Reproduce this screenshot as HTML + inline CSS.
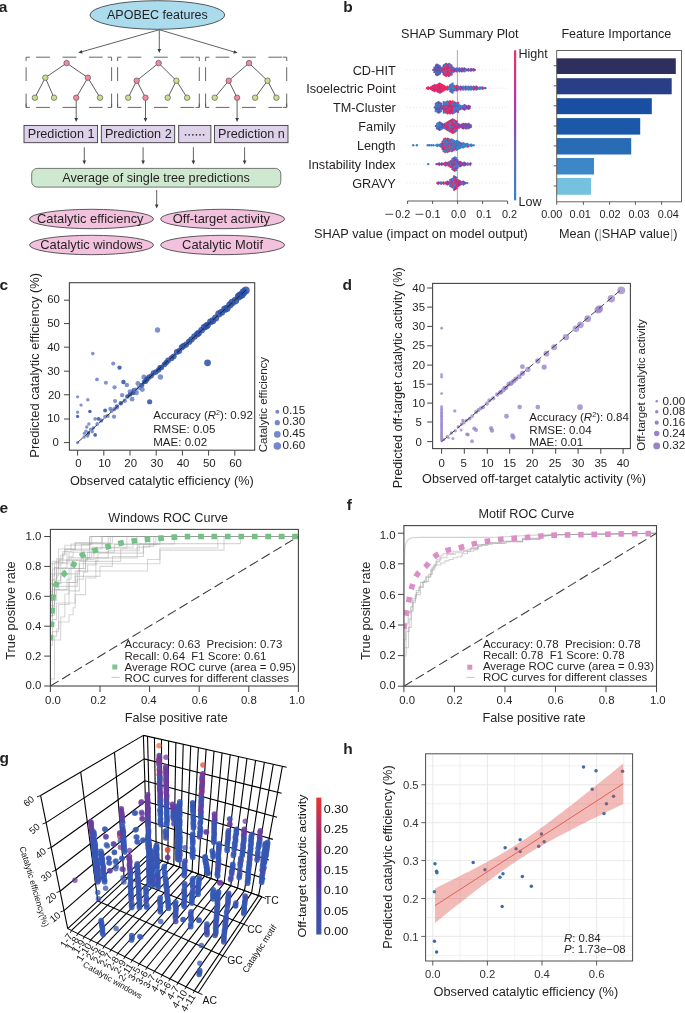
<!DOCTYPE html>
<html><head><meta charset="utf-8"><style>
html,body{margin:0;padding:0;background:#fff;}
body{width:685px;height:1013px;overflow:hidden;}
svg{display:block;font-family:"Liberation Sans", sans-serif;will-change:transform;}
</style></head><body>
<svg width="685" height="1013" viewBox="0 0 685 1013">
<rect x="0" y="0" width="685" height="1013" fill="#fff"/>
<text x="-1.20" y="11.80" font-size="15.5" text-anchor="start" font-weight="bold" fill="#231f20" >a</text>
<text x="343.30" y="11.70" font-size="15.5" text-anchor="start" font-weight="bold" fill="#231f20" >b</text>
<text x="-0.50" y="290.40" font-size="15.5" text-anchor="start" font-weight="bold" fill="#231f20" >c</text>
<text x="342.60" y="290.30" font-size="15.5" text-anchor="start" font-weight="bold" fill="#231f20" >d</text>
<text x="-0.50" y="513.40" font-size="15.5" text-anchor="start" font-weight="bold" fill="#231f20" >e</text>
<text x="346.80" y="509.90" font-size="15.5" text-anchor="start" font-weight="bold" fill="#231f20" >f</text>
<text x="-0.50" y="762.50" font-size="15.5" text-anchor="start" font-weight="bold" fill="#231f20" >g</text>
<text x="343.20" y="754.00" font-size="15.5" text-anchor="start" font-weight="bold" fill="#231f20" >h</text>
<ellipse cx="157.4" cy="15.0" rx="67.4" ry="14.3" fill="#abdcee" stroke="#333" stroke-width="0.8"/>
<text x="157.40" y="19.40" font-size="12.5" text-anchor="middle" font-weight="normal" fill="#231f20" >APOBEC features</text>
<line x1="159.00" y1="29.80" x2="81.67" y2="51.84" stroke="#3a3a3a" stroke-width="0.8" />
<path d="M78.30,52.80 L81.65,49.97 L82.64,53.43 Z" fill="#3a3a3a"/>
<line x1="159.30" y1="29.80" x2="159.30" y2="49.50" stroke="#3a3a3a" stroke-width="0.8" />
<path d="M159.30,53.00 L157.50,49.00 L161.10,49.00 Z" fill="#3a3a3a"/>
<line x1="159.60" y1="29.80" x2="234.25" y2="52.00" stroke="#3a3a3a" stroke-width="0.8" />
<path d="M237.60,53.00 L233.25,53.58 L234.28,50.13 Z" fill="#3a3a3a"/>
<line x1="26.10" y1="57.20" x2="111.60" y2="57.20" stroke="#555" stroke-width="0.9" stroke-dasharray="13.8 12.6" stroke-dashoffset="16.4"/>
<line x1="26.10" y1="107.40" x2="111.60" y2="107.40" stroke="#555" stroke-width="0.9" stroke-dasharray="13.8 12.6" stroke-dashoffset="16.4"/>
<line x1="26.10" y1="57.20" x2="26.10" y2="107.40" stroke="#555" stroke-width="0.9" stroke-dasharray="13.8 12.6" stroke-dashoffset="16.4"/>
<line x1="111.60" y1="57.20" x2="111.60" y2="107.40" stroke="#555" stroke-width="0.9" stroke-dasharray="13.8 12.6" stroke-dashoffset="16.4"/>
<path d="M29.90,57.20 L26.10,57.20 L26.10,61.00" fill="none" stroke="#555" stroke-width="0.9"/>
<path d="M107.80,57.20 L111.60,57.20 L111.60,61.00" fill="none" stroke="#555" stroke-width="0.9"/>
<path d="M29.90,107.40 L26.10,107.40 L26.10,103.60" fill="none" stroke="#555" stroke-width="0.9"/>
<path d="M107.80,107.40 L111.60,107.40 L111.60,103.60" fill="none" stroke="#555" stroke-width="0.9"/>
<line x1="117.60" y1="57.20" x2="199.30" y2="57.20" stroke="#555" stroke-width="0.9" stroke-dasharray="13.8 12.6" stroke-dashoffset="16.4"/>
<line x1="117.60" y1="107.40" x2="199.30" y2="107.40" stroke="#555" stroke-width="0.9" stroke-dasharray="13.8 12.6" stroke-dashoffset="16.4"/>
<line x1="117.60" y1="57.20" x2="117.60" y2="107.40" stroke="#555" stroke-width="0.9" stroke-dasharray="13.8 12.6" stroke-dashoffset="16.4"/>
<line x1="199.30" y1="57.20" x2="199.30" y2="107.40" stroke="#555" stroke-width="0.9" stroke-dasharray="13.8 12.6" stroke-dashoffset="16.4"/>
<path d="M121.40,57.20 L117.60,57.20 L117.60,61.00" fill="none" stroke="#555" stroke-width="0.9"/>
<path d="M195.50,57.20 L199.30,57.20 L199.30,61.00" fill="none" stroke="#555" stroke-width="0.9"/>
<path d="M121.40,107.40 L117.60,107.40 L117.60,103.60" fill="none" stroke="#555" stroke-width="0.9"/>
<path d="M195.50,107.40 L199.30,107.40 L199.30,103.60" fill="none" stroke="#555" stroke-width="0.9"/>
<line x1="205.60" y1="57.20" x2="286.70" y2="57.20" stroke="#555" stroke-width="0.9" stroke-dasharray="13.8 12.6" stroke-dashoffset="16.4"/>
<line x1="205.60" y1="107.40" x2="286.70" y2="107.40" stroke="#555" stroke-width="0.9" stroke-dasharray="13.8 12.6" stroke-dashoffset="16.4"/>
<line x1="205.60" y1="57.20" x2="205.60" y2="107.40" stroke="#555" stroke-width="0.9" stroke-dasharray="13.8 12.6" stroke-dashoffset="16.4"/>
<line x1="286.70" y1="57.20" x2="286.70" y2="107.40" stroke="#555" stroke-width="0.9" stroke-dasharray="13.8 12.6" stroke-dashoffset="16.4"/>
<path d="M209.40,57.20 L205.60,57.20 L205.60,61.00" fill="none" stroke="#555" stroke-width="0.9"/>
<path d="M282.90,57.20 L286.70,57.20 L286.70,61.00" fill="none" stroke="#555" stroke-width="0.9"/>
<path d="M209.40,107.40 L205.60,107.40 L205.60,103.60" fill="none" stroke="#555" stroke-width="0.9"/>
<path d="M282.90,107.40 L286.70,107.40 L286.70,103.60" fill="none" stroke="#555" stroke-width="0.9"/>
<line x1="66.60" y1="63.10" x2="45.30" y2="77.70" stroke="#333" stroke-width="0.8" />
<line x1="66.60" y1="63.10" x2="87.90" y2="77.70" stroke="#333" stroke-width="0.8" />
<line x1="45.30" y1="77.70" x2="34.90" y2="97.70" stroke="#333" stroke-width="0.8" />
<line x1="45.30" y1="77.70" x2="54.00" y2="97.70" stroke="#333" stroke-width="0.8" />
<line x1="87.90" y1="77.70" x2="76.20" y2="97.70" stroke="#333" stroke-width="0.8" />
<line x1="87.90" y1="77.70" x2="100.00" y2="97.70" stroke="#333" stroke-width="0.8" />
<circle cx="66.60" cy="63.10" r="2.75" fill="#f28ba1" stroke="#444" stroke-width="0.6"/>
<circle cx="45.30" cy="77.70" r="2.75" fill="#c8e08f" stroke="#444" stroke-width="0.6"/>
<circle cx="87.90" cy="77.70" r="2.75" fill="#f28ba1" stroke="#444" stroke-width="0.6"/>
<circle cx="34.90" cy="97.70" r="2.75" fill="#c8e08f" stroke="#444" stroke-width="0.6"/>
<circle cx="54.00" cy="97.70" r="2.75" fill="#c8e08f" stroke="#444" stroke-width="0.6"/>
<circle cx="76.20" cy="97.70" r="2.75" fill="#f28ba1" stroke="#444" stroke-width="0.6"/>
<circle cx="100.00" cy="97.70" r="2.75" fill="#c8e08f" stroke="#444" stroke-width="0.6"/>
<line x1="158.60" y1="63.10" x2="136.70" y2="80.70" stroke="#333" stroke-width="0.8" />
<line x1="158.60" y1="63.10" x2="176.40" y2="80.70" stroke="#333" stroke-width="0.8" />
<line x1="136.70" y1="80.70" x2="128.20" y2="97.70" stroke="#333" stroke-width="0.8" />
<line x1="136.70" y1="80.70" x2="145.50" y2="97.70" stroke="#333" stroke-width="0.8" />
<line x1="176.40" y1="80.70" x2="167.70" y2="97.70" stroke="#333" stroke-width="0.8" />
<line x1="176.40" y1="80.70" x2="187.10" y2="97.70" stroke="#333" stroke-width="0.8" />
<circle cx="158.60" cy="63.10" r="2.75" fill="#f28ba1" stroke="#444" stroke-width="0.6"/>
<circle cx="136.70" cy="80.70" r="2.75" fill="#f28ba1" stroke="#444" stroke-width="0.6"/>
<circle cx="176.40" cy="80.70" r="2.75" fill="#c8e08f" stroke="#444" stroke-width="0.6"/>
<circle cx="128.20" cy="97.70" r="2.75" fill="#c8e08f" stroke="#444" stroke-width="0.6"/>
<circle cx="145.50" cy="97.70" r="2.75" fill="#f28ba1" stroke="#444" stroke-width="0.6"/>
<circle cx="167.70" cy="97.70" r="2.75" fill="#c8e08f" stroke="#444" stroke-width="0.6"/>
<circle cx="187.10" cy="97.70" r="2.75" fill="#c8e08f" stroke="#444" stroke-width="0.6"/>
<line x1="249.00" y1="63.10" x2="228.70" y2="80.70" stroke="#333" stroke-width="0.8" />
<line x1="249.00" y1="63.10" x2="267.50" y2="80.70" stroke="#333" stroke-width="0.8" />
<line x1="228.70" y1="80.70" x2="214.70" y2="97.70" stroke="#333" stroke-width="0.8" />
<line x1="228.70" y1="80.70" x2="237.10" y2="97.70" stroke="#333" stroke-width="0.8" />
<line x1="267.50" y1="80.70" x2="255.10" y2="97.70" stroke="#333" stroke-width="0.8" />
<line x1="267.50" y1="80.70" x2="276.40" y2="97.70" stroke="#333" stroke-width="0.8" />
<circle cx="249.00" cy="63.10" r="2.75" fill="#f28ba1" stroke="#444" stroke-width="0.6"/>
<circle cx="228.70" cy="80.70" r="2.75" fill="#f28ba1" stroke="#444" stroke-width="0.6"/>
<circle cx="267.50" cy="80.70" r="2.75" fill="#c8e08f" stroke="#444" stroke-width="0.6"/>
<circle cx="214.70" cy="97.70" r="2.75" fill="#c8e08f" stroke="#444" stroke-width="0.6"/>
<circle cx="237.10" cy="97.70" r="2.75" fill="#f28ba1" stroke="#444" stroke-width="0.6"/>
<circle cx="255.10" cy="97.70" r="2.75" fill="#c8e08f" stroke="#444" stroke-width="0.6"/>
<circle cx="276.40" cy="97.70" r="2.75" fill="#c8e08f" stroke="#444" stroke-width="0.6"/>
<line x1="76.20" y1="100.50" x2="76.20" y2="118.50" stroke="#3a3a3a" stroke-width="0.8" />
<path d="M76.20,122.00 L74.40,118.00 L78.00,118.00 Z" fill="#3a3a3a"/>
<line x1="145.50" y1="100.50" x2="145.50" y2="118.50" stroke="#3a3a3a" stroke-width="0.8" />
<path d="M145.50,122.00 L143.70,118.00 L147.30,118.00 Z" fill="#3a3a3a"/>
<line x1="237.10" y1="100.50" x2="237.10" y2="118.50" stroke="#3a3a3a" stroke-width="0.8" />
<path d="M237.10,122.00 L235.30,118.00 L238.90,118.00 Z" fill="#3a3a3a"/>
<rect x="24.00" y="125.4" width="73.60" height="17.3" fill="#ddd2ea" stroke="#333" stroke-width="0.85"/>
<text x="61.10" y="137.80" font-size="12.65" text-anchor="middle" font-weight="normal" fill="#231f20" >Prediction 1</text>
<rect x="101.30" y="125.4" width="73.40" height="17.3" fill="#ddd2ea" stroke="#333" stroke-width="0.85"/>
<text x="138.30" y="137.80" font-size="12.65" text-anchor="middle" font-weight="normal" fill="#231f20" >Prediction 2</text>
<rect x="178.70" y="125.4" width="32.20" height="17.3" fill="#ddd2ea" stroke="#333" stroke-width="0.85"/>
<rect x="214.40" y="125.4" width="73.60" height="17.3" fill="#ddd2ea" stroke="#333" stroke-width="0.85"/>
<text x="251.50" y="137.80" font-size="12.65" text-anchor="middle" font-weight="normal" fill="#231f20" >Prediction n</text>
<circle cx="185.60" cy="134.80" r="0.90" fill="#333" stroke="none" stroke-width="0"/>
<circle cx="189.20" cy="134.80" r="0.90" fill="#333" stroke="none" stroke-width="0"/>
<circle cx="192.80" cy="134.80" r="0.90" fill="#333" stroke="none" stroke-width="0"/>
<circle cx="196.40" cy="134.80" r="0.90" fill="#333" stroke="none" stroke-width="0"/>
<circle cx="200.00" cy="134.80" r="0.90" fill="#333" stroke="none" stroke-width="0"/>
<circle cx="203.60" cy="134.80" r="0.90" fill="#333" stroke="none" stroke-width="0"/>
<line x1="84.30" y1="147.20" x2="84.30" y2="161.10" stroke="#3a3a3a" stroke-width="0.8" />
<path d="M84.30,164.60 L82.50,160.60 L86.10,160.60 Z" fill="#3a3a3a"/>
<line x1="143.10" y1="147.20" x2="143.10" y2="161.10" stroke="#3a3a3a" stroke-width="0.8" />
<path d="M143.10,164.60 L141.30,160.60 L144.90,160.60 Z" fill="#3a3a3a"/>
<line x1="193.40" y1="147.20" x2="193.40" y2="161.10" stroke="#3a3a3a" stroke-width="0.8" />
<path d="M193.40,164.60 L191.60,160.60 L195.20,160.60 Z" fill="#3a3a3a"/>
<line x1="244.60" y1="147.20" x2="244.60" y2="161.10" stroke="#3a3a3a" stroke-width="0.8" />
<path d="M244.60,164.60 L242.80,160.60 L246.40,160.60 Z" fill="#3a3a3a"/>
<rect x="31.7" y="168.4" width="249.1" height="18.7" rx="5.5" ry="5.5" fill="#cfe9d1" stroke="#555" stroke-width="0.8"/>
<text x="156.00" y="181.90" font-size="12.67" text-anchor="middle" font-weight="normal" fill="#231f20" >Average of single tree predictions</text>
<line x1="156.70" y1="190.00" x2="156.70" y2="205.10" stroke="#3a3a3a" stroke-width="0.8" />
<path d="M156.70,208.60 L154.90,204.60 L158.50,204.60 Z" fill="#3a3a3a"/>
<ellipse cx="91.5" cy="219.0" rx="62.0" ry="9.7" fill="#f2c1dd" stroke="#333" stroke-width="0.8"/>
<text x="90.30" y="223.10" font-size="12.9" text-anchor="middle" font-weight="normal" fill="#231f20" >Catalytic efficiency</text>
<ellipse cx="222.6" cy="219.0" rx="62.0" ry="9.7" fill="#f2c1dd" stroke="#333" stroke-width="0.8"/>
<text x="221.40" y="223.10" font-size="12.9" text-anchor="middle" font-weight="normal" fill="#231f20" >Off-target activity</text>
<ellipse cx="91.5" cy="245.0" rx="62.0" ry="9.7" fill="#f2c1dd" stroke="#333" stroke-width="0.8"/>
<text x="91.50" y="249.10" font-size="12.9" text-anchor="middle" font-weight="normal" fill="#231f20" >Catalytic windows</text>
<ellipse cx="222.6" cy="245.0" rx="62.0" ry="9.7" fill="#f2c1dd" stroke="#333" stroke-width="0.8"/>
<text x="222.60" y="249.10" font-size="12.9" text-anchor="middle" font-weight="normal" fill="#231f20" >Catalytic Motif</text>
<text x="401.00" y="38.20" font-size="12.7" text-anchor="start" font-weight="normal" fill="#231f20" >SHAP Summary Plot</text>
<text x="561.40" y="38.40" font-size="12.6" text-anchor="start" font-weight="normal" fill="#231f20" >Feature Importance</text>
<text x="395.70" y="74.90" font-size="12.7" text-anchor="end" font-weight="normal" fill="#231f20" >CD-HIT</text>
<line x1="406.5" y1="69.90" x2="507" y2="69.90" stroke="#c8c8c8" stroke-width="0.7" stroke-dasharray="0.7 2.6"/>
<text x="395.70" y="93.20" font-size="12.7" text-anchor="end" font-weight="normal" fill="#231f20" >Isoelectric Point</text>
<line x1="406.5" y1="88.20" x2="507" y2="88.20" stroke="#c8c8c8" stroke-width="0.7" stroke-dasharray="0.7 2.6"/>
<text x="395.70" y="112.40" font-size="12.7" text-anchor="end" font-weight="normal" fill="#231f20" >TM-Cluster</text>
<line x1="406.5" y1="107.40" x2="507" y2="107.40" stroke="#c8c8c8" stroke-width="0.7" stroke-dasharray="0.7 2.6"/>
<text x="395.70" y="131.20" font-size="12.7" text-anchor="end" font-weight="normal" fill="#231f20" >Family</text>
<line x1="406.5" y1="126.20" x2="507" y2="126.20" stroke="#c8c8c8" stroke-width="0.7" stroke-dasharray="0.7 2.6"/>
<text x="395.70" y="150.30" font-size="12.7" text-anchor="end" font-weight="normal" fill="#231f20" >Length</text>
<line x1="406.5" y1="145.30" x2="507" y2="145.30" stroke="#c8c8c8" stroke-width="0.7" stroke-dasharray="0.7 2.6"/>
<text x="395.70" y="169.10" font-size="12.7" text-anchor="end" font-weight="normal" fill="#231f20" >Instability Index</text>
<line x1="406.5" y1="164.10" x2="507" y2="164.10" stroke="#c8c8c8" stroke-width="0.7" stroke-dasharray="0.7 2.6"/>
<text x="395.70" y="188.10" font-size="12.7" text-anchor="end" font-weight="normal" fill="#231f20" >GRAVY</text>
<line x1="406.5" y1="183.10" x2="507" y2="183.10" stroke="#c8c8c8" stroke-width="0.7" stroke-dasharray="0.7 2.6"/>
<line x1="457.40" y1="50.00" x2="457.40" y2="201.00" stroke="#a0a0a0" stroke-width="0.9" />
<circle cx="433.23" cy="69.90" r="1.15" fill="#5f56ad" stroke="none" stroke-width="0"/>
<circle cx="434.66" cy="70.65" r="1.15" fill="#5f56ad" stroke="none" stroke-width="0"/>
<circle cx="434.61" cy="69.15" r="1.15" fill="#5f56ad" stroke="none" stroke-width="0"/>
<circle cx="434.42" cy="72.15" r="1.15" fill="#5f56ad" stroke="none" stroke-width="0"/>
<circle cx="434.41" cy="67.65" r="1.15" fill="#5f56ad" stroke="none" stroke-width="0"/>
<circle cx="435.73" cy="69.90" r="1.15" fill="#5f56ad" stroke="none" stroke-width="0"/>
<circle cx="435.87" cy="71.40" r="1.15" fill="#5f56ad" stroke="none" stroke-width="0"/>
<circle cx="435.75" cy="68.40" r="1.15" fill="#5f56ad" stroke="none" stroke-width="0"/>
<circle cx="435.95" cy="72.90" r="1.15" fill="#3a7fc8" stroke="none" stroke-width="0"/>
<circle cx="435.93" cy="66.90" r="1.15" fill="#5f56ad" stroke="none" stroke-width="0"/>
<circle cx="436.09" cy="74.40" r="1.15" fill="#5f56ad" stroke="none" stroke-width="0"/>
<circle cx="436.04" cy="65.40" r="1.15" fill="#5f56ad" stroke="none" stroke-width="0"/>
<circle cx="437.06" cy="70.65" r="1.15" fill="#5f56ad" stroke="none" stroke-width="0"/>
<circle cx="437.12" cy="69.15" r="1.15" fill="#5f56ad" stroke="none" stroke-width="0"/>
<circle cx="437.07" cy="72.15" r="1.15" fill="#5f56ad" stroke="none" stroke-width="0"/>
<circle cx="437.26" cy="67.65" r="1.15" fill="#5f56ad" stroke="none" stroke-width="0"/>
<circle cx="437.22" cy="73.65" r="1.15" fill="#5f56ad" stroke="none" stroke-width="0"/>
<circle cx="437.02" cy="66.15" r="1.15" fill="#5f56ad" stroke="none" stroke-width="0"/>
<circle cx="437.27" cy="75.15" r="1.15" fill="#5f56ad" stroke="none" stroke-width="0"/>
<circle cx="437.13" cy="64.65" r="1.15" fill="#5f56ad" stroke="none" stroke-width="0"/>
<circle cx="438.48" cy="69.90" r="1.15" fill="#5f56ad" stroke="none" stroke-width="0"/>
<circle cx="438.62" cy="71.40" r="1.15" fill="#5f56ad" stroke="none" stroke-width="0"/>
<circle cx="438.40" cy="68.40" r="1.15" fill="#5f56ad" stroke="none" stroke-width="0"/>
<circle cx="438.51" cy="72.90" r="1.15" fill="#3a7fc8" stroke="none" stroke-width="0"/>
<circle cx="438.59" cy="66.90" r="1.15" fill="#5f56ad" stroke="none" stroke-width="0"/>
<circle cx="438.69" cy="74.40" r="1.15" fill="#5f56ad" stroke="none" stroke-width="0"/>
<circle cx="438.47" cy="65.40" r="1.15" fill="#5f56ad" stroke="none" stroke-width="0"/>
<circle cx="439.66" cy="70.65" r="1.15" fill="#5f56ad" stroke="none" stroke-width="0"/>
<circle cx="439.62" cy="69.15" r="1.15" fill="#5f56ad" stroke="none" stroke-width="0"/>
<circle cx="439.91" cy="72.15" r="1.15" fill="#5f56ad" stroke="none" stroke-width="0"/>
<circle cx="439.95" cy="67.65" r="1.15" fill="#5f56ad" stroke="none" stroke-width="0"/>
<circle cx="439.88" cy="73.65" r="1.15" fill="#5f56ad" stroke="none" stroke-width="0"/>
<circle cx="439.83" cy="66.15" r="1.15" fill="#5f56ad" stroke="none" stroke-width="0"/>
<circle cx="441.24" cy="69.90" r="1.15" fill="#3a7fc8" stroke="none" stroke-width="0"/>
<circle cx="441.09" cy="71.40" r="1.15" fill="#5f56ad" stroke="none" stroke-width="0"/>
<circle cx="440.92" cy="68.40" r="1.15" fill="#5f56ad" stroke="none" stroke-width="0"/>
<circle cx="442.46" cy="70.65" r="1.15" fill="#8a3fa5" stroke="none" stroke-width="0"/>
<circle cx="442.53" cy="69.15" r="1.15" fill="#f0245e" stroke="none" stroke-width="0"/>
<circle cx="442.35" cy="72.15" r="1.15" fill="#3a7fc8" stroke="none" stroke-width="0"/>
<circle cx="442.21" cy="67.65" r="1.15" fill="#3a7fc8" stroke="none" stroke-width="0"/>
<circle cx="443.57" cy="69.90" r="1.15" fill="#f0245e" stroke="none" stroke-width="0"/>
<circle cx="443.52" cy="71.40" r="1.15" fill="#3a7fc8" stroke="none" stroke-width="0"/>
<circle cx="443.55" cy="68.40" r="1.15" fill="#f0245e" stroke="none" stroke-width="0"/>
<circle cx="443.66" cy="72.90" r="1.15" fill="#8a3fa5" stroke="none" stroke-width="0"/>
<circle cx="443.53" cy="66.90" r="1.15" fill="#3a7fc8" stroke="none" stroke-width="0"/>
<circle cx="443.72" cy="74.40" r="1.15" fill="#8a3fa5" stroke="none" stroke-width="0"/>
<circle cx="443.83" cy="65.40" r="1.15" fill="#8a3fa5" stroke="none" stroke-width="0"/>
<circle cx="444.91" cy="70.65" r="1.15" fill="#f0245e" stroke="none" stroke-width="0"/>
<circle cx="444.94" cy="69.15" r="1.15" fill="#8a3fa5" stroke="none" stroke-width="0"/>
<circle cx="445.18" cy="72.15" r="1.15" fill="#f0245e" stroke="none" stroke-width="0"/>
<circle cx="444.87" cy="67.65" r="1.15" fill="#f0245e" stroke="none" stroke-width="0"/>
<circle cx="444.89" cy="73.65" r="1.15" fill="#3a7fc8" stroke="none" stroke-width="0"/>
<circle cx="445.04" cy="66.15" r="1.15" fill="#f0245e" stroke="none" stroke-width="0"/>
<circle cx="444.80" cy="75.15" r="1.15" fill="#f0245e" stroke="none" stroke-width="0"/>
<circle cx="444.95" cy="64.65" r="1.15" fill="#3a7fc8" stroke="none" stroke-width="0"/>
<circle cx="446.48" cy="69.90" r="1.15" fill="#3a7fc8" stroke="none" stroke-width="0"/>
<circle cx="446.31" cy="71.40" r="1.15" fill="#3a7fc8" stroke="none" stroke-width="0"/>
<circle cx="446.37" cy="68.40" r="1.15" fill="#f0245e" stroke="none" stroke-width="0"/>
<circle cx="446.46" cy="72.90" r="1.15" fill="#3a7fc8" stroke="none" stroke-width="0"/>
<circle cx="446.45" cy="66.90" r="1.15" fill="#3a7fc8" stroke="none" stroke-width="0"/>
<circle cx="446.26" cy="74.40" r="1.15" fill="#f0245e" stroke="none" stroke-width="0"/>
<circle cx="446.14" cy="65.40" r="1.15" fill="#3a7fc8" stroke="none" stroke-width="0"/>
<circle cx="446.12" cy="75.90" r="1.15" fill="#f0245e" stroke="none" stroke-width="0"/>
<circle cx="446.18" cy="63.90" r="1.15" fill="#f0245e" stroke="none" stroke-width="0"/>
<circle cx="447.54" cy="70.65" r="1.15" fill="#f0245e" stroke="none" stroke-width="0"/>
<circle cx="447.40" cy="69.15" r="1.15" fill="#f0245e" stroke="none" stroke-width="0"/>
<circle cx="447.44" cy="72.15" r="1.15" fill="#f0245e" stroke="none" stroke-width="0"/>
<circle cx="447.41" cy="67.65" r="1.15" fill="#8a3fa5" stroke="none" stroke-width="0"/>
<circle cx="447.65" cy="73.65" r="1.15" fill="#f0245e" stroke="none" stroke-width="0"/>
<circle cx="447.50" cy="66.15" r="1.15" fill="#f0245e" stroke="none" stroke-width="0"/>
<circle cx="447.55" cy="75.15" r="1.15" fill="#f0245e" stroke="none" stroke-width="0"/>
<circle cx="447.74" cy="64.65" r="1.15" fill="#8a3fa5" stroke="none" stroke-width="0"/>
<circle cx="448.89" cy="69.90" r="1.15" fill="#3a7fc8" stroke="none" stroke-width="0"/>
<circle cx="448.73" cy="71.40" r="1.15" fill="#f0245e" stroke="none" stroke-width="0"/>
<circle cx="448.84" cy="68.40" r="1.15" fill="#f0245e" stroke="none" stroke-width="0"/>
<circle cx="449.03" cy="72.90" r="1.15" fill="#f0245e" stroke="none" stroke-width="0"/>
<circle cx="448.71" cy="66.90" r="1.15" fill="#8a3fa5" stroke="none" stroke-width="0"/>
<circle cx="448.91" cy="74.40" r="1.15" fill="#f0245e" stroke="none" stroke-width="0"/>
<circle cx="448.92" cy="65.40" r="1.15" fill="#f0245e" stroke="none" stroke-width="0"/>
<circle cx="448.91" cy="75.90" r="1.15" fill="#8a3fa5" stroke="none" stroke-width="0"/>
<circle cx="449.05" cy="63.90" r="1.15" fill="#3a7fc8" stroke="none" stroke-width="0"/>
<circle cx="450.10" cy="70.65" r="1.15" fill="#f0245e" stroke="none" stroke-width="0"/>
<circle cx="450.07" cy="69.15" r="1.15" fill="#3a7fc8" stroke="none" stroke-width="0"/>
<circle cx="450.21" cy="72.15" r="1.15" fill="#3a7fc8" stroke="none" stroke-width="0"/>
<circle cx="450.13" cy="67.65" r="1.15" fill="#f0245e" stroke="none" stroke-width="0"/>
<circle cx="450.32" cy="73.65" r="1.15" fill="#8a3fa5" stroke="none" stroke-width="0"/>
<circle cx="450.34" cy="66.15" r="1.15" fill="#3a7fc8" stroke="none" stroke-width="0"/>
<circle cx="450.33" cy="75.15" r="1.15" fill="#3a7fc8" stroke="none" stroke-width="0"/>
<circle cx="450.09" cy="64.65" r="1.15" fill="#3a7fc8" stroke="none" stroke-width="0"/>
<circle cx="451.44" cy="69.90" r="1.15" fill="#f0245e" stroke="none" stroke-width="0"/>
<circle cx="451.31" cy="71.40" r="1.15" fill="#f0245e" stroke="none" stroke-width="0"/>
<circle cx="451.40" cy="68.40" r="1.15" fill="#3a7fc8" stroke="none" stroke-width="0"/>
<circle cx="451.68" cy="72.90" r="1.15" fill="#3a7fc8" stroke="none" stroke-width="0"/>
<circle cx="451.67" cy="66.90" r="1.15" fill="#8a3fa5" stroke="none" stroke-width="0"/>
<circle cx="451.68" cy="74.40" r="1.15" fill="#f0245e" stroke="none" stroke-width="0"/>
<circle cx="451.39" cy="65.40" r="1.15" fill="#f0245e" stroke="none" stroke-width="0"/>
<circle cx="452.68" cy="70.65" r="1.15" fill="#f0245e" stroke="none" stroke-width="0"/>
<circle cx="452.85" cy="69.15" r="1.15" fill="#8a3fa5" stroke="none" stroke-width="0"/>
<circle cx="452.94" cy="72.15" r="1.15" fill="#3a7fc8" stroke="none" stroke-width="0"/>
<circle cx="452.86" cy="67.65" r="1.15" fill="#3a7fc8" stroke="none" stroke-width="0"/>
<circle cx="453.93" cy="69.90" r="1.15" fill="#8a3fa5" stroke="none" stroke-width="0"/>
<circle cx="454.26" cy="71.40" r="1.15" fill="#8a3fa5" stroke="none" stroke-width="0"/>
<circle cx="454.20" cy="68.40" r="1.15" fill="#3a7fc8" stroke="none" stroke-width="0"/>
<circle cx="455.27" cy="70.65" r="1.15" fill="#8a3fa5" stroke="none" stroke-width="0"/>
<circle cx="455.33" cy="69.15" r="1.15" fill="#8a3fa5" stroke="none" stroke-width="0"/>
<circle cx="456.89" cy="69.90" r="1.15" fill="#3a7fc8" stroke="none" stroke-width="0"/>
<circle cx="456.66" cy="71.40" r="1.15" fill="#8a3fa5" stroke="none" stroke-width="0"/>
<circle cx="456.79" cy="68.40" r="1.15" fill="#3a7fc8" stroke="none" stroke-width="0"/>
<circle cx="457.85" cy="70.65" r="1.15" fill="#3a7fc8" stroke="none" stroke-width="0"/>
<circle cx="458.16" cy="69.15" r="1.15" fill="#8a3fa5" stroke="none" stroke-width="0"/>
<circle cx="459.16" cy="69.90" r="1.15" fill="#8a3fa5" stroke="none" stroke-width="0"/>
<circle cx="459.49" cy="71.40" r="1.15" fill="#8a3fa5" stroke="none" stroke-width="0"/>
<circle cx="459.24" cy="68.40" r="1.15" fill="#3a7fc8" stroke="none" stroke-width="0"/>
<circle cx="460.45" cy="70.65" r="1.15" fill="#3a7fc8" stroke="none" stroke-width="0"/>
<circle cx="460.79" cy="69.15" r="1.15" fill="#8a3fa5" stroke="none" stroke-width="0"/>
<circle cx="461.91" cy="69.90" r="1.15" fill="#8a3fa5" stroke="none" stroke-width="0"/>
<circle cx="461.87" cy="71.40" r="1.15" fill="#8a3fa5" stroke="none" stroke-width="0"/>
<circle cx="462.03" cy="68.40" r="1.15" fill="#3a7fc8" stroke="none" stroke-width="0"/>
<circle cx="463.10" cy="70.65" r="1.15" fill="#8a3fa5" stroke="none" stroke-width="0"/>
<circle cx="463.10" cy="69.15" r="1.15" fill="#8a3fa5" stroke="none" stroke-width="0"/>
<circle cx="464.40" cy="69.90" r="1.15" fill="#8a3fa5" stroke="none" stroke-width="0"/>
<circle cx="464.35" cy="71.40" r="1.15" fill="#3a7fc8" stroke="none" stroke-width="0"/>
<circle cx="464.44" cy="68.40" r="1.15" fill="#8a3fa5" stroke="none" stroke-width="0"/>
<circle cx="465.83" cy="70.65" r="1.15" fill="#3a7fc8" stroke="none" stroke-width="0"/>
<circle cx="465.77" cy="69.15" r="1.15" fill="#3a7fc8" stroke="none" stroke-width="0"/>
<circle cx="467.10" cy="69.90" r="1.15" fill="#8a3fa5" stroke="none" stroke-width="0"/>
<circle cx="468.41" cy="70.65" r="1.15" fill="#8a3fa5" stroke="none" stroke-width="0"/>
<circle cx="468.38" cy="69.15" r="1.15" fill="#8a3fa5" stroke="none" stroke-width="0"/>
<circle cx="469.50" cy="69.90" r="1.15" fill="#3a7fc8" stroke="none" stroke-width="0"/>
<circle cx="470.87" cy="70.65" r="1.15" fill="#8a3fa5" stroke="none" stroke-width="0"/>
<circle cx="471.09" cy="69.15" r="1.15" fill="#8a3fa5" stroke="none" stroke-width="0"/>
<circle cx="472.23" cy="69.90" r="1.15" fill="#8a3fa5" stroke="none" stroke-width="0"/>
<circle cx="473.62" cy="70.65" r="1.15" fill="#3a7fc8" stroke="none" stroke-width="0"/>
<circle cx="473.44" cy="69.15" r="1.15" fill="#8a3fa5" stroke="none" stroke-width="0"/>
<circle cx="474.80" cy="69.90" r="1.15" fill="#8a3fa5" stroke="none" stroke-width="0"/>
<circle cx="426.91" cy="88.20" r="1.15" fill="#f0245e" stroke="none" stroke-width="0"/>
<circle cx="428.12" cy="88.95" r="1.15" fill="#f0245e" stroke="none" stroke-width="0"/>
<circle cx="428.26" cy="87.45" r="1.15" fill="#f0245e" stroke="none" stroke-width="0"/>
<circle cx="429.45" cy="88.20" r="1.15" fill="#f0245e" stroke="none" stroke-width="0"/>
<circle cx="430.70" cy="88.95" r="1.15" fill="#f0245e" stroke="none" stroke-width="0"/>
<circle cx="430.68" cy="87.45" r="1.15" fill="#f0245e" stroke="none" stroke-width="0"/>
<circle cx="431.99" cy="88.20" r="1.15" fill="#8a3fa5" stroke="none" stroke-width="0"/>
<circle cx="432.08" cy="89.70" r="1.15" fill="#f0245e" stroke="none" stroke-width="0"/>
<circle cx="432.18" cy="86.70" r="1.15" fill="#f0245e" stroke="none" stroke-width="0"/>
<circle cx="433.32" cy="88.95" r="1.15" fill="#8a3fa5" stroke="none" stroke-width="0"/>
<circle cx="433.44" cy="87.45" r="1.15" fill="#f0245e" stroke="none" stroke-width="0"/>
<circle cx="433.15" cy="90.45" r="1.15" fill="#f0245e" stroke="none" stroke-width="0"/>
<circle cx="433.13" cy="85.95" r="1.15" fill="#f0245e" stroke="none" stroke-width="0"/>
<circle cx="434.43" cy="88.20" r="1.15" fill="#f0245e" stroke="none" stroke-width="0"/>
<circle cx="434.71" cy="89.70" r="1.15" fill="#f0245e" stroke="none" stroke-width="0"/>
<circle cx="434.46" cy="86.70" r="1.15" fill="#f0245e" stroke="none" stroke-width="0"/>
<circle cx="434.66" cy="91.20" r="1.15" fill="#f0245e" stroke="none" stroke-width="0"/>
<circle cx="434.75" cy="85.20" r="1.15" fill="#8a3fa5" stroke="none" stroke-width="0"/>
<circle cx="435.79" cy="88.95" r="1.15" fill="#8a3fa5" stroke="none" stroke-width="0"/>
<circle cx="435.86" cy="87.45" r="1.15" fill="#f0245e" stroke="none" stroke-width="0"/>
<circle cx="436.10" cy="90.45" r="1.15" fill="#f0245e" stroke="none" stroke-width="0"/>
<circle cx="435.76" cy="85.95" r="1.15" fill="#f0245e" stroke="none" stroke-width="0"/>
<circle cx="437.21" cy="88.20" r="1.15" fill="#f0245e" stroke="none" stroke-width="0"/>
<circle cx="437.08" cy="89.70" r="1.15" fill="#f0245e" stroke="none" stroke-width="0"/>
<circle cx="437.29" cy="86.70" r="1.15" fill="#f0245e" stroke="none" stroke-width="0"/>
<circle cx="437.22" cy="91.20" r="1.15" fill="#f0245e" stroke="none" stroke-width="0"/>
<circle cx="437.01" cy="85.20" r="1.15" fill="#f0245e" stroke="none" stroke-width="0"/>
<circle cx="438.55" cy="88.95" r="1.15" fill="#f0245e" stroke="none" stroke-width="0"/>
<circle cx="438.33" cy="87.45" r="1.15" fill="#8a3fa5" stroke="none" stroke-width="0"/>
<circle cx="438.62" cy="90.45" r="1.15" fill="#8a3fa5" stroke="none" stroke-width="0"/>
<circle cx="438.34" cy="85.95" r="1.15" fill="#f0245e" stroke="none" stroke-width="0"/>
<circle cx="438.32" cy="91.95" r="1.15" fill="#f0245e" stroke="none" stroke-width="0"/>
<circle cx="438.41" cy="84.45" r="1.15" fill="#f0245e" stroke="none" stroke-width="0"/>
<circle cx="439.77" cy="88.20" r="1.15" fill="#8a3fa5" stroke="none" stroke-width="0"/>
<circle cx="439.93" cy="89.70" r="1.15" fill="#f0245e" stroke="none" stroke-width="0"/>
<circle cx="439.66" cy="86.70" r="1.15" fill="#8a3fa5" stroke="none" stroke-width="0"/>
<circle cx="439.83" cy="91.20" r="1.15" fill="#f0245e" stroke="none" stroke-width="0"/>
<circle cx="439.64" cy="85.20" r="1.15" fill="#f0245e" stroke="none" stroke-width="0"/>
<circle cx="439.88" cy="92.70" r="1.15" fill="#f0245e" stroke="none" stroke-width="0"/>
<circle cx="439.63" cy="83.70" r="1.15" fill="#8a3fa5" stroke="none" stroke-width="0"/>
<circle cx="441.15" cy="88.95" r="1.15" fill="#f0245e" stroke="none" stroke-width="0"/>
<circle cx="440.93" cy="87.45" r="1.15" fill="#f0245e" stroke="none" stroke-width="0"/>
<circle cx="440.93" cy="90.45" r="1.15" fill="#f0245e" stroke="none" stroke-width="0"/>
<circle cx="441.08" cy="85.95" r="1.15" fill="#f0245e" stroke="none" stroke-width="0"/>
<circle cx="441.12" cy="91.95" r="1.15" fill="#8a3fa5" stroke="none" stroke-width="0"/>
<circle cx="441.01" cy="84.45" r="1.15" fill="#f0245e" stroke="none" stroke-width="0"/>
<circle cx="442.41" cy="88.20" r="1.15" fill="#f0245e" stroke="none" stroke-width="0"/>
<circle cx="442.24" cy="89.70" r="1.15" fill="#f0245e" stroke="none" stroke-width="0"/>
<circle cx="442.22" cy="86.70" r="1.15" fill="#f0245e" stroke="none" stroke-width="0"/>
<circle cx="442.32" cy="91.20" r="1.15" fill="#f0245e" stroke="none" stroke-width="0"/>
<circle cx="442.50" cy="85.20" r="1.15" fill="#f0245e" stroke="none" stroke-width="0"/>
<circle cx="443.70" cy="88.95" r="1.15" fill="#f0245e" stroke="none" stroke-width="0"/>
<circle cx="443.64" cy="87.45" r="1.15" fill="#f0245e" stroke="none" stroke-width="0"/>
<circle cx="443.60" cy="90.45" r="1.15" fill="#f0245e" stroke="none" stroke-width="0"/>
<circle cx="443.79" cy="85.95" r="1.15" fill="#f0245e" stroke="none" stroke-width="0"/>
<circle cx="444.88" cy="88.20" r="1.15" fill="#f0245e" stroke="none" stroke-width="0"/>
<circle cx="445.17" cy="89.70" r="1.15" fill="#f0245e" stroke="none" stroke-width="0"/>
<circle cx="445.13" cy="86.70" r="1.15" fill="#f0245e" stroke="none" stroke-width="0"/>
<circle cx="446.30" cy="88.95" r="1.15" fill="#f0245e" stroke="none" stroke-width="0"/>
<circle cx="446.26" cy="87.45" r="1.15" fill="#f0245e" stroke="none" stroke-width="0"/>
<circle cx="447.68" cy="88.20" r="1.15" fill="#8a3fa5" stroke="none" stroke-width="0"/>
<circle cx="447.54" cy="89.70" r="1.15" fill="#f0245e" stroke="none" stroke-width="0"/>
<circle cx="447.68" cy="86.70" r="1.15" fill="#f0245e" stroke="none" stroke-width="0"/>
<circle cx="448.86" cy="88.95" r="1.15" fill="#3a7fc8" stroke="none" stroke-width="0"/>
<circle cx="448.72" cy="87.45" r="1.15" fill="#3a7fc8" stroke="none" stroke-width="0"/>
<circle cx="450.03" cy="88.20" r="1.15" fill="#3a7fc8" stroke="none" stroke-width="0"/>
<circle cx="450.10" cy="89.70" r="1.15" fill="#3a7fc8" stroke="none" stroke-width="0"/>
<circle cx="450.03" cy="86.70" r="1.15" fill="#f0245e" stroke="none" stroke-width="0"/>
<circle cx="450.35" cy="91.20" r="1.15" fill="#3a7fc8" stroke="none" stroke-width="0"/>
<circle cx="450.11" cy="85.20" r="1.15" fill="#3a7fc8" stroke="none" stroke-width="0"/>
<circle cx="451.42" cy="88.95" r="1.15" fill="#3a7fc8" stroke="none" stroke-width="0"/>
<circle cx="451.36" cy="87.45" r="1.15" fill="#3a7fc8" stroke="none" stroke-width="0"/>
<circle cx="451.41" cy="90.45" r="1.15" fill="#8a3fa5" stroke="none" stroke-width="0"/>
<circle cx="451.69" cy="85.95" r="1.15" fill="#3a7fc8" stroke="none" stroke-width="0"/>
<circle cx="451.40" cy="91.95" r="1.15" fill="#8a3fa5" stroke="none" stroke-width="0"/>
<circle cx="451.42" cy="84.45" r="1.15" fill="#3a7fc8" stroke="none" stroke-width="0"/>
<circle cx="452.60" cy="88.20" r="1.15" fill="#3a7fc8" stroke="none" stroke-width="0"/>
<circle cx="452.79" cy="89.70" r="1.15" fill="#3a7fc8" stroke="none" stroke-width="0"/>
<circle cx="452.68" cy="86.70" r="1.15" fill="#3a7fc8" stroke="none" stroke-width="0"/>
<circle cx="452.60" cy="91.20" r="1.15" fill="#3a7fc8" stroke="none" stroke-width="0"/>
<circle cx="452.64" cy="85.20" r="1.15" fill="#3a7fc8" stroke="none" stroke-width="0"/>
<circle cx="452.62" cy="92.70" r="1.15" fill="#3a7fc8" stroke="none" stroke-width="0"/>
<circle cx="452.72" cy="83.70" r="1.15" fill="#3a7fc8" stroke="none" stroke-width="0"/>
<circle cx="454.13" cy="88.95" r="1.15" fill="#3a7fc8" stroke="none" stroke-width="0"/>
<circle cx="454.20" cy="87.45" r="1.15" fill="#3a7fc8" stroke="none" stroke-width="0"/>
<circle cx="454.19" cy="90.45" r="1.15" fill="#8a3fa5" stroke="none" stroke-width="0"/>
<circle cx="454.06" cy="85.95" r="1.15" fill="#3a7fc8" stroke="none" stroke-width="0"/>
<circle cx="455.59" cy="88.20" r="1.15" fill="#3a7fc8" stroke="none" stroke-width="0"/>
<circle cx="455.49" cy="89.70" r="1.15" fill="#3a7fc8" stroke="none" stroke-width="0"/>
<circle cx="455.22" cy="86.70" r="1.15" fill="#f0245e" stroke="none" stroke-width="0"/>
<circle cx="456.86" cy="88.95" r="1.15" fill="#8a3fa5" stroke="none" stroke-width="0"/>
<circle cx="456.79" cy="87.45" r="1.15" fill="#f0245e" stroke="none" stroke-width="0"/>
<circle cx="456.56" cy="90.45" r="1.15" fill="#8a3fa5" stroke="none" stroke-width="0"/>
<circle cx="456.70" cy="85.95" r="1.15" fill="#f0245e" stroke="none" stroke-width="0"/>
<circle cx="458.12" cy="88.20" r="1.15" fill="#f0245e" stroke="none" stroke-width="0"/>
<circle cx="458.03" cy="89.70" r="1.15" fill="#f0245e" stroke="none" stroke-width="0"/>
<circle cx="458.07" cy="86.70" r="1.15" fill="#8a3fa5" stroke="none" stroke-width="0"/>
<circle cx="459.19" cy="88.95" r="1.15" fill="#3a7fc8" stroke="none" stroke-width="0"/>
<circle cx="459.15" cy="87.45" r="1.15" fill="#3a7fc8" stroke="none" stroke-width="0"/>
<circle cx="460.44" cy="88.20" r="1.15" fill="#f0245e" stroke="none" stroke-width="0"/>
<circle cx="460.62" cy="89.70" r="1.15" fill="#8a3fa5" stroke="none" stroke-width="0"/>
<circle cx="460.65" cy="86.70" r="1.15" fill="#8a3fa5" stroke="none" stroke-width="0"/>
<circle cx="461.90" cy="88.95" r="1.15" fill="#3a7fc8" stroke="none" stroke-width="0"/>
<circle cx="462.02" cy="87.45" r="1.15" fill="#8a3fa5" stroke="none" stroke-width="0"/>
<circle cx="463.20" cy="88.20" r="1.15" fill="#8a3fa5" stroke="none" stroke-width="0"/>
<circle cx="463.26" cy="89.70" r="1.15" fill="#3a7fc8" stroke="none" stroke-width="0"/>
<circle cx="463.29" cy="86.70" r="1.15" fill="#3a7fc8" stroke="none" stroke-width="0"/>
<circle cx="464.33" cy="88.95" r="1.15" fill="#3a7fc8" stroke="none" stroke-width="0"/>
<circle cx="464.59" cy="87.45" r="1.15" fill="#3a7fc8" stroke="none" stroke-width="0"/>
<circle cx="465.90" cy="88.20" r="1.15" fill="#f0245e" stroke="none" stroke-width="0"/>
<circle cx="465.80" cy="89.70" r="1.15" fill="#3a7fc8" stroke="none" stroke-width="0"/>
<circle cx="465.79" cy="86.70" r="1.15" fill="#8a3fa5" stroke="none" stroke-width="0"/>
<circle cx="467.21" cy="88.95" r="1.15" fill="#8a3fa5" stroke="none" stroke-width="0"/>
<circle cx="467.16" cy="87.45" r="1.15" fill="#3a7fc8" stroke="none" stroke-width="0"/>
<circle cx="468.26" cy="88.20" r="1.15" fill="#3a7fc8" stroke="none" stroke-width="0"/>
<circle cx="468.50" cy="89.70" r="1.15" fill="#3a7fc8" stroke="none" stroke-width="0"/>
<circle cx="468.43" cy="86.70" r="1.15" fill="#3a7fc8" stroke="none" stroke-width="0"/>
<circle cx="469.52" cy="88.95" r="1.15" fill="#3a7fc8" stroke="none" stroke-width="0"/>
<circle cx="469.77" cy="87.45" r="1.15" fill="#8a3fa5" stroke="none" stroke-width="0"/>
<circle cx="471.07" cy="88.20" r="1.15" fill="#3a7fc8" stroke="none" stroke-width="0"/>
<circle cx="471.01" cy="89.70" r="1.15" fill="#3a7fc8" stroke="none" stroke-width="0"/>
<circle cx="470.99" cy="86.70" r="1.15" fill="#3a7fc8" stroke="none" stroke-width="0"/>
<circle cx="472.46" cy="88.95" r="1.15" fill="#3a7fc8" stroke="none" stroke-width="0"/>
<circle cx="472.49" cy="87.45" r="1.15" fill="#f0245e" stroke="none" stroke-width="0"/>
<circle cx="473.41" cy="88.20" r="1.15" fill="#3a7fc8" stroke="none" stroke-width="0"/>
<circle cx="473.73" cy="89.70" r="1.15" fill="#f0245e" stroke="none" stroke-width="0"/>
<circle cx="473.58" cy="86.70" r="1.15" fill="#3a7fc8" stroke="none" stroke-width="0"/>
<circle cx="474.78" cy="88.95" r="1.15" fill="#f0245e" stroke="none" stroke-width="0"/>
<circle cx="474.78" cy="87.45" r="1.15" fill="#8a3fa5" stroke="none" stroke-width="0"/>
<circle cx="476.06" cy="88.20" r="1.15" fill="#8a3fa5" stroke="none" stroke-width="0"/>
<circle cx="476.38" cy="89.70" r="1.15" fill="#3a7fc8" stroke="none" stroke-width="0"/>
<circle cx="476.33" cy="86.70" r="1.15" fill="#8a3fa5" stroke="none" stroke-width="0"/>
<circle cx="477.65" cy="88.95" r="1.15" fill="#8a3fa5" stroke="none" stroke-width="0"/>
<circle cx="477.39" cy="87.45" r="1.15" fill="#f0245e" stroke="none" stroke-width="0"/>
<circle cx="478.79" cy="88.20" r="1.15" fill="#3a7fc8" stroke="none" stroke-width="0"/>
<circle cx="479.90" cy="88.95" r="1.15" fill="#3a7fc8" stroke="none" stroke-width="0"/>
<circle cx="480.08" cy="87.45" r="1.15" fill="#3a7fc8" stroke="none" stroke-width="0"/>
<circle cx="481.26" cy="88.20" r="1.15" fill="#3a7fc8" stroke="none" stroke-width="0"/>
<circle cx="482.63" cy="88.95" r="1.15" fill="#f0245e" stroke="none" stroke-width="0"/>
<circle cx="482.50" cy="87.45" r="1.15" fill="#8a3fa5" stroke="none" stroke-width="0"/>
<circle cx="484.14" cy="88.20" r="1.15" fill="#3a7fc8" stroke="none" stroke-width="0"/>
<circle cx="485.47" cy="88.20" r="1.15" fill="#8a3fa5" stroke="none" stroke-width="0"/>
<circle cx="434.76" cy="107.40" r="1.15" fill="#5f56ad" stroke="none" stroke-width="0"/>
<circle cx="435.85" cy="108.15" r="1.15" fill="#5f56ad" stroke="none" stroke-width="0"/>
<circle cx="436.10" cy="106.65" r="1.15" fill="#3a7fc8" stroke="none" stroke-width="0"/>
<circle cx="435.84" cy="109.65" r="1.15" fill="#5f56ad" stroke="none" stroke-width="0"/>
<circle cx="435.81" cy="105.15" r="1.15" fill="#5f56ad" stroke="none" stroke-width="0"/>
<circle cx="435.74" cy="111.15" r="1.15" fill="#3a7fc8" stroke="none" stroke-width="0"/>
<circle cx="435.81" cy="103.65" r="1.15" fill="#3a7fc8" stroke="none" stroke-width="0"/>
<circle cx="437.10" cy="107.40" r="1.15" fill="#5f56ad" stroke="none" stroke-width="0"/>
<circle cx="437.20" cy="108.90" r="1.15" fill="#5f56ad" stroke="none" stroke-width="0"/>
<circle cx="437.15" cy="105.90" r="1.15" fill="#3a7fc8" stroke="none" stroke-width="0"/>
<circle cx="437.35" cy="110.40" r="1.15" fill="#3a7fc8" stroke="none" stroke-width="0"/>
<circle cx="437.25" cy="104.40" r="1.15" fill="#3a7fc8" stroke="none" stroke-width="0"/>
<circle cx="437.38" cy="111.90" r="1.15" fill="#3a7fc8" stroke="none" stroke-width="0"/>
<circle cx="437.29" cy="102.90" r="1.15" fill="#5f56ad" stroke="none" stroke-width="0"/>
<circle cx="438.59" cy="108.15" r="1.15" fill="#5f56ad" stroke="none" stroke-width="0"/>
<circle cx="438.60" cy="106.65" r="1.15" fill="#3a7fc8" stroke="none" stroke-width="0"/>
<circle cx="438.41" cy="109.65" r="1.15" fill="#5f56ad" stroke="none" stroke-width="0"/>
<circle cx="438.67" cy="105.15" r="1.15" fill="#5f56ad" stroke="none" stroke-width="0"/>
<circle cx="438.49" cy="111.15" r="1.15" fill="#5f56ad" stroke="none" stroke-width="0"/>
<circle cx="438.42" cy="103.65" r="1.15" fill="#3a7fc8" stroke="none" stroke-width="0"/>
<circle cx="438.69" cy="112.65" r="1.15" fill="#5f56ad" stroke="none" stroke-width="0"/>
<circle cx="438.56" cy="102.15" r="1.15" fill="#5f56ad" stroke="none" stroke-width="0"/>
<circle cx="439.82" cy="107.40" r="1.15" fill="#5f56ad" stroke="none" stroke-width="0"/>
<circle cx="439.67" cy="108.90" r="1.15" fill="#5f56ad" stroke="none" stroke-width="0"/>
<circle cx="439.68" cy="105.90" r="1.15" fill="#3a7fc8" stroke="none" stroke-width="0"/>
<circle cx="439.80" cy="110.40" r="1.15" fill="#5f56ad" stroke="none" stroke-width="0"/>
<circle cx="439.96" cy="104.40" r="1.15" fill="#3a7fc8" stroke="none" stroke-width="0"/>
<circle cx="439.78" cy="111.90" r="1.15" fill="#5f56ad" stroke="none" stroke-width="0"/>
<circle cx="439.68" cy="102.90" r="1.15" fill="#5f56ad" stroke="none" stroke-width="0"/>
<circle cx="441.04" cy="108.15" r="1.15" fill="#5f56ad" stroke="none" stroke-width="0"/>
<circle cx="441.00" cy="106.65" r="1.15" fill="#5f56ad" stroke="none" stroke-width="0"/>
<circle cx="441.13" cy="109.65" r="1.15" fill="#3a7fc8" stroke="none" stroke-width="0"/>
<circle cx="441.20" cy="105.15" r="1.15" fill="#5f56ad" stroke="none" stroke-width="0"/>
<circle cx="441.07" cy="111.15" r="1.15" fill="#3a7fc8" stroke="none" stroke-width="0"/>
<circle cx="441.05" cy="103.65" r="1.15" fill="#5f56ad" stroke="none" stroke-width="0"/>
<circle cx="442.22" cy="107.40" r="1.15" fill="#5f56ad" stroke="none" stroke-width="0"/>
<circle cx="442.59" cy="108.90" r="1.15" fill="#5f56ad" stroke="none" stroke-width="0"/>
<circle cx="442.40" cy="105.90" r="1.15" fill="#3a7fc8" stroke="none" stroke-width="0"/>
<circle cx="443.85" cy="108.15" r="1.15" fill="#f0245e" stroke="none" stroke-width="0"/>
<circle cx="443.61" cy="106.65" r="1.15" fill="#f0245e" stroke="none" stroke-width="0"/>
<circle cx="443.66" cy="109.65" r="1.15" fill="#f0245e" stroke="none" stroke-width="0"/>
<circle cx="443.88" cy="105.15" r="1.15" fill="#8a3fa5" stroke="none" stroke-width="0"/>
<circle cx="443.85" cy="111.15" r="1.15" fill="#f0245e" stroke="none" stroke-width="0"/>
<circle cx="443.51" cy="103.65" r="1.15" fill="#3a7fc8" stroke="none" stroke-width="0"/>
<circle cx="443.86" cy="112.65" r="1.15" fill="#3a7fc8" stroke="none" stroke-width="0"/>
<circle cx="443.73" cy="102.15" r="1.15" fill="#f0245e" stroke="none" stroke-width="0"/>
<circle cx="444.96" cy="107.40" r="1.15" fill="#8a3fa5" stroke="none" stroke-width="0"/>
<circle cx="445.13" cy="108.90" r="1.15" fill="#8a3fa5" stroke="none" stroke-width="0"/>
<circle cx="445.19" cy="105.90" r="1.15" fill="#f0245e" stroke="none" stroke-width="0"/>
<circle cx="444.84" cy="110.40" r="1.15" fill="#f0245e" stroke="none" stroke-width="0"/>
<circle cx="445.01" cy="104.40" r="1.15" fill="#3a7fc8" stroke="none" stroke-width="0"/>
<circle cx="445.18" cy="111.90" r="1.15" fill="#3a7fc8" stroke="none" stroke-width="0"/>
<circle cx="445.06" cy="102.90" r="1.15" fill="#3a7fc8" stroke="none" stroke-width="0"/>
<circle cx="446.28" cy="108.15" r="1.15" fill="#3a7fc8" stroke="none" stroke-width="0"/>
<circle cx="446.12" cy="106.65" r="1.15" fill="#3a7fc8" stroke="none" stroke-width="0"/>
<circle cx="446.19" cy="109.65" r="1.15" fill="#8a3fa5" stroke="none" stroke-width="0"/>
<circle cx="446.36" cy="105.15" r="1.15" fill="#f0245e" stroke="none" stroke-width="0"/>
<circle cx="446.15" cy="111.15" r="1.15" fill="#f0245e" stroke="none" stroke-width="0"/>
<circle cx="446.35" cy="103.65" r="1.15" fill="#3a7fc8" stroke="none" stroke-width="0"/>
<circle cx="446.14" cy="112.65" r="1.15" fill="#f0245e" stroke="none" stroke-width="0"/>
<circle cx="446.31" cy="102.15" r="1.15" fill="#3a7fc8" stroke="none" stroke-width="0"/>
<circle cx="447.56" cy="107.40" r="1.15" fill="#f0245e" stroke="none" stroke-width="0"/>
<circle cx="447.64" cy="108.90" r="1.15" fill="#f0245e" stroke="none" stroke-width="0"/>
<circle cx="447.52" cy="105.90" r="1.15" fill="#f0245e" stroke="none" stroke-width="0"/>
<circle cx="447.78" cy="110.40" r="1.15" fill="#3a7fc8" stroke="none" stroke-width="0"/>
<circle cx="447.75" cy="104.40" r="1.15" fill="#3a7fc8" stroke="none" stroke-width="0"/>
<circle cx="447.49" cy="111.90" r="1.15" fill="#f0245e" stroke="none" stroke-width="0"/>
<circle cx="447.78" cy="102.90" r="1.15" fill="#3a7fc8" stroke="none" stroke-width="0"/>
<circle cx="447.52" cy="113.40" r="1.15" fill="#f0245e" stroke="none" stroke-width="0"/>
<circle cx="447.60" cy="101.40" r="1.15" fill="#3a7fc8" stroke="none" stroke-width="0"/>
<circle cx="448.87" cy="108.15" r="1.15" fill="#f0245e" stroke="none" stroke-width="0"/>
<circle cx="448.97" cy="106.65" r="1.15" fill="#8a3fa5" stroke="none" stroke-width="0"/>
<circle cx="448.79" cy="109.65" r="1.15" fill="#f0245e" stroke="none" stroke-width="0"/>
<circle cx="448.84" cy="105.15" r="1.15" fill="#f0245e" stroke="none" stroke-width="0"/>
<circle cx="448.97" cy="111.15" r="1.15" fill="#f0245e" stroke="none" stroke-width="0"/>
<circle cx="449.02" cy="103.65" r="1.15" fill="#3a7fc8" stroke="none" stroke-width="0"/>
<circle cx="448.90" cy="112.65" r="1.15" fill="#f0245e" stroke="none" stroke-width="0"/>
<circle cx="449.09" cy="102.15" r="1.15" fill="#f0245e" stroke="none" stroke-width="0"/>
<circle cx="450.33" cy="107.40" r="1.15" fill="#f0245e" stroke="none" stroke-width="0"/>
<circle cx="450.09" cy="108.90" r="1.15" fill="#3a7fc8" stroke="none" stroke-width="0"/>
<circle cx="450.12" cy="105.90" r="1.15" fill="#8a3fa5" stroke="none" stroke-width="0"/>
<circle cx="450.20" cy="110.40" r="1.15" fill="#f0245e" stroke="none" stroke-width="0"/>
<circle cx="450.09" cy="104.40" r="1.15" fill="#f0245e" stroke="none" stroke-width="0"/>
<circle cx="450.27" cy="111.90" r="1.15" fill="#8a3fa5" stroke="none" stroke-width="0"/>
<circle cx="450.06" cy="102.90" r="1.15" fill="#f0245e" stroke="none" stroke-width="0"/>
<circle cx="450.09" cy="113.40" r="1.15" fill="#8a3fa5" stroke="none" stroke-width="0"/>
<circle cx="450.06" cy="101.40" r="1.15" fill="#f0245e" stroke="none" stroke-width="0"/>
<circle cx="451.32" cy="108.15" r="1.15" fill="#f0245e" stroke="none" stroke-width="0"/>
<circle cx="451.66" cy="106.65" r="1.15" fill="#8a3fa5" stroke="none" stroke-width="0"/>
<circle cx="451.59" cy="109.65" r="1.15" fill="#8a3fa5" stroke="none" stroke-width="0"/>
<circle cx="451.67" cy="105.15" r="1.15" fill="#f0245e" stroke="none" stroke-width="0"/>
<circle cx="451.37" cy="111.15" r="1.15" fill="#8a3fa5" stroke="none" stroke-width="0"/>
<circle cx="451.60" cy="103.65" r="1.15" fill="#f0245e" stroke="none" stroke-width="0"/>
<circle cx="451.57" cy="112.65" r="1.15" fill="#f0245e" stroke="none" stroke-width="0"/>
<circle cx="451.45" cy="102.15" r="1.15" fill="#f0245e" stroke="none" stroke-width="0"/>
<circle cx="452.67" cy="107.40" r="1.15" fill="#f0245e" stroke="none" stroke-width="0"/>
<circle cx="452.71" cy="108.90" r="1.15" fill="#f0245e" stroke="none" stroke-width="0"/>
<circle cx="452.98" cy="105.90" r="1.15" fill="#f0245e" stroke="none" stroke-width="0"/>
<circle cx="452.99" cy="110.40" r="1.15" fill="#f0245e" stroke="none" stroke-width="0"/>
<circle cx="452.74" cy="104.40" r="1.15" fill="#3a7fc8" stroke="none" stroke-width="0"/>
<circle cx="452.93" cy="111.90" r="1.15" fill="#f0245e" stroke="none" stroke-width="0"/>
<circle cx="452.62" cy="102.90" r="1.15" fill="#3a7fc8" stroke="none" stroke-width="0"/>
<circle cx="452.75" cy="113.40" r="1.15" fill="#8a3fa5" stroke="none" stroke-width="0"/>
<circle cx="452.68" cy="101.40" r="1.15" fill="#f0245e" stroke="none" stroke-width="0"/>
<circle cx="454.26" cy="108.15" r="1.15" fill="#3a7fc8" stroke="none" stroke-width="0"/>
<circle cx="454.06" cy="106.65" r="1.15" fill="#8a3fa5" stroke="none" stroke-width="0"/>
<circle cx="454.21" cy="109.65" r="1.15" fill="#3a7fc8" stroke="none" stroke-width="0"/>
<circle cx="453.91" cy="105.15" r="1.15" fill="#3a7fc8" stroke="none" stroke-width="0"/>
<circle cx="454.27" cy="111.15" r="1.15" fill="#3a7fc8" stroke="none" stroke-width="0"/>
<circle cx="454.20" cy="103.65" r="1.15" fill="#8a3fa5" stroke="none" stroke-width="0"/>
<circle cx="454.04" cy="112.65" r="1.15" fill="#3a7fc8" stroke="none" stroke-width="0"/>
<circle cx="454.28" cy="102.15" r="1.15" fill="#3a7fc8" stroke="none" stroke-width="0"/>
<circle cx="455.30" cy="107.40" r="1.15" fill="#3a7fc8" stroke="none" stroke-width="0"/>
<circle cx="455.33" cy="108.90" r="1.15" fill="#3a7fc8" stroke="none" stroke-width="0"/>
<circle cx="455.20" cy="105.90" r="1.15" fill="#8a3fa5" stroke="none" stroke-width="0"/>
<circle cx="455.57" cy="110.40" r="1.15" fill="#3a7fc8" stroke="none" stroke-width="0"/>
<circle cx="455.58" cy="104.40" r="1.15" fill="#3a7fc8" stroke="none" stroke-width="0"/>
<circle cx="455.29" cy="111.90" r="1.15" fill="#3a7fc8" stroke="none" stroke-width="0"/>
<circle cx="455.58" cy="102.90" r="1.15" fill="#f0245e" stroke="none" stroke-width="0"/>
<circle cx="456.65" cy="108.15" r="1.15" fill="#3a7fc8" stroke="none" stroke-width="0"/>
<circle cx="456.67" cy="106.65" r="1.15" fill="#3a7fc8" stroke="none" stroke-width="0"/>
<circle cx="456.87" cy="109.65" r="1.15" fill="#3a7fc8" stroke="none" stroke-width="0"/>
<circle cx="456.82" cy="105.15" r="1.15" fill="#3a7fc8" stroke="none" stroke-width="0"/>
<circle cx="456.83" cy="111.15" r="1.15" fill="#8a3fa5" stroke="none" stroke-width="0"/>
<circle cx="456.74" cy="103.65" r="1.15" fill="#3a7fc8" stroke="none" stroke-width="0"/>
<circle cx="457.93" cy="107.40" r="1.15" fill="#3a7fc8" stroke="none" stroke-width="0"/>
<circle cx="458.11" cy="108.90" r="1.15" fill="#3a7fc8" stroke="none" stroke-width="0"/>
<circle cx="457.88" cy="105.90" r="1.15" fill="#8a3fa5" stroke="none" stroke-width="0"/>
<circle cx="457.90" cy="110.40" r="1.15" fill="#3a7fc8" stroke="none" stroke-width="0"/>
<circle cx="457.81" cy="104.40" r="1.15" fill="#3a7fc8" stroke="none" stroke-width="0"/>
<circle cx="457.93" cy="111.90" r="1.15" fill="#f0245e" stroke="none" stroke-width="0"/>
<circle cx="458.15" cy="102.90" r="1.15" fill="#f0245e" stroke="none" stroke-width="0"/>
<circle cx="459.21" cy="108.15" r="1.15" fill="#3a7fc8" stroke="none" stroke-width="0"/>
<circle cx="459.14" cy="106.65" r="1.15" fill="#3a7fc8" stroke="none" stroke-width="0"/>
<circle cx="459.38" cy="109.65" r="1.15" fill="#3a7fc8" stroke="none" stroke-width="0"/>
<circle cx="459.19" cy="105.15" r="1.15" fill="#3a7fc8" stroke="none" stroke-width="0"/>
<circle cx="460.65" cy="107.40" r="1.15" fill="#3a7fc8" stroke="none" stroke-width="0"/>
<circle cx="460.70" cy="108.90" r="1.15" fill="#8a3fa5" stroke="none" stroke-width="0"/>
<circle cx="460.67" cy="105.90" r="1.15" fill="#3a7fc8" stroke="none" stroke-width="0"/>
<circle cx="462.04" cy="108.15" r="1.15" fill="#3a7fc8" stroke="none" stroke-width="0"/>
<circle cx="461.93" cy="106.65" r="1.15" fill="#3a7fc8" stroke="none" stroke-width="0"/>
<circle cx="463.30" cy="107.40" r="1.15" fill="#8a3fa5" stroke="none" stroke-width="0"/>
<circle cx="463.10" cy="108.90" r="1.15" fill="#8a3fa5" stroke="none" stroke-width="0"/>
<circle cx="463.06" cy="105.90" r="1.15" fill="#3a7fc8" stroke="none" stroke-width="0"/>
<circle cx="464.53" cy="108.15" r="1.15" fill="#8a3fa5" stroke="none" stroke-width="0"/>
<circle cx="464.46" cy="106.65" r="1.15" fill="#3a7fc8" stroke="none" stroke-width="0"/>
<circle cx="464.50" cy="109.65" r="1.15" fill="#8a3fa5" stroke="none" stroke-width="0"/>
<circle cx="464.62" cy="105.15" r="1.15" fill="#8a3fa5" stroke="none" stroke-width="0"/>
<circle cx="466.00" cy="107.40" r="1.15" fill="#8a3fa5" stroke="none" stroke-width="0"/>
<circle cx="465.79" cy="108.90" r="1.15" fill="#3a7fc8" stroke="none" stroke-width="0"/>
<circle cx="465.94" cy="105.90" r="1.15" fill="#3a7fc8" stroke="none" stroke-width="0"/>
<circle cx="466.92" cy="108.15" r="1.15" fill="#8a3fa5" stroke="none" stroke-width="0"/>
<circle cx="466.95" cy="106.65" r="1.15" fill="#8a3fa5" stroke="none" stroke-width="0"/>
<circle cx="468.59" cy="107.40" r="1.15" fill="#8a3fa5" stroke="none" stroke-width="0"/>
<circle cx="468.57" cy="108.90" r="1.15" fill="#8a3fa5" stroke="none" stroke-width="0"/>
<circle cx="468.55" cy="105.90" r="1.15" fill="#8a3fa5" stroke="none" stroke-width="0"/>
<circle cx="469.60" cy="108.15" r="1.15" fill="#8a3fa5" stroke="none" stroke-width="0"/>
<circle cx="469.88" cy="106.65" r="1.15" fill="#8a3fa5" stroke="none" stroke-width="0"/>
<circle cx="435.84" cy="126.20" r="1.15" fill="#5f56ad" stroke="none" stroke-width="0"/>
<circle cx="436.99" cy="126.95" r="1.15" fill="#3a7fc8" stroke="none" stroke-width="0"/>
<circle cx="436.96" cy="125.45" r="1.15" fill="#3a7fc8" stroke="none" stroke-width="0"/>
<circle cx="437.00" cy="128.45" r="1.15" fill="#5f56ad" stroke="none" stroke-width="0"/>
<circle cx="437.16" cy="123.95" r="1.15" fill="#3a7fc8" stroke="none" stroke-width="0"/>
<circle cx="438.20" cy="126.20" r="1.15" fill="#3a7fc8" stroke="none" stroke-width="0"/>
<circle cx="438.47" cy="127.70" r="1.15" fill="#3a7fc8" stroke="none" stroke-width="0"/>
<circle cx="438.32" cy="124.70" r="1.15" fill="#3a7fc8" stroke="none" stroke-width="0"/>
<circle cx="438.52" cy="129.20" r="1.15" fill="#5f56ad" stroke="none" stroke-width="0"/>
<circle cx="438.23" cy="123.20" r="1.15" fill="#3a7fc8" stroke="none" stroke-width="0"/>
<circle cx="439.66" cy="126.95" r="1.15" fill="#5f56ad" stroke="none" stroke-width="0"/>
<circle cx="439.76" cy="125.45" r="1.15" fill="#3a7fc8" stroke="none" stroke-width="0"/>
<circle cx="439.57" cy="128.45" r="1.15" fill="#5f56ad" stroke="none" stroke-width="0"/>
<circle cx="439.66" cy="123.95" r="1.15" fill="#3a7fc8" stroke="none" stroke-width="0"/>
<circle cx="439.62" cy="129.95" r="1.15" fill="#5f56ad" stroke="none" stroke-width="0"/>
<circle cx="439.62" cy="122.45" r="1.15" fill="#5f56ad" stroke="none" stroke-width="0"/>
<circle cx="440.94" cy="126.20" r="1.15" fill="#3a7fc8" stroke="none" stroke-width="0"/>
<circle cx="441.15" cy="127.70" r="1.15" fill="#5f56ad" stroke="none" stroke-width="0"/>
<circle cx="440.95" cy="124.70" r="1.15" fill="#3a7fc8" stroke="none" stroke-width="0"/>
<circle cx="441.09" cy="129.20" r="1.15" fill="#3a7fc8" stroke="none" stroke-width="0"/>
<circle cx="440.80" cy="123.20" r="1.15" fill="#5f56ad" stroke="none" stroke-width="0"/>
<circle cx="442.27" cy="126.95" r="1.15" fill="#5f56ad" stroke="none" stroke-width="0"/>
<circle cx="442.26" cy="125.45" r="1.15" fill="#5f56ad" stroke="none" stroke-width="0"/>
<circle cx="442.28" cy="128.45" r="1.15" fill="#3a7fc8" stroke="none" stroke-width="0"/>
<circle cx="442.11" cy="123.95" r="1.15" fill="#5f56ad" stroke="none" stroke-width="0"/>
<circle cx="443.66" cy="126.20" r="1.15" fill="#5f56ad" stroke="none" stroke-width="0"/>
<circle cx="443.44" cy="127.70" r="1.15" fill="#5f56ad" stroke="none" stroke-width="0"/>
<circle cx="443.55" cy="124.70" r="1.15" fill="#5f56ad" stroke="none" stroke-width="0"/>
<circle cx="444.76" cy="126.95" r="1.15" fill="#f0245e" stroke="none" stroke-width="0"/>
<circle cx="444.91" cy="125.45" r="1.15" fill="#8a3fa5" stroke="none" stroke-width="0"/>
<circle cx="444.74" cy="128.45" r="1.15" fill="#3a7fc8" stroke="none" stroke-width="0"/>
<circle cx="445.02" cy="123.95" r="1.15" fill="#8a3fa5" stroke="none" stroke-width="0"/>
<circle cx="446.08" cy="126.20" r="1.15" fill="#f0245e" stroke="none" stroke-width="0"/>
<circle cx="446.38" cy="127.70" r="1.15" fill="#8a3fa5" stroke="none" stroke-width="0"/>
<circle cx="446.19" cy="124.70" r="1.15" fill="#f0245e" stroke="none" stroke-width="0"/>
<circle cx="446.37" cy="129.20" r="1.15" fill="#f0245e" stroke="none" stroke-width="0"/>
<circle cx="446.36" cy="123.20" r="1.15" fill="#3a7fc8" stroke="none" stroke-width="0"/>
<circle cx="447.63" cy="126.95" r="1.15" fill="#f0245e" stroke="none" stroke-width="0"/>
<circle cx="447.61" cy="125.45" r="1.15" fill="#f0245e" stroke="none" stroke-width="0"/>
<circle cx="447.46" cy="128.45" r="1.15" fill="#8a3fa5" stroke="none" stroke-width="0"/>
<circle cx="447.63" cy="123.95" r="1.15" fill="#f0245e" stroke="none" stroke-width="0"/>
<circle cx="447.39" cy="129.95" r="1.15" fill="#f0245e" stroke="none" stroke-width="0"/>
<circle cx="447.51" cy="122.45" r="1.15" fill="#f0245e" stroke="none" stroke-width="0"/>
<circle cx="448.65" cy="126.20" r="1.15" fill="#f0245e" stroke="none" stroke-width="0"/>
<circle cx="448.89" cy="127.70" r="1.15" fill="#8a3fa5" stroke="none" stroke-width="0"/>
<circle cx="448.62" cy="124.70" r="1.15" fill="#3a7fc8" stroke="none" stroke-width="0"/>
<circle cx="448.90" cy="129.20" r="1.15" fill="#f0245e" stroke="none" stroke-width="0"/>
<circle cx="448.94" cy="123.20" r="1.15" fill="#f0245e" stroke="none" stroke-width="0"/>
<circle cx="448.84" cy="130.70" r="1.15" fill="#3a7fc8" stroke="none" stroke-width="0"/>
<circle cx="448.85" cy="121.70" r="1.15" fill="#f0245e" stroke="none" stroke-width="0"/>
<circle cx="450.07" cy="126.95" r="1.15" fill="#3a7fc8" stroke="none" stroke-width="0"/>
<circle cx="450.07" cy="125.45" r="1.15" fill="#3a7fc8" stroke="none" stroke-width="0"/>
<circle cx="450.08" cy="128.45" r="1.15" fill="#3a7fc8" stroke="none" stroke-width="0"/>
<circle cx="449.91" cy="123.95" r="1.15" fill="#3a7fc8" stroke="none" stroke-width="0"/>
<circle cx="450.10" cy="129.95" r="1.15" fill="#f0245e" stroke="none" stroke-width="0"/>
<circle cx="450.21" cy="122.45" r="1.15" fill="#3a7fc8" stroke="none" stroke-width="0"/>
<circle cx="450.08" cy="131.45" r="1.15" fill="#f0245e" stroke="none" stroke-width="0"/>
<circle cx="450.09" cy="120.95" r="1.15" fill="#f0245e" stroke="none" stroke-width="0"/>
<circle cx="451.25" cy="126.20" r="1.15" fill="#3a7fc8" stroke="none" stroke-width="0"/>
<circle cx="451.24" cy="127.70" r="1.15" fill="#3a7fc8" stroke="none" stroke-width="0"/>
<circle cx="451.40" cy="124.70" r="1.15" fill="#f0245e" stroke="none" stroke-width="0"/>
<circle cx="451.45" cy="129.20" r="1.15" fill="#f0245e" stroke="none" stroke-width="0"/>
<circle cx="451.49" cy="123.20" r="1.15" fill="#3a7fc8" stroke="none" stroke-width="0"/>
<circle cx="451.40" cy="130.70" r="1.15" fill="#f0245e" stroke="none" stroke-width="0"/>
<circle cx="451.40" cy="121.70" r="1.15" fill="#f0245e" stroke="none" stroke-width="0"/>
<circle cx="451.58" cy="132.20" r="1.15" fill="#f0245e" stroke="none" stroke-width="0"/>
<circle cx="451.54" cy="120.20" r="1.15" fill="#8a3fa5" stroke="none" stroke-width="0"/>
<circle cx="452.79" cy="126.95" r="1.15" fill="#3a7fc8" stroke="none" stroke-width="0"/>
<circle cx="452.58" cy="125.45" r="1.15" fill="#8a3fa5" stroke="none" stroke-width="0"/>
<circle cx="452.70" cy="128.45" r="1.15" fill="#8a3fa5" stroke="none" stroke-width="0"/>
<circle cx="452.87" cy="123.95" r="1.15" fill="#f0245e" stroke="none" stroke-width="0"/>
<circle cx="452.82" cy="129.95" r="1.15" fill="#8a3fa5" stroke="none" stroke-width="0"/>
<circle cx="452.53" cy="122.45" r="1.15" fill="#f0245e" stroke="none" stroke-width="0"/>
<circle cx="452.80" cy="131.45" r="1.15" fill="#f0245e" stroke="none" stroke-width="0"/>
<circle cx="452.86" cy="120.95" r="1.15" fill="#f0245e" stroke="none" stroke-width="0"/>
<circle cx="452.83" cy="132.95" r="1.15" fill="#f0245e" stroke="none" stroke-width="0"/>
<circle cx="452.70" cy="119.45" r="1.15" fill="#8a3fa5" stroke="none" stroke-width="0"/>
<circle cx="453.88" cy="126.20" r="1.15" fill="#f0245e" stroke="none" stroke-width="0"/>
<circle cx="454.00" cy="127.70" r="1.15" fill="#f0245e" stroke="none" stroke-width="0"/>
<circle cx="453.81" cy="124.70" r="1.15" fill="#f0245e" stroke="none" stroke-width="0"/>
<circle cx="453.86" cy="129.20" r="1.15" fill="#8a3fa5" stroke="none" stroke-width="0"/>
<circle cx="454.07" cy="123.20" r="1.15" fill="#8a3fa5" stroke="none" stroke-width="0"/>
<circle cx="453.87" cy="130.70" r="1.15" fill="#3a7fc8" stroke="none" stroke-width="0"/>
<circle cx="453.85" cy="121.70" r="1.15" fill="#3a7fc8" stroke="none" stroke-width="0"/>
<circle cx="454.05" cy="132.20" r="1.15" fill="#f0245e" stroke="none" stroke-width="0"/>
<circle cx="454.15" cy="120.20" r="1.15" fill="#3a7fc8" stroke="none" stroke-width="0"/>
<circle cx="455.33" cy="126.95" r="1.15" fill="#8a3fa5" stroke="none" stroke-width="0"/>
<circle cx="455.14" cy="125.45" r="1.15" fill="#8a3fa5" stroke="none" stroke-width="0"/>
<circle cx="455.35" cy="128.45" r="1.15" fill="#f0245e" stroke="none" stroke-width="0"/>
<circle cx="455.42" cy="123.95" r="1.15" fill="#f0245e" stroke="none" stroke-width="0"/>
<circle cx="455.50" cy="129.95" r="1.15" fill="#3a7fc8" stroke="none" stroke-width="0"/>
<circle cx="455.24" cy="122.45" r="1.15" fill="#3a7fc8" stroke="none" stroke-width="0"/>
<circle cx="455.28" cy="131.45" r="1.15" fill="#f0245e" stroke="none" stroke-width="0"/>
<circle cx="455.40" cy="120.95" r="1.15" fill="#f0245e" stroke="none" stroke-width="0"/>
<circle cx="456.73" cy="126.20" r="1.15" fill="#f0245e" stroke="none" stroke-width="0"/>
<circle cx="456.66" cy="127.70" r="1.15" fill="#8a3fa5" stroke="none" stroke-width="0"/>
<circle cx="456.63" cy="124.70" r="1.15" fill="#3a7fc8" stroke="none" stroke-width="0"/>
<circle cx="456.53" cy="129.20" r="1.15" fill="#f0245e" stroke="none" stroke-width="0"/>
<circle cx="456.41" cy="123.20" r="1.15" fill="#f0245e" stroke="none" stroke-width="0"/>
<circle cx="456.65" cy="130.70" r="1.15" fill="#3a7fc8" stroke="none" stroke-width="0"/>
<circle cx="456.61" cy="121.70" r="1.15" fill="#8a3fa5" stroke="none" stroke-width="0"/>
<circle cx="457.75" cy="126.95" r="1.15" fill="#f0245e" stroke="none" stroke-width="0"/>
<circle cx="457.96" cy="125.45" r="1.15" fill="#f0245e" stroke="none" stroke-width="0"/>
<circle cx="457.70" cy="128.45" r="1.15" fill="#f0245e" stroke="none" stroke-width="0"/>
<circle cx="457.74" cy="123.95" r="1.15" fill="#f0245e" stroke="none" stroke-width="0"/>
<circle cx="459.09" cy="126.20" r="1.15" fill="#8a3fa5" stroke="none" stroke-width="0"/>
<circle cx="459.24" cy="127.70" r="1.15" fill="#8a3fa5" stroke="none" stroke-width="0"/>
<circle cx="459.25" cy="124.70" r="1.15" fill="#8a3fa5" stroke="none" stroke-width="0"/>
<circle cx="460.35" cy="126.95" r="1.15" fill="#3a7fc8" stroke="none" stroke-width="0"/>
<circle cx="460.40" cy="125.45" r="1.15" fill="#8a3fa5" stroke="none" stroke-width="0"/>
<circle cx="461.64" cy="126.20" r="1.15" fill="#8a3fa5" stroke="none" stroke-width="0"/>
<circle cx="461.95" cy="127.70" r="1.15" fill="#3a7fc8" stroke="none" stroke-width="0"/>
<circle cx="461.76" cy="124.70" r="1.15" fill="#8a3fa5" stroke="none" stroke-width="0"/>
<circle cx="462.90" cy="126.95" r="1.15" fill="#8a3fa5" stroke="none" stroke-width="0"/>
<circle cx="463.12" cy="125.45" r="1.15" fill="#8a3fa5" stroke="none" stroke-width="0"/>
<circle cx="463.16" cy="128.45" r="1.15" fill="#8a3fa5" stroke="none" stroke-width="0"/>
<circle cx="463.27" cy="123.95" r="1.15" fill="#8a3fa5" stroke="none" stroke-width="0"/>
<circle cx="464.30" cy="126.20" r="1.15" fill="#3a7fc8" stroke="none" stroke-width="0"/>
<circle cx="464.22" cy="127.70" r="1.15" fill="#8a3fa5" stroke="none" stroke-width="0"/>
<circle cx="464.36" cy="124.70" r="1.15" fill="#8a3fa5" stroke="none" stroke-width="0"/>
<circle cx="465.52" cy="126.95" r="1.15" fill="#3a7fc8" stroke="none" stroke-width="0"/>
<circle cx="465.50" cy="125.45" r="1.15" fill="#8a3fa5" stroke="none" stroke-width="0"/>
<circle cx="465.88" cy="128.45" r="1.15" fill="#8a3fa5" stroke="none" stroke-width="0"/>
<circle cx="465.58" cy="123.95" r="1.15" fill="#8a3fa5" stroke="none" stroke-width="0"/>
<circle cx="467.00" cy="126.20" r="1.15" fill="#8a3fa5" stroke="none" stroke-width="0"/>
<circle cx="467.13" cy="127.70" r="1.15" fill="#8a3fa5" stroke="none" stroke-width="0"/>
<circle cx="466.92" cy="124.70" r="1.15" fill="#8a3fa5" stroke="none" stroke-width="0"/>
<circle cx="468.12" cy="126.95" r="1.15" fill="#3a7fc8" stroke="none" stroke-width="0"/>
<circle cx="468.41" cy="125.45" r="1.15" fill="#8a3fa5" stroke="none" stroke-width="0"/>
<circle cx="468.10" cy="128.45" r="1.15" fill="#3a7fc8" stroke="none" stroke-width="0"/>
<circle cx="468.40" cy="123.95" r="1.15" fill="#8a3fa5" stroke="none" stroke-width="0"/>
<circle cx="469.70" cy="126.20" r="1.15" fill="#8a3fa5" stroke="none" stroke-width="0"/>
<circle cx="469.49" cy="127.70" r="1.15" fill="#8a3fa5" stroke="none" stroke-width="0"/>
<circle cx="469.49" cy="124.70" r="1.15" fill="#8a3fa5" stroke="none" stroke-width="0"/>
<circle cx="470.83" cy="126.95" r="1.15" fill="#8a3fa5" stroke="none" stroke-width="0"/>
<circle cx="470.98" cy="125.45" r="1.15" fill="#3a7fc8" stroke="none" stroke-width="0"/>
<circle cx="436.08" cy="145.30" r="1.15" fill="#3a7fc8" stroke="none" stroke-width="0"/>
<circle cx="437.32" cy="146.05" r="1.15" fill="#3a7fc8" stroke="none" stroke-width="0"/>
<circle cx="437.42" cy="144.55" r="1.15" fill="#3a7fc8" stroke="none" stroke-width="0"/>
<circle cx="438.51" cy="145.30" r="1.15" fill="#3a7fc8" stroke="none" stroke-width="0"/>
<circle cx="440.09" cy="146.05" r="1.15" fill="#3a7fc8" stroke="none" stroke-width="0"/>
<circle cx="440.05" cy="144.55" r="1.15" fill="#3a7fc8" stroke="none" stroke-width="0"/>
<circle cx="441.10" cy="145.30" r="1.15" fill="#3a7fc8" stroke="none" stroke-width="0"/>
<circle cx="441.30" cy="146.80" r="1.15" fill="#8a3fa5" stroke="none" stroke-width="0"/>
<circle cx="441.30" cy="143.80" r="1.15" fill="#3a7fc8" stroke="none" stroke-width="0"/>
<circle cx="442.65" cy="146.05" r="1.15" fill="#3a7fc8" stroke="none" stroke-width="0"/>
<circle cx="442.40" cy="144.55" r="1.15" fill="#8a3fa5" stroke="none" stroke-width="0"/>
<circle cx="442.55" cy="147.55" r="1.15" fill="#f0245e" stroke="none" stroke-width="0"/>
<circle cx="442.57" cy="143.05" r="1.15" fill="#8a3fa5" stroke="none" stroke-width="0"/>
<circle cx="442.49" cy="149.05" r="1.15" fill="#f0245e" stroke="none" stroke-width="0"/>
<circle cx="442.58" cy="141.55" r="1.15" fill="#f0245e" stroke="none" stroke-width="0"/>
<circle cx="443.77" cy="145.30" r="1.15" fill="#f0245e" stroke="none" stroke-width="0"/>
<circle cx="443.83" cy="146.80" r="1.15" fill="#3a7fc8" stroke="none" stroke-width="0"/>
<circle cx="443.68" cy="143.80" r="1.15" fill="#f0245e" stroke="none" stroke-width="0"/>
<circle cx="443.63" cy="148.30" r="1.15" fill="#8a3fa5" stroke="none" stroke-width="0"/>
<circle cx="443.66" cy="142.30" r="1.15" fill="#3a7fc8" stroke="none" stroke-width="0"/>
<circle cx="443.64" cy="149.80" r="1.15" fill="#8a3fa5" stroke="none" stroke-width="0"/>
<circle cx="443.74" cy="140.80" r="1.15" fill="#3a7fc8" stroke="none" stroke-width="0"/>
<circle cx="443.61" cy="151.30" r="1.15" fill="#3a7fc8" stroke="none" stroke-width="0"/>
<circle cx="443.88" cy="139.30" r="1.15" fill="#f0245e" stroke="none" stroke-width="0"/>
<circle cx="445.18" cy="146.05" r="1.15" fill="#f0245e" stroke="none" stroke-width="0"/>
<circle cx="444.93" cy="144.55" r="1.15" fill="#3a7fc8" stroke="none" stroke-width="0"/>
<circle cx="445.05" cy="147.55" r="1.15" fill="#f0245e" stroke="none" stroke-width="0"/>
<circle cx="445.23" cy="143.05" r="1.15" fill="#f0245e" stroke="none" stroke-width="0"/>
<circle cx="444.93" cy="149.05" r="1.15" fill="#f0245e" stroke="none" stroke-width="0"/>
<circle cx="445.27" cy="141.55" r="1.15" fill="#8a3fa5" stroke="none" stroke-width="0"/>
<circle cx="444.94" cy="150.55" r="1.15" fill="#3a7fc8" stroke="none" stroke-width="0"/>
<circle cx="444.94" cy="140.05" r="1.15" fill="#3a7fc8" stroke="none" stroke-width="0"/>
<circle cx="445.24" cy="152.05" r="1.15" fill="#f0245e" stroke="none" stroke-width="0"/>
<circle cx="445.15" cy="138.55" r="1.15" fill="#f0245e" stroke="none" stroke-width="0"/>
<circle cx="446.45" cy="145.30" r="1.15" fill="#3a7fc8" stroke="none" stroke-width="0"/>
<circle cx="446.24" cy="146.80" r="1.15" fill="#3a7fc8" stroke="none" stroke-width="0"/>
<circle cx="446.50" cy="143.80" r="1.15" fill="#3a7fc8" stroke="none" stroke-width="0"/>
<circle cx="446.33" cy="148.30" r="1.15" fill="#3a7fc8" stroke="none" stroke-width="0"/>
<circle cx="446.21" cy="142.30" r="1.15" fill="#3a7fc8" stroke="none" stroke-width="0"/>
<circle cx="446.31" cy="149.80" r="1.15" fill="#f0245e" stroke="none" stroke-width="0"/>
<circle cx="446.35" cy="140.80" r="1.15" fill="#3a7fc8" stroke="none" stroke-width="0"/>
<circle cx="446.59" cy="151.30" r="1.15" fill="#3a7fc8" stroke="none" stroke-width="0"/>
<circle cx="446.54" cy="139.30" r="1.15" fill="#3a7fc8" stroke="none" stroke-width="0"/>
<circle cx="447.51" cy="146.05" r="1.15" fill="#3a7fc8" stroke="none" stroke-width="0"/>
<circle cx="447.67" cy="144.55" r="1.15" fill="#f0245e" stroke="none" stroke-width="0"/>
<circle cx="447.64" cy="147.55" r="1.15" fill="#f0245e" stroke="none" stroke-width="0"/>
<circle cx="447.72" cy="143.05" r="1.15" fill="#3a7fc8" stroke="none" stroke-width="0"/>
<circle cx="447.84" cy="149.05" r="1.15" fill="#3a7fc8" stroke="none" stroke-width="0"/>
<circle cx="447.83" cy="141.55" r="1.15" fill="#3a7fc8" stroke="none" stroke-width="0"/>
<circle cx="447.50" cy="150.55" r="1.15" fill="#3a7fc8" stroke="none" stroke-width="0"/>
<circle cx="447.80" cy="140.05" r="1.15" fill="#8a3fa5" stroke="none" stroke-width="0"/>
<circle cx="447.50" cy="152.05" r="1.15" fill="#3a7fc8" stroke="none" stroke-width="0"/>
<circle cx="447.70" cy="138.55" r="1.15" fill="#f0245e" stroke="none" stroke-width="0"/>
<circle cx="448.87" cy="145.30" r="1.15" fill="#3a7fc8" stroke="none" stroke-width="0"/>
<circle cx="448.94" cy="146.80" r="1.15" fill="#f0245e" stroke="none" stroke-width="0"/>
<circle cx="448.90" cy="143.80" r="1.15" fill="#8a3fa5" stroke="none" stroke-width="0"/>
<circle cx="448.91" cy="148.30" r="1.15" fill="#3a7fc8" stroke="none" stroke-width="0"/>
<circle cx="449.08" cy="142.30" r="1.15" fill="#3a7fc8" stroke="none" stroke-width="0"/>
<circle cx="448.84" cy="149.80" r="1.15" fill="#f0245e" stroke="none" stroke-width="0"/>
<circle cx="448.83" cy="140.80" r="1.15" fill="#f0245e" stroke="none" stroke-width="0"/>
<circle cx="449.08" cy="151.30" r="1.15" fill="#f0245e" stroke="none" stroke-width="0"/>
<circle cx="449.05" cy="139.30" r="1.15" fill="#3a7fc8" stroke="none" stroke-width="0"/>
<circle cx="450.26" cy="146.05" r="1.15" fill="#3a7fc8" stroke="none" stroke-width="0"/>
<circle cx="450.46" cy="144.55" r="1.15" fill="#3a7fc8" stroke="none" stroke-width="0"/>
<circle cx="450.46" cy="147.55" r="1.15" fill="#3a7fc8" stroke="none" stroke-width="0"/>
<circle cx="450.18" cy="143.05" r="1.15" fill="#3a7fc8" stroke="none" stroke-width="0"/>
<circle cx="450.46" cy="149.05" r="1.15" fill="#3a7fc8" stroke="none" stroke-width="0"/>
<circle cx="450.25" cy="141.55" r="1.15" fill="#f0245e" stroke="none" stroke-width="0"/>
<circle cx="450.19" cy="150.55" r="1.15" fill="#3a7fc8" stroke="none" stroke-width="0"/>
<circle cx="450.31" cy="140.05" r="1.15" fill="#f0245e" stroke="none" stroke-width="0"/>
<circle cx="451.70" cy="145.30" r="1.15" fill="#f0245e" stroke="none" stroke-width="0"/>
<circle cx="451.54" cy="146.80" r="1.15" fill="#3a7fc8" stroke="none" stroke-width="0"/>
<circle cx="451.46" cy="143.80" r="1.15" fill="#f0245e" stroke="none" stroke-width="0"/>
<circle cx="451.66" cy="148.30" r="1.15" fill="#f0245e" stroke="none" stroke-width="0"/>
<circle cx="451.47" cy="142.30" r="1.15" fill="#3a7fc8" stroke="none" stroke-width="0"/>
<circle cx="451.71" cy="149.80" r="1.15" fill="#3a7fc8" stroke="none" stroke-width="0"/>
<circle cx="451.45" cy="140.80" r="1.15" fill="#3a7fc8" stroke="none" stroke-width="0"/>
<circle cx="451.75" cy="151.30" r="1.15" fill="#3a7fc8" stroke="none" stroke-width="0"/>
<circle cx="451.48" cy="139.30" r="1.15" fill="#3a7fc8" stroke="none" stroke-width="0"/>
<circle cx="452.98" cy="146.05" r="1.15" fill="#f0245e" stroke="none" stroke-width="0"/>
<circle cx="452.76" cy="144.55" r="1.15" fill="#3a7fc8" stroke="none" stroke-width="0"/>
<circle cx="452.80" cy="147.55" r="1.15" fill="#3a7fc8" stroke="none" stroke-width="0"/>
<circle cx="452.91" cy="143.05" r="1.15" fill="#3a7fc8" stroke="none" stroke-width="0"/>
<circle cx="452.83" cy="149.05" r="1.15" fill="#3a7fc8" stroke="none" stroke-width="0"/>
<circle cx="453.09" cy="141.55" r="1.15" fill="#f0245e" stroke="none" stroke-width="0"/>
<circle cx="452.74" cy="150.55" r="1.15" fill="#8a3fa5" stroke="none" stroke-width="0"/>
<circle cx="452.74" cy="140.05" r="1.15" fill="#3a7fc8" stroke="none" stroke-width="0"/>
<circle cx="454.39" cy="145.30" r="1.15" fill="#f0245e" stroke="none" stroke-width="0"/>
<circle cx="454.29" cy="146.80" r="1.15" fill="#3a7fc8" stroke="none" stroke-width="0"/>
<circle cx="454.08" cy="143.80" r="1.15" fill="#f0245e" stroke="none" stroke-width="0"/>
<circle cx="454.04" cy="148.30" r="1.15" fill="#3a7fc8" stroke="none" stroke-width="0"/>
<circle cx="454.16" cy="142.30" r="1.15" fill="#3a7fc8" stroke="none" stroke-width="0"/>
<circle cx="454.16" cy="149.80" r="1.15" fill="#f0245e" stroke="none" stroke-width="0"/>
<circle cx="454.28" cy="140.80" r="1.15" fill="#3a7fc8" stroke="none" stroke-width="0"/>
<circle cx="455.55" cy="146.05" r="1.15" fill="#3a7fc8" stroke="none" stroke-width="0"/>
<circle cx="455.36" cy="144.55" r="1.15" fill="#3a7fc8" stroke="none" stroke-width="0"/>
<circle cx="455.46" cy="147.55" r="1.15" fill="#f0245e" stroke="none" stroke-width="0"/>
<circle cx="455.66" cy="143.05" r="1.15" fill="#3a7fc8" stroke="none" stroke-width="0"/>
<circle cx="455.53" cy="149.05" r="1.15" fill="#f0245e" stroke="none" stroke-width="0"/>
<circle cx="455.47" cy="141.55" r="1.15" fill="#3a7fc8" stroke="none" stroke-width="0"/>
<circle cx="456.89" cy="145.30" r="1.15" fill="#8a3fa5" stroke="none" stroke-width="0"/>
<circle cx="456.91" cy="146.80" r="1.15" fill="#3a7fc8" stroke="none" stroke-width="0"/>
<circle cx="456.94" cy="143.80" r="1.15" fill="#3a7fc8" stroke="none" stroke-width="0"/>
<circle cx="456.86" cy="148.30" r="1.15" fill="#3a7fc8" stroke="none" stroke-width="0"/>
<circle cx="456.73" cy="142.30" r="1.15" fill="#3a7fc8" stroke="none" stroke-width="0"/>
<circle cx="456.64" cy="149.80" r="1.15" fill="#3a7fc8" stroke="none" stroke-width="0"/>
<circle cx="456.91" cy="140.80" r="1.15" fill="#3a7fc8" stroke="none" stroke-width="0"/>
<circle cx="458.15" cy="146.05" r="1.15" fill="#3a7fc8" stroke="none" stroke-width="0"/>
<circle cx="458.07" cy="144.55" r="1.15" fill="#3a7fc8" stroke="none" stroke-width="0"/>
<circle cx="458.15" cy="147.55" r="1.15" fill="#3a7fc8" stroke="none" stroke-width="0"/>
<circle cx="458.17" cy="143.05" r="1.15" fill="#8a3fa5" stroke="none" stroke-width="0"/>
<circle cx="457.97" cy="149.05" r="1.15" fill="#3a7fc8" stroke="none" stroke-width="0"/>
<circle cx="458.21" cy="141.55" r="1.15" fill="#3a7fc8" stroke="none" stroke-width="0"/>
<circle cx="459.40" cy="145.30" r="1.15" fill="#f0245e" stroke="none" stroke-width="0"/>
<circle cx="459.22" cy="146.80" r="1.15" fill="#3a7fc8" stroke="none" stroke-width="0"/>
<circle cx="459.26" cy="143.80" r="1.15" fill="#3a7fc8" stroke="none" stroke-width="0"/>
<circle cx="459.58" cy="148.30" r="1.15" fill="#3a7fc8" stroke="none" stroke-width="0"/>
<circle cx="459.24" cy="142.30" r="1.15" fill="#3a7fc8" stroke="none" stroke-width="0"/>
<circle cx="460.72" cy="146.05" r="1.15" fill="#3a7fc8" stroke="none" stroke-width="0"/>
<circle cx="460.70" cy="144.55" r="1.15" fill="#3a7fc8" stroke="none" stroke-width="0"/>
<circle cx="460.83" cy="147.55" r="1.15" fill="#3a7fc8" stroke="none" stroke-width="0"/>
<circle cx="460.66" cy="143.05" r="1.15" fill="#8a3fa5" stroke="none" stroke-width="0"/>
<circle cx="461.88" cy="145.30" r="1.15" fill="#3a7fc8" stroke="none" stroke-width="0"/>
<circle cx="461.96" cy="146.80" r="1.15" fill="#3a7fc8" stroke="none" stroke-width="0"/>
<circle cx="461.85" cy="143.80" r="1.15" fill="#f0245e" stroke="none" stroke-width="0"/>
<circle cx="463.24" cy="146.05" r="1.15" fill="#3a7fc8" stroke="none" stroke-width="0"/>
<circle cx="463.21" cy="144.55" r="1.15" fill="#3a7fc8" stroke="none" stroke-width="0"/>
<circle cx="463.11" cy="147.55" r="1.15" fill="#3a7fc8" stroke="none" stroke-width="0"/>
<circle cx="463.27" cy="143.05" r="1.15" fill="#3a7fc8" stroke="none" stroke-width="0"/>
<circle cx="464.54" cy="145.30" r="1.15" fill="#3a7fc8" stroke="none" stroke-width="0"/>
<circle cx="464.49" cy="146.80" r="1.15" fill="#3a7fc8" stroke="none" stroke-width="0"/>
<circle cx="464.78" cy="143.80" r="1.15" fill="#3a7fc8" stroke="none" stroke-width="0"/>
<circle cx="465.79" cy="146.05" r="1.15" fill="#3a7fc8" stroke="none" stroke-width="0"/>
<circle cx="465.86" cy="144.55" r="1.15" fill="#3a7fc8" stroke="none" stroke-width="0"/>
<circle cx="467.05" cy="145.30" r="1.15" fill="#3a7fc8" stroke="none" stroke-width="0"/>
<circle cx="467.32" cy="146.80" r="1.15" fill="#3a7fc8" stroke="none" stroke-width="0"/>
<circle cx="467.19" cy="143.80" r="1.15" fill="#3a7fc8" stroke="none" stroke-width="0"/>
<circle cx="468.39" cy="146.05" r="1.15" fill="#f0245e" stroke="none" stroke-width="0"/>
<circle cx="468.44" cy="144.55" r="1.15" fill="#3a7fc8" stroke="none" stroke-width="0"/>
<circle cx="469.93" cy="145.30" r="1.15" fill="#3a7fc8" stroke="none" stroke-width="0"/>
<circle cx="471.09" cy="146.05" r="1.15" fill="#3a7fc8" stroke="none" stroke-width="0"/>
<circle cx="471.12" cy="144.55" r="1.15" fill="#3a7fc8" stroke="none" stroke-width="0"/>
<circle cx="472.53" cy="145.30" r="1.15" fill="#3a7fc8" stroke="none" stroke-width="0"/>
<circle cx="473.84" cy="145.30" r="1.15" fill="#3a7fc8" stroke="none" stroke-width="0"/>
<circle cx="437.95" cy="164.10" r="1.15" fill="#8a3fa5" stroke="none" stroke-width="0"/>
<circle cx="439.27" cy="164.85" r="1.15" fill="#8a3fa5" stroke="none" stroke-width="0"/>
<circle cx="439.10" cy="163.35" r="1.15" fill="#8a3fa5" stroke="none" stroke-width="0"/>
<circle cx="440.51" cy="164.10" r="1.15" fill="#8a3fa5" stroke="none" stroke-width="0"/>
<circle cx="441.82" cy="164.85" r="1.15" fill="#8a3fa5" stroke="none" stroke-width="0"/>
<circle cx="441.87" cy="163.35" r="1.15" fill="#8a3fa5" stroke="none" stroke-width="0"/>
<circle cx="443.26" cy="164.10" r="1.15" fill="#8a3fa5" stroke="none" stroke-width="0"/>
<circle cx="444.67" cy="164.85" r="1.15" fill="#f0245e" stroke="none" stroke-width="0"/>
<circle cx="444.32" cy="163.35" r="1.15" fill="#f0245e" stroke="none" stroke-width="0"/>
<circle cx="445.96" cy="164.10" r="1.15" fill="#f0245e" stroke="none" stroke-width="0"/>
<circle cx="445.66" cy="165.60" r="1.15" fill="#f0245e" stroke="none" stroke-width="0"/>
<circle cx="445.85" cy="162.60" r="1.15" fill="#8a3fa5" stroke="none" stroke-width="0"/>
<circle cx="446.90" cy="164.85" r="1.15" fill="#3a7fc8" stroke="none" stroke-width="0"/>
<circle cx="447.16" cy="163.35" r="1.15" fill="#8a3fa5" stroke="none" stroke-width="0"/>
<circle cx="448.24" cy="164.10" r="1.15" fill="#8a3fa5" stroke="none" stroke-width="0"/>
<circle cx="448.29" cy="165.60" r="1.15" fill="#f0245e" stroke="none" stroke-width="0"/>
<circle cx="448.34" cy="162.60" r="1.15" fill="#8a3fa5" stroke="none" stroke-width="0"/>
<circle cx="449.86" cy="164.85" r="1.15" fill="#f0245e" stroke="none" stroke-width="0"/>
<circle cx="449.57" cy="163.35" r="1.15" fill="#f0245e" stroke="none" stroke-width="0"/>
<circle cx="449.74" cy="166.35" r="1.15" fill="#f0245e" stroke="none" stroke-width="0"/>
<circle cx="449.77" cy="161.85" r="1.15" fill="#f0245e" stroke="none" stroke-width="0"/>
<circle cx="451.12" cy="164.10" r="1.15" fill="#3a7fc8" stroke="none" stroke-width="0"/>
<circle cx="450.88" cy="165.60" r="1.15" fill="#3a7fc8" stroke="none" stroke-width="0"/>
<circle cx="451.01" cy="162.60" r="1.15" fill="#3a7fc8" stroke="none" stroke-width="0"/>
<circle cx="450.98" cy="167.10" r="1.15" fill="#f0245e" stroke="none" stroke-width="0"/>
<circle cx="451.02" cy="161.10" r="1.15" fill="#8a3fa5" stroke="none" stroke-width="0"/>
<circle cx="452.19" cy="164.85" r="1.15" fill="#8a3fa5" stroke="none" stroke-width="0"/>
<circle cx="452.30" cy="163.35" r="1.15" fill="#8a3fa5" stroke="none" stroke-width="0"/>
<circle cx="452.29" cy="166.35" r="1.15" fill="#8a3fa5" stroke="none" stroke-width="0"/>
<circle cx="452.30" cy="161.85" r="1.15" fill="#8a3fa5" stroke="none" stroke-width="0"/>
<circle cx="452.32" cy="167.85" r="1.15" fill="#f0245e" stroke="none" stroke-width="0"/>
<circle cx="452.10" cy="160.35" r="1.15" fill="#3a7fc8" stroke="none" stroke-width="0"/>
<circle cx="452.29" cy="169.35" r="1.15" fill="#3a7fc8" stroke="none" stroke-width="0"/>
<circle cx="452.37" cy="158.85" r="1.15" fill="#3a7fc8" stroke="none" stroke-width="0"/>
<circle cx="453.55" cy="164.10" r="1.15" fill="#8a3fa5" stroke="none" stroke-width="0"/>
<circle cx="453.78" cy="165.60" r="1.15" fill="#8a3fa5" stroke="none" stroke-width="0"/>
<circle cx="453.65" cy="162.60" r="1.15" fill="#3a7fc8" stroke="none" stroke-width="0"/>
<circle cx="453.41" cy="167.10" r="1.15" fill="#3a7fc8" stroke="none" stroke-width="0"/>
<circle cx="453.67" cy="161.10" r="1.15" fill="#f0245e" stroke="none" stroke-width="0"/>
<circle cx="453.53" cy="168.60" r="1.15" fill="#f0245e" stroke="none" stroke-width="0"/>
<circle cx="453.60" cy="159.60" r="1.15" fill="#8a3fa5" stroke="none" stroke-width="0"/>
<circle cx="453.76" cy="170.10" r="1.15" fill="#8a3fa5" stroke="none" stroke-width="0"/>
<circle cx="453.69" cy="158.10" r="1.15" fill="#3a7fc8" stroke="none" stroke-width="0"/>
<circle cx="454.84" cy="164.85" r="1.15" fill="#f0245e" stroke="none" stroke-width="0"/>
<circle cx="454.85" cy="163.35" r="1.15" fill="#8a3fa5" stroke="none" stroke-width="0"/>
<circle cx="454.91" cy="166.35" r="1.15" fill="#3a7fc8" stroke="none" stroke-width="0"/>
<circle cx="454.78" cy="161.85" r="1.15" fill="#8a3fa5" stroke="none" stroke-width="0"/>
<circle cx="454.87" cy="167.85" r="1.15" fill="#3a7fc8" stroke="none" stroke-width="0"/>
<circle cx="455.03" cy="160.35" r="1.15" fill="#8a3fa5" stroke="none" stroke-width="0"/>
<circle cx="455.03" cy="169.35" r="1.15" fill="#8a3fa5" stroke="none" stroke-width="0"/>
<circle cx="454.90" cy="158.85" r="1.15" fill="#8a3fa5" stroke="none" stroke-width="0"/>
<circle cx="454.90" cy="170.85" r="1.15" fill="#f0245e" stroke="none" stroke-width="0"/>
<circle cx="454.96" cy="157.35" r="1.15" fill="#3a7fc8" stroke="none" stroke-width="0"/>
<circle cx="456.13" cy="164.10" r="1.15" fill="#8a3fa5" stroke="none" stroke-width="0"/>
<circle cx="456.12" cy="165.60" r="1.15" fill="#3a7fc8" stroke="none" stroke-width="0"/>
<circle cx="456.25" cy="162.60" r="1.15" fill="#3a7fc8" stroke="none" stroke-width="0"/>
<circle cx="456.02" cy="167.10" r="1.15" fill="#3a7fc8" stroke="none" stroke-width="0"/>
<circle cx="456.35" cy="161.10" r="1.15" fill="#3a7fc8" stroke="none" stroke-width="0"/>
<circle cx="456.02" cy="168.60" r="1.15" fill="#8a3fa5" stroke="none" stroke-width="0"/>
<circle cx="456.00" cy="159.60" r="1.15" fill="#8a3fa5" stroke="none" stroke-width="0"/>
<circle cx="456.37" cy="170.10" r="1.15" fill="#3a7fc8" stroke="none" stroke-width="0"/>
<circle cx="456.26" cy="158.10" r="1.15" fill="#3a7fc8" stroke="none" stroke-width="0"/>
<circle cx="457.66" cy="164.85" r="1.15" fill="#3a7fc8" stroke="none" stroke-width="0"/>
<circle cx="457.55" cy="163.35" r="1.15" fill="#3a7fc8" stroke="none" stroke-width="0"/>
<circle cx="457.58" cy="166.35" r="1.15" fill="#3a7fc8" stroke="none" stroke-width="0"/>
<circle cx="457.57" cy="161.85" r="1.15" fill="#8a3fa5" stroke="none" stroke-width="0"/>
<circle cx="457.57" cy="167.85" r="1.15" fill="#8a3fa5" stroke="none" stroke-width="0"/>
<circle cx="457.61" cy="160.35" r="1.15" fill="#8a3fa5" stroke="none" stroke-width="0"/>
<circle cx="458.67" cy="164.10" r="1.15" fill="#8a3fa5" stroke="none" stroke-width="0"/>
<circle cx="458.91" cy="165.60" r="1.15" fill="#3a7fc8" stroke="none" stroke-width="0"/>
<circle cx="458.86" cy="162.60" r="1.15" fill="#8a3fa5" stroke="none" stroke-width="0"/>
<circle cx="460.23" cy="164.85" r="1.15" fill="#f0245e" stroke="none" stroke-width="0"/>
<circle cx="460.12" cy="163.35" r="1.15" fill="#8a3fa5" stroke="none" stroke-width="0"/>
<circle cx="460.02" cy="166.35" r="1.15" fill="#8a3fa5" stroke="none" stroke-width="0"/>
<circle cx="460.03" cy="161.85" r="1.15" fill="#8a3fa5" stroke="none" stroke-width="0"/>
<circle cx="461.46" cy="164.10" r="1.15" fill="#3a7fc8" stroke="none" stroke-width="0"/>
<circle cx="461.22" cy="165.60" r="1.15" fill="#8a3fa5" stroke="none" stroke-width="0"/>
<circle cx="461.22" cy="162.60" r="1.15" fill="#8a3fa5" stroke="none" stroke-width="0"/>
<circle cx="462.82" cy="164.85" r="1.15" fill="#8a3fa5" stroke="none" stroke-width="0"/>
<circle cx="462.87" cy="163.35" r="1.15" fill="#8a3fa5" stroke="none" stroke-width="0"/>
<circle cx="463.81" cy="164.10" r="1.15" fill="#8a3fa5" stroke="none" stroke-width="0"/>
<circle cx="464.04" cy="165.60" r="1.15" fill="#3a7fc8" stroke="none" stroke-width="0"/>
<circle cx="464.19" cy="162.60" r="1.15" fill="#8a3fa5" stroke="none" stroke-width="0"/>
<circle cx="465.26" cy="164.85" r="1.15" fill="#8a3fa5" stroke="none" stroke-width="0"/>
<circle cx="465.36" cy="163.35" r="1.15" fill="#8a3fa5" stroke="none" stroke-width="0"/>
<circle cx="466.46" cy="164.10" r="1.15" fill="#8a3fa5" stroke="none" stroke-width="0"/>
<circle cx="467.70" cy="164.85" r="1.15" fill="#f0245e" stroke="none" stroke-width="0"/>
<circle cx="467.75" cy="163.35" r="1.15" fill="#3a7fc8" stroke="none" stroke-width="0"/>
<circle cx="469.04" cy="164.10" r="1.15" fill="#3a7fc8" stroke="none" stroke-width="0"/>
<circle cx="470.35" cy="164.85" r="1.15" fill="#8a3fa5" stroke="none" stroke-width="0"/>
<circle cx="470.59" cy="163.35" r="1.15" fill="#8a3fa5" stroke="none" stroke-width="0"/>
<circle cx="437.29" cy="183.10" r="1.15" fill="#f0245e" stroke="none" stroke-width="0"/>
<circle cx="438.32" cy="183.85" r="1.15" fill="#8a3fa5" stroke="none" stroke-width="0"/>
<circle cx="438.59" cy="182.35" r="1.15" fill="#8a3fa5" stroke="none" stroke-width="0"/>
<circle cx="439.89" cy="183.10" r="1.15" fill="#f0245e" stroke="none" stroke-width="0"/>
<circle cx="441.15" cy="183.85" r="1.15" fill="#8a3fa5" stroke="none" stroke-width="0"/>
<circle cx="441.08" cy="182.35" r="1.15" fill="#3a7fc8" stroke="none" stroke-width="0"/>
<circle cx="442.30" cy="183.10" r="1.15" fill="#3a7fc8" stroke="none" stroke-width="0"/>
<circle cx="443.79" cy="183.85" r="1.15" fill="#f0245e" stroke="none" stroke-width="0"/>
<circle cx="443.51" cy="182.35" r="1.15" fill="#8a3fa5" stroke="none" stroke-width="0"/>
<circle cx="445.13" cy="183.10" r="1.15" fill="#f0245e" stroke="none" stroke-width="0"/>
<circle cx="446.22" cy="183.85" r="1.15" fill="#8a3fa5" stroke="none" stroke-width="0"/>
<circle cx="446.17" cy="182.35" r="1.15" fill="#8a3fa5" stroke="none" stroke-width="0"/>
<circle cx="447.59" cy="183.10" r="1.15" fill="#f0245e" stroke="none" stroke-width="0"/>
<circle cx="447.55" cy="184.60" r="1.15" fill="#8a3fa5" stroke="none" stroke-width="0"/>
<circle cx="447.58" cy="181.60" r="1.15" fill="#8a3fa5" stroke="none" stroke-width="0"/>
<circle cx="448.76" cy="183.85" r="1.15" fill="#8a3fa5" stroke="none" stroke-width="0"/>
<circle cx="448.85" cy="182.35" r="1.15" fill="#8a3fa5" stroke="none" stroke-width="0"/>
<circle cx="450.25" cy="183.10" r="1.15" fill="#f0245e" stroke="none" stroke-width="0"/>
<circle cx="450.15" cy="184.60" r="1.15" fill="#3a7fc8" stroke="none" stroke-width="0"/>
<circle cx="450.38" cy="181.60" r="1.15" fill="#3a7fc8" stroke="none" stroke-width="0"/>
<circle cx="450.23" cy="186.10" r="1.15" fill="#f0245e" stroke="none" stroke-width="0"/>
<circle cx="450.02" cy="180.10" r="1.15" fill="#3a7fc8" stroke="none" stroke-width="0"/>
<circle cx="451.58" cy="183.85" r="1.15" fill="#3a7fc8" stroke="none" stroke-width="0"/>
<circle cx="451.43" cy="182.35" r="1.15" fill="#8a3fa5" stroke="none" stroke-width="0"/>
<circle cx="451.69" cy="185.35" r="1.15" fill="#3a7fc8" stroke="none" stroke-width="0"/>
<circle cx="451.54" cy="180.85" r="1.15" fill="#f0245e" stroke="none" stroke-width="0"/>
<circle cx="451.47" cy="186.85" r="1.15" fill="#3a7fc8" stroke="none" stroke-width="0"/>
<circle cx="451.45" cy="179.35" r="1.15" fill="#8a3fa5" stroke="none" stroke-width="0"/>
<circle cx="452.84" cy="183.10" r="1.15" fill="#3a7fc8" stroke="none" stroke-width="0"/>
<circle cx="452.92" cy="184.60" r="1.15" fill="#f0245e" stroke="none" stroke-width="0"/>
<circle cx="452.60" cy="181.60" r="1.15" fill="#f0245e" stroke="none" stroke-width="0"/>
<circle cx="452.77" cy="186.10" r="1.15" fill="#8a3fa5" stroke="none" stroke-width="0"/>
<circle cx="452.93" cy="180.10" r="1.15" fill="#3a7fc8" stroke="none" stroke-width="0"/>
<circle cx="452.62" cy="187.60" r="1.15" fill="#3a7fc8" stroke="none" stroke-width="0"/>
<circle cx="452.92" cy="178.60" r="1.15" fill="#3a7fc8" stroke="none" stroke-width="0"/>
<circle cx="454.13" cy="183.85" r="1.15" fill="#f0245e" stroke="none" stroke-width="0"/>
<circle cx="454.24" cy="182.35" r="1.15" fill="#3a7fc8" stroke="none" stroke-width="0"/>
<circle cx="454.17" cy="185.35" r="1.15" fill="#3a7fc8" stroke="none" stroke-width="0"/>
<circle cx="454.04" cy="180.85" r="1.15" fill="#f0245e" stroke="none" stroke-width="0"/>
<circle cx="454.12" cy="186.85" r="1.15" fill="#3a7fc8" stroke="none" stroke-width="0"/>
<circle cx="453.98" cy="179.35" r="1.15" fill="#3a7fc8" stroke="none" stroke-width="0"/>
<circle cx="454.27" cy="188.35" r="1.15" fill="#f0245e" stroke="none" stroke-width="0"/>
<circle cx="454.14" cy="177.85" r="1.15" fill="#8a3fa5" stroke="none" stroke-width="0"/>
<circle cx="454.09" cy="189.85" r="1.15" fill="#f0245e" stroke="none" stroke-width="0"/>
<circle cx="454.00" cy="176.35" r="1.15" fill="#3a7fc8" stroke="none" stroke-width="0"/>
<circle cx="455.52" cy="183.10" r="1.15" fill="#f0245e" stroke="none" stroke-width="0"/>
<circle cx="455.24" cy="184.60" r="1.15" fill="#3a7fc8" stroke="none" stroke-width="0"/>
<circle cx="455.51" cy="181.60" r="1.15" fill="#f0245e" stroke="none" stroke-width="0"/>
<circle cx="455.43" cy="186.10" r="1.15" fill="#3a7fc8" stroke="none" stroke-width="0"/>
<circle cx="455.55" cy="180.10" r="1.15" fill="#f0245e" stroke="none" stroke-width="0"/>
<circle cx="455.39" cy="187.60" r="1.15" fill="#8a3fa5" stroke="none" stroke-width="0"/>
<circle cx="455.28" cy="178.60" r="1.15" fill="#f0245e" stroke="none" stroke-width="0"/>
<circle cx="455.27" cy="189.10" r="1.15" fill="#8a3fa5" stroke="none" stroke-width="0"/>
<circle cx="455.35" cy="177.10" r="1.15" fill="#8a3fa5" stroke="none" stroke-width="0"/>
<circle cx="456.66" cy="183.85" r="1.15" fill="#f0245e" stroke="none" stroke-width="0"/>
<circle cx="456.56" cy="182.35" r="1.15" fill="#f0245e" stroke="none" stroke-width="0"/>
<circle cx="456.90" cy="185.35" r="1.15" fill="#f0245e" stroke="none" stroke-width="0"/>
<circle cx="456.54" cy="180.85" r="1.15" fill="#8a3fa5" stroke="none" stroke-width="0"/>
<circle cx="456.81" cy="186.85" r="1.15" fill="#f0245e" stroke="none" stroke-width="0"/>
<circle cx="456.74" cy="179.35" r="1.15" fill="#f0245e" stroke="none" stroke-width="0"/>
<circle cx="456.71" cy="188.35" r="1.15" fill="#f0245e" stroke="none" stroke-width="0"/>
<circle cx="456.51" cy="177.85" r="1.15" fill="#3a7fc8" stroke="none" stroke-width="0"/>
<circle cx="458.15" cy="183.10" r="1.15" fill="#8a3fa5" stroke="none" stroke-width="0"/>
<circle cx="458.03" cy="184.60" r="1.15" fill="#8a3fa5" stroke="none" stroke-width="0"/>
<circle cx="458.11" cy="181.60" r="1.15" fill="#8a3fa5" stroke="none" stroke-width="0"/>
<circle cx="458.18" cy="186.10" r="1.15" fill="#f0245e" stroke="none" stroke-width="0"/>
<circle cx="458.13" cy="180.10" r="1.15" fill="#3a7fc8" stroke="none" stroke-width="0"/>
<circle cx="459.20" cy="183.85" r="1.15" fill="#8a3fa5" stroke="none" stroke-width="0"/>
<circle cx="459.18" cy="182.35" r="1.15" fill="#8a3fa5" stroke="none" stroke-width="0"/>
<circle cx="459.13" cy="185.35" r="1.15" fill="#8a3fa5" stroke="none" stroke-width="0"/>
<circle cx="459.32" cy="180.85" r="1.15" fill="#f0245e" stroke="none" stroke-width="0"/>
<circle cx="460.58" cy="183.10" r="1.15" fill="#3a7fc8" stroke="none" stroke-width="0"/>
<circle cx="460.76" cy="184.60" r="1.15" fill="#8a3fa5" stroke="none" stroke-width="0"/>
<circle cx="460.64" cy="181.60" r="1.15" fill="#8a3fa5" stroke="none" stroke-width="0"/>
<circle cx="461.75" cy="183.85" r="1.15" fill="#3a7fc8" stroke="none" stroke-width="0"/>
<circle cx="461.80" cy="182.35" r="1.15" fill="#f0245e" stroke="none" stroke-width="0"/>
<circle cx="463.26" cy="183.10" r="1.15" fill="#3a7fc8" stroke="none" stroke-width="0"/>
<circle cx="463.27" cy="184.60" r="1.15" fill="#8a3fa5" stroke="none" stroke-width="0"/>
<circle cx="463.18" cy="181.60" r="1.15" fill="#8a3fa5" stroke="none" stroke-width="0"/>
<circle cx="464.69" cy="183.85" r="1.15" fill="#3a7fc8" stroke="none" stroke-width="0"/>
<circle cx="464.39" cy="182.35" r="1.15" fill="#8a3fa5" stroke="none" stroke-width="0"/>
<circle cx="465.70" cy="183.10" r="1.15" fill="#8a3fa5" stroke="none" stroke-width="0"/>
<circle cx="467.26" cy="183.10" r="1.15" fill="#3a7fc8" stroke="none" stroke-width="0"/>
<circle cx="413.20" cy="145.30" r="1.20" fill="#3a7fc8" stroke="none" stroke-width="0"/>
<circle cx="416.80" cy="145.30" r="1.20" fill="#3a7fc8" stroke="none" stroke-width="0"/>
<circle cx="427.80" cy="145.30" r="1.20" fill="#3a7fc8" stroke="none" stroke-width="0"/>
<circle cx="429.50" cy="145.30" r="1.20" fill="#3a7fc8" stroke="none" stroke-width="0"/>
<circle cx="431.50" cy="145.30" r="1.20" fill="#3a7fc8" stroke="none" stroke-width="0"/>
<circle cx="433.50" cy="145.30" r="1.20" fill="#3a7fc8" stroke="none" stroke-width="0"/>
<circle cx="428.20" cy="164.10" r="1.20" fill="#3a7fc8" stroke="none" stroke-width="0"/>
<circle cx="436.50" cy="164.10" r="1.20" fill="#8a3fa5" stroke="none" stroke-width="0"/>
<line x1="407.60" y1="201.00" x2="507.40" y2="201.00" stroke="#333" stroke-width="0.8" />
<line x1="407.60" y1="201.00" x2="407.60" y2="204.00" stroke="#333" stroke-width="0.8" />
<line x1="432.60" y1="201.00" x2="432.60" y2="204.00" stroke="#333" stroke-width="0.8" />
<line x1="457.60" y1="201.00" x2="457.60" y2="204.00" stroke="#333" stroke-width="0.8" />
<line x1="482.60" y1="201.00" x2="482.60" y2="204.00" stroke="#333" stroke-width="0.8" />
<line x1="507.60" y1="201.00" x2="507.60" y2="204.00" stroke="#333" stroke-width="0.8" />
<text x="402.70" y="217.80" font-size="10.9" text-anchor="middle" font-weight="normal" fill="#231f20" >0.2</text>
<text x="432.90" y="217.80" font-size="10.9" text-anchor="middle" font-weight="normal" fill="#231f20" >0.1</text>
<text x="458.50" y="217.80" font-size="10.9" text-anchor="middle" font-weight="normal" fill="#231f20" >0.0</text>
<text x="483.90" y="217.80" font-size="10.9" text-anchor="middle" font-weight="normal" fill="#231f20" >0.1</text>
<text x="509.60" y="217.80" font-size="10.9" text-anchor="middle" font-weight="normal" fill="#231f20" >0.2</text>
<line x1="385.30" y1="214.30" x2="393.10" y2="214.30" stroke="#333" stroke-width="0.85" />
<line x1="415.50" y1="214.30" x2="423.40" y2="214.30" stroke="#333" stroke-width="0.85" />
<text x="314.00" y="238.40" font-size="12.8" text-anchor="start" font-weight="normal" fill="#231f20" >SHAP value (impact on model output)</text>
<defs><linearGradient id="shapcb" x1="0" y1="0" x2="0" y2="1"><stop offset="0" stop-color="#ee3366"/><stop offset="0.3" stop-color="#c03399"/><stop offset="0.5" stop-color="#8a4aa8"/><stop offset="0.75" stop-color="#5a70c0"/><stop offset="1" stop-color="#3a80d0"/></linearGradient></defs>
<rect x="514.0" y="50.3" width="2.2" height="150.0" fill="url(#shapcb)"/>
<text x="518.40" y="58.30" font-size="12.6" text-anchor="start" font-weight="normal" fill="#231f20" >Hight</text>
<text x="518.50" y="205.60" font-size="12.6" text-anchor="start" font-weight="normal" fill="#231f20" >Low</text>
<rect x="556.7" y="58.3" width="119.10" height="15.70" fill="#2e2f5c"/>
<line x1="553.70" y1="65.75" x2="556.70" y2="65.75" stroke="#333" stroke-width="0.8" />
<rect x="556.7" y="78.2" width="115.00" height="16.10" fill="#283f86"/>
<line x1="553.70" y1="85.85" x2="556.70" y2="85.85" stroke="#333" stroke-width="0.8" />
<rect x="556.7" y="98.2" width="95.10" height="16.00" fill="#1a4ea1"/>
<line x1="553.70" y1="105.80" x2="556.70" y2="105.80" stroke="#333" stroke-width="0.8" />
<rect x="556.7" y="118.1" width="83.50" height="16.50" fill="#1b58a7"/>
<line x1="553.70" y1="125.95" x2="556.70" y2="125.95" stroke="#333" stroke-width="0.8" />
<rect x="556.7" y="138.1" width="74.50" height="16.40" fill="#2a6bb6"/>
<line x1="553.70" y1="145.90" x2="556.70" y2="145.90" stroke="#333" stroke-width="0.8" />
<rect x="556.7" y="158.0" width="37.30" height="16.50" fill="#3d86c8"/>
<line x1="553.70" y1="165.85" x2="556.70" y2="165.85" stroke="#333" stroke-width="0.8" />
<rect x="556.7" y="178.0" width="34.30" height="16.80" fill="#76c1de"/>
<line x1="553.70" y1="186.00" x2="556.70" y2="186.00" stroke="#333" stroke-width="0.8" />
<rect x="556.7" y="50.5" width="124.8" height="151.3" fill="none" stroke="#555" stroke-width="0.9"/>
<line x1="556.70" y1="201.80" x2="556.70" y2="204.80" stroke="#333" stroke-width="0.8" />
<line x1="583.40" y1="201.80" x2="583.40" y2="204.80" stroke="#333" stroke-width="0.8" />
<line x1="609.60" y1="201.80" x2="609.60" y2="204.80" stroke="#333" stroke-width="0.8" />
<line x1="635.40" y1="201.80" x2="635.40" y2="204.80" stroke="#333" stroke-width="0.8" />
<line x1="661.60" y1="201.80" x2="661.60" y2="204.80" stroke="#333" stroke-width="0.8" />
<text x="551.80" y="217.80" font-size="10.9" text-anchor="middle" font-weight="normal" fill="#231f20" >0.00</text>
<text x="580.20" y="217.80" font-size="10.9" text-anchor="middle" font-weight="normal" fill="#231f20" >0.01</text>
<text x="610.00" y="217.80" font-size="10.9" text-anchor="middle" font-weight="normal" fill="#231f20" >0.02</text>
<text x="639.10" y="217.80" font-size="10.9" text-anchor="middle" font-weight="normal" fill="#231f20" >0.03</text>
<text x="668.30" y="217.80" font-size="10.9" text-anchor="middle" font-weight="normal" fill="#231f20" >0.04</text>
<text x="558.9" y="238.4" font-size="12.7" fill="#231f20">Mean (<tspan fill="#9a9a9a">|</tspan>SHAP value<tspan fill="#9a9a9a">|</tspan>)</text>
<line x1="64.00" y1="442.60" x2="69.40" y2="442.60" stroke="#444" stroke-width="1.0" />
<text x="58.80" y="445.90" font-size="11.4" text-anchor="end" font-weight="normal" fill="#231f20" >0</text>
<line x1="77.60" y1="450.20" x2="77.60" y2="455.60" stroke="#444" stroke-width="1.0" />
<text x="78.30" y="467.40" font-size="11.4" text-anchor="middle" font-weight="normal" fill="#231f20" >0</text>
<line x1="64.00" y1="419.00" x2="69.40" y2="419.00" stroke="#444" stroke-width="1.0" />
<text x="59.90" y="422.10" font-size="11.4" text-anchor="end" font-weight="normal" fill="#231f20" >10</text>
<line x1="103.80" y1="450.20" x2="103.80" y2="455.60" stroke="#444" stroke-width="1.0" />
<text x="104.50" y="467.40" font-size="11.4" text-anchor="middle" font-weight="normal" fill="#231f20" >10</text>
<line x1="64.00" y1="394.80" x2="69.40" y2="394.80" stroke="#444" stroke-width="1.0" />
<text x="60.60" y="398.50" font-size="11.4" text-anchor="end" font-weight="normal" fill="#231f20" >20</text>
<line x1="130.00" y1="450.20" x2="130.00" y2="455.60" stroke="#444" stroke-width="1.0" />
<text x="130.70" y="467.40" font-size="11.4" text-anchor="middle" font-weight="normal" fill="#231f20" >20</text>
<line x1="64.00" y1="371.20" x2="69.40" y2="371.20" stroke="#444" stroke-width="1.0" />
<text x="59.90" y="374.80" font-size="11.4" text-anchor="end" font-weight="normal" fill="#231f20" >30</text>
<line x1="156.20" y1="450.20" x2="156.20" y2="455.60" stroke="#444" stroke-width="1.0" />
<text x="156.90" y="467.40" font-size="11.4" text-anchor="middle" font-weight="normal" fill="#231f20" >30</text>
<line x1="64.00" y1="347.20" x2="69.40" y2="347.20" stroke="#444" stroke-width="1.0" />
<text x="59.90" y="350.90" font-size="11.4" text-anchor="end" font-weight="normal" fill="#231f20" >40</text>
<line x1="182.40" y1="450.20" x2="182.40" y2="455.60" stroke="#444" stroke-width="1.0" />
<text x="183.10" y="467.40" font-size="11.4" text-anchor="middle" font-weight="normal" fill="#231f20" >40</text>
<line x1="64.00" y1="323.60" x2="69.40" y2="323.60" stroke="#444" stroke-width="1.0" />
<text x="59.90" y="327.20" font-size="11.4" text-anchor="end" font-weight="normal" fill="#231f20" >50</text>
<line x1="208.60" y1="450.20" x2="208.60" y2="455.60" stroke="#444" stroke-width="1.0" />
<text x="209.30" y="467.40" font-size="11.4" text-anchor="middle" font-weight="normal" fill="#231f20" >50</text>
<line x1="64.00" y1="300.20" x2="69.40" y2="300.20" stroke="#444" stroke-width="1.0" />
<text x="59.90" y="302.80" font-size="11.4" text-anchor="end" font-weight="normal" fill="#231f20" >60</text>
<line x1="234.80" y1="450.20" x2="234.80" y2="455.60" stroke="#444" stroke-width="1.0" />
<text x="235.50" y="467.40" font-size="11.4" text-anchor="middle" font-weight="normal" fill="#231f20" >60</text>
<text x="0" y="0" font-size="12.85" text-anchor="middle" fill="#231f20" transform="translate(39.20,365.30) rotate(-90)">Predicted catalytic efficiency (%)</text>
<text x="69.90" y="485.00" font-size="12.7" text-anchor="start" font-weight="normal" fill="#231f20" >Observed catalytic efficiency (%)</text>
<circle cx="157.51" cy="329.93" r="2.70" fill="#6b80c7" stroke="none" stroke-width="0" fill-opacity="0.85"/>
<circle cx="207.55" cy="362.87" r="3.39" fill="#2c4fa6" stroke="none" stroke-width="0" fill-opacity="0.85"/>
<circle cx="92.80" cy="353.62" r="1.81" fill="#6b80c7" stroke="none" stroke-width="0" fill-opacity="0.85"/>
<circle cx="113.23" cy="363.58" r="2.09" fill="#6b80c7" stroke="none" stroke-width="0" fill-opacity="0.85"/>
<circle cx="119.52" cy="367.61" r="2.18" fill="#2c4fa6" stroke="none" stroke-width="0" fill-opacity="0.85"/>
<circle cx="96.99" cy="379.46" r="1.87" fill="#6b80c7" stroke="none" stroke-width="0" fill-opacity="0.85"/>
<circle cx="105.90" cy="382.78" r="1.99" fill="#6b80c7" stroke="none" stroke-width="0" fill-opacity="0.85"/>
<circle cx="123.45" cy="382.06" r="2.23" fill="#2c4fa6" stroke="none" stroke-width="0" fill-opacity="0.85"/>
<circle cx="126.86" cy="384.91" r="2.28" fill="#6b80c7" stroke="none" stroke-width="0" fill-opacity="0.85"/>
<circle cx="114.54" cy="387.28" r="2.11" fill="#6b80c7" stroke="none" stroke-width="0" fill-opacity="0.85"/>
<circle cx="137.86" cy="383.49" r="2.43" fill="#6b80c7" stroke="none" stroke-width="0" fill-opacity="0.85"/>
<circle cx="143.89" cy="377.09" r="2.51" fill="#6b80c7" stroke="none" stroke-width="0" fill-opacity="0.85"/>
<circle cx="147.03" cy="378.98" r="2.55" fill="#2c4fa6" stroke="none" stroke-width="0" fill-opacity="0.85"/>
<circle cx="160.39" cy="377.09" r="2.74" fill="#6b80c7" stroke="none" stroke-width="0" fill-opacity="0.85"/>
<circle cx="142.31" cy="389.41" r="2.49" fill="#6b80c7" stroke="none" stroke-width="0" fill-opacity="0.85"/>
<circle cx="149.65" cy="401.74" r="2.59" fill="#2c4fa6" stroke="none" stroke-width="0" fill-opacity="0.85"/>
<circle cx="132.10" cy="399.13" r="2.35" fill="#6b80c7" stroke="none" stroke-width="0" fill-opacity="0.85"/>
<circle cx="77.60" cy="396.76" r="1.60" fill="#6b80c7" stroke="none" stroke-width="0" fill-opacity="0.85"/>
<circle cx="81.01" cy="405.05" r="1.65" fill="#6b80c7" stroke="none" stroke-width="0" fill-opacity="0.85"/>
<circle cx="87.82" cy="399.84" r="1.74" fill="#6b80c7" stroke="none" stroke-width="0" fill-opacity="0.85"/>
<circle cx="89.91" cy="411.45" r="1.77" fill="#2c4fa6" stroke="none" stroke-width="0" fill-opacity="0.85"/>
<circle cx="77.60" cy="412.16" r="1.60" fill="#6b80c7" stroke="none" stroke-width="0" fill-opacity="0.85"/>
<circle cx="77.60" cy="416.43" r="1.60" fill="#2c4fa6" stroke="none" stroke-width="0" fill-opacity="0.85"/>
<circle cx="95.15" cy="418.80" r="1.84" fill="#6b80c7" stroke="none" stroke-width="0" fill-opacity="0.85"/>
<circle cx="114.02" cy="416.67" r="2.10" fill="#6b80c7" stroke="none" stroke-width="0" fill-opacity="0.85"/>
<circle cx="95.15" cy="434.92" r="1.84" fill="#2c4fa6" stroke="none" stroke-width="0" fill-opacity="0.85"/>
<circle cx="86.77" cy="427.10" r="1.73" fill="#6b80c7" stroke="none" stroke-width="0" fill-opacity="0.85"/>
<circle cx="88.08" cy="434.20" r="1.74" fill="#6b80c7" stroke="none" stroke-width="0" fill-opacity="0.85"/>
<circle cx="85.98" cy="431.12" r="1.72" fill="#6b80c7" stroke="none" stroke-width="0" fill-opacity="0.85"/>
<circle cx="90.70" cy="429.46" r="1.78" fill="#6b80c7" stroke="none" stroke-width="0" fill-opacity="0.85"/>
<circle cx="88.87" cy="424.01" r="1.75" fill="#6b80c7" stroke="none" stroke-width="0" fill-opacity="0.85"/>
<circle cx="84.41" cy="433.26" r="1.69" fill="#6b80c7" stroke="none" stroke-width="0" fill-opacity="0.85"/>
<circle cx="87.56" cy="436.10" r="1.74" fill="#6b80c7" stroke="none" stroke-width="0" fill-opacity="0.85"/>
<circle cx="92.27" cy="431.60" r="1.80" fill="#6b80c7" stroke="none" stroke-width="0" fill-opacity="0.85"/>
<circle cx="122.14" cy="395.10" r="2.21" fill="#6b80c7" stroke="none" stroke-width="0" fill-opacity="0.85"/>
<circle cx="133.93" cy="390.36" r="2.37" fill="#2c4fa6" stroke="none" stroke-width="0" fill-opacity="0.85"/>
<circle cx="136.55" cy="392.73" r="2.41" fill="#6b80c7" stroke="none" stroke-width="0" fill-opacity="0.85"/>
<circle cx="105.11" cy="410.50" r="1.98" fill="#2c4fa6" stroke="none" stroke-width="0" fill-opacity="0.85"/>
<circle cx="110.35" cy="408.85" r="2.05" fill="#6b80c7" stroke="none" stroke-width="0" fill-opacity="0.85"/>
<circle cx="115.07" cy="401.02" r="2.11" fill="#6b80c7" stroke="none" stroke-width="0" fill-opacity="0.85"/>
<circle cx="116.90" cy="406.48" r="2.14" fill="#2c4fa6" stroke="none" stroke-width="0" fill-opacity="0.85"/>
<circle cx="130.00" cy="391.55" r="2.32" fill="#6b80c7" stroke="none" stroke-width="0" fill-opacity="0.85"/>
<circle cx="98.56" cy="418.80" r="1.89" fill="#2c4fa6" stroke="none" stroke-width="0" fill-opacity="0.85"/>
<circle cx="101.18" cy="420.70" r="1.92" fill="#6b80c7" stroke="none" stroke-width="0" fill-opacity="0.85"/>
<circle cx="77.60" cy="442.62" r="1.60" fill="#6b80c7" stroke="none" stroke-width="0" fill-opacity="0.85"/>
<circle cx="84.15" cy="436.95" r="1.69" fill="#6b80c7" stroke="none" stroke-width="0" fill-opacity="0.85"/>
<circle cx="88.60" cy="432.76" r="1.75" fill="#2c4fa6" stroke="none" stroke-width="0" fill-opacity="0.85"/>
<circle cx="93.32" cy="428.12" r="1.82" fill="#6b80c7" stroke="none" stroke-width="0" fill-opacity="0.85"/>
<circle cx="97.25" cy="423.96" r="1.87" fill="#6b80c7" stroke="none" stroke-width="0" fill-opacity="0.85"/>
<circle cx="101.18" cy="420.36" r="1.92" fill="#6b80c7" stroke="none" stroke-width="0" fill-opacity="0.85"/>
<circle cx="105.11" cy="416.68" r="1.98" fill="#6b80c7" stroke="none" stroke-width="0" fill-opacity="0.85"/>
<circle cx="107.73" cy="415.88" r="2.01" fill="#6b80c7" stroke="none" stroke-width="0" fill-opacity="0.85"/>
<circle cx="111.66" cy="410.81" r="2.07" fill="#6b80c7" stroke="none" stroke-width="0" fill-opacity="0.85"/>
<circle cx="114.28" cy="409.19" r="2.10" fill="#6b80c7" stroke="none" stroke-width="0" fill-opacity="0.85"/>
<circle cx="116.90" cy="407.50" r="2.14" fill="#6b80c7" stroke="none" stroke-width="0" fill-opacity="0.85"/>
<circle cx="120.83" cy="403.26" r="2.19" fill="#2c4fa6" stroke="none" stroke-width="0" fill-opacity="0.85"/>
<circle cx="124.76" cy="400.67" r="2.25" fill="#6b80c7" stroke="none" stroke-width="0" fill-opacity="0.85"/>
<circle cx="127.38" cy="396.54" r="2.28" fill="#2c4fa6" stroke="none" stroke-width="0" fill-opacity="0.85"/>
<circle cx="130.00" cy="394.53" r="2.32" fill="#2c4fa6" stroke="none" stroke-width="0" fill-opacity="0.85"/>
<circle cx="133.14" cy="392.92" r="2.36" fill="#2c4fa6" stroke="none" stroke-width="0" fill-opacity="0.85"/>
<circle cx="135.24" cy="389.85" r="2.39" fill="#6b80c7" stroke="none" stroke-width="0" fill-opacity="0.85"/>
<circle cx="139.17" cy="387.67" r="2.45" fill="#6b80c7" stroke="none" stroke-width="0" fill-opacity="0.85"/>
<circle cx="141.79" cy="385.30" r="2.48" fill="#2c4fa6" stroke="none" stroke-width="0" fill-opacity="0.85"/>
<circle cx="144.41" cy="381.65" r="2.52" fill="#2c4fa6" stroke="none" stroke-width="0" fill-opacity="0.85"/>
<circle cx="145.72" cy="381.20" r="2.54" fill="#2c4fa6" stroke="none" stroke-width="0" fill-opacity="0.85"/>
<circle cx="147.03" cy="378.97" r="2.55" fill="#2c4fa6" stroke="none" stroke-width="0" fill-opacity="0.85"/>
<circle cx="148.84" cy="377.15" r="2.58" fill="#2c4fa6" stroke="none" stroke-width="0" fill-opacity="0.85"/>
<circle cx="151.29" cy="375.83" r="2.61" fill="#2c4fa6" stroke="none" stroke-width="0" fill-opacity="0.85"/>
<circle cx="153.37" cy="373.01" r="2.64" fill="#2c4fa6" stroke="none" stroke-width="0" fill-opacity="0.85"/>
<circle cx="155.95" cy="371.99" r="2.68" fill="#2c4fa6" stroke="none" stroke-width="0" fill-opacity="0.85"/>
<circle cx="158.57" cy="370.06" r="2.71" fill="#2c4fa6" stroke="none" stroke-width="0" fill-opacity="0.85"/>
<circle cx="160.02" cy="367.76" r="2.73" fill="#2c4fa6" stroke="none" stroke-width="0" fill-opacity="0.85"/>
<circle cx="161.36" cy="367.62" r="2.75" fill="#2c4fa6" stroke="none" stroke-width="0" fill-opacity="0.85"/>
<circle cx="164.42" cy="364.54" r="2.79" fill="#2c4fa6" stroke="none" stroke-width="0" fill-opacity="0.85"/>
<circle cx="166.28" cy="362.46" r="2.82" fill="#2c4fa6" stroke="none" stroke-width="0" fill-opacity="0.85"/>
<circle cx="168.08" cy="360.45" r="2.84" fill="#2c4fa6" stroke="none" stroke-width="0" fill-opacity="0.85"/>
<circle cx="171.47" cy="358.24" r="2.89" fill="#2c4fa6" stroke="none" stroke-width="0" fill-opacity="0.85"/>
<circle cx="173.77" cy="356.37" r="2.92" fill="#2c4fa6" stroke="none" stroke-width="0" fill-opacity="0.85"/>
<circle cx="176.83" cy="352.04" r="2.96" fill="#2c4fa6" stroke="none" stroke-width="0" fill-opacity="0.85"/>
<circle cx="179.14" cy="351.00" r="3.00" fill="#2c4fa6" stroke="none" stroke-width="0" fill-opacity="0.85"/>
<circle cx="181.79" cy="347.38" r="3.03" fill="#2c4fa6" stroke="none" stroke-width="0" fill-opacity="0.85"/>
<circle cx="183.42" cy="346.03" r="3.05" fill="#2c4fa6" stroke="none" stroke-width="0" fill-opacity="0.85"/>
<circle cx="186.06" cy="344.62" r="3.09" fill="#2c4fa6" stroke="none" stroke-width="0" fill-opacity="0.85"/>
<circle cx="189.19" cy="341.64" r="3.13" fill="#2c4fa6" stroke="none" stroke-width="0" fill-opacity="0.85"/>
<circle cx="191.59" cy="339.35" r="3.17" fill="#2c4fa6" stroke="none" stroke-width="0" fill-opacity="0.85"/>
<circle cx="194.46" cy="336.52" r="3.21" fill="#2c4fa6" stroke="none" stroke-width="0" fill-opacity="0.85"/>
<circle cx="197.17" cy="334.15" r="3.24" fill="#2c4fa6" stroke="none" stroke-width="0" fill-opacity="0.85"/>
<circle cx="198.62" cy="332.92" r="3.26" fill="#2c4fa6" stroke="none" stroke-width="0" fill-opacity="0.85"/>
<circle cx="201.52" cy="330.18" r="3.30" fill="#2c4fa6" stroke="none" stroke-width="0" fill-opacity="0.85"/>
<circle cx="204.07" cy="327.27" r="3.34" fill="#2c4fa6" stroke="none" stroke-width="0" fill-opacity="0.85"/>
<circle cx="206.01" cy="326.33" r="3.36" fill="#2c4fa6" stroke="none" stroke-width="0" fill-opacity="0.85"/>
<circle cx="207.38" cy="325.23" r="3.38" fill="#2c4fa6" stroke="none" stroke-width="0" fill-opacity="0.85"/>
<circle cx="210.51" cy="321.86" r="3.43" fill="#2c4fa6" stroke="none" stroke-width="0" fill-opacity="0.85"/>
<circle cx="212.81" cy="320.69" r="3.46" fill="#2c4fa6" stroke="none" stroke-width="0" fill-opacity="0.85"/>
<circle cx="215.62" cy="318.02" r="3.50" fill="#2c4fa6" stroke="none" stroke-width="0" fill-opacity="0.85"/>
<circle cx="218.78" cy="313.89" r="3.54" fill="#2c4fa6" stroke="none" stroke-width="0" fill-opacity="0.85"/>
<circle cx="221.58" cy="312.22" r="3.58" fill="#2c4fa6" stroke="none" stroke-width="0" fill-opacity="0.85"/>
<circle cx="224.82" cy="309.23" r="3.62" fill="#2c4fa6" stroke="none" stroke-width="0" fill-opacity="0.85"/>
<circle cx="226.96" cy="308.32" r="3.65" fill="#2c4fa6" stroke="none" stroke-width="0" fill-opacity="0.85"/>
<circle cx="229.95" cy="304.85" r="3.69" fill="#2c4fa6" stroke="none" stroke-width="0" fill-opacity="0.85"/>
<circle cx="232.19" cy="302.51" r="3.72" fill="#2c4fa6" stroke="none" stroke-width="0" fill-opacity="0.85"/>
<circle cx="235.46" cy="300.61" r="3.77" fill="#2c4fa6" stroke="none" stroke-width="0" fill-opacity="0.85"/>
<circle cx="238.62" cy="296.63" r="3.81" fill="#2c4fa6" stroke="none" stroke-width="0" fill-opacity="0.85"/>
<circle cx="240.13" cy="295.23" r="3.83" fill="#2c4fa6" stroke="none" stroke-width="0" fill-opacity="0.85"/>
<circle cx="241.73" cy="294.87" r="3.86" fill="#2c4fa6" stroke="none" stroke-width="0" fill-opacity="0.85"/>
<circle cx="243.49" cy="292.20" r="3.88" fill="#2c4fa6" stroke="none" stroke-width="0" fill-opacity="0.85"/>
<circle cx="245.80" cy="290.35" r="3.91" fill="#2c4fa6" stroke="none" stroke-width="0" fill-opacity="0.85"/>
<line x1="77.60" y1="442.50" x2="246.07" y2="290.11" stroke="#1a1a1a" stroke-width="0.85" stroke-dasharray="7 2.6"/>
<rect x="69.4" y="282.7" width="185.30" height="167.50" fill="none" stroke="#444" stroke-width="1.1"/>
<text x="153.20" y="418.70" font-size="11.55" fill="#231f20">Accuracy (<tspan font-style="italic">R</tspan><tspan font-size="7.16" dy="-4.2">2</tspan><tspan dy="4.2">): 0.92</tspan></text>
<text x="153.20" y="432.55" font-size="11.55" text-anchor="start" font-weight="normal" fill="#231f20" >RMSE: 0.05</text>
<text x="153.20" y="446.40" font-size="11.55" text-anchor="start" font-weight="normal" fill="#231f20" >MAE: 0.02</text>
<text x="0" y="0" font-size="11.55" text-anchor="middle" fill="#231f20" transform="translate(267.40,404.60) rotate(-90)">Catalytic efficiency</text>
<circle cx="277.30" cy="411.70" r="2.00" fill="#7587cc" stroke="none" stroke-width="0"/>
<text x="282.60" y="414.40" font-size="11.7" text-anchor="start" font-weight="normal" fill="#231f20" >0.15</text>
<circle cx="277.30" cy="422.70" r="2.60" fill="#7587cc" stroke="none" stroke-width="0"/>
<text x="282.60" y="425.40" font-size="11.7" text-anchor="start" font-weight="normal" fill="#231f20" >0.30</text>
<circle cx="277.30" cy="434.40" r="3.30" fill="#7587cc" stroke="none" stroke-width="0"/>
<text x="282.60" y="437.10" font-size="11.7" text-anchor="start" font-weight="normal" fill="#231f20" >0.45</text>
<circle cx="277.30" cy="445.90" r="3.75" fill="#7587cc" stroke="none" stroke-width="0"/>
<text x="282.60" y="448.60" font-size="11.7" text-anchor="start" font-weight="normal" fill="#231f20" >0.60</text>
<line x1="427.20" y1="441.60" x2="432.60" y2="441.60" stroke="#444" stroke-width="1.0" />
<text x="418.70" y="445.70" font-size="11.4" text-anchor="middle" font-weight="normal" fill="#231f20" >0</text>
<line x1="441.60" y1="448.60" x2="441.60" y2="453.80" stroke="#444" stroke-width="1.0" />
<text x="441.60" y="467.40" font-size="11.4" text-anchor="middle" font-weight="normal" fill="#231f20" >0</text>
<line x1="427.20" y1="422.00" x2="432.60" y2="422.00" stroke="#444" stroke-width="1.0" />
<text x="418.70" y="426.10" font-size="11.4" text-anchor="middle" font-weight="normal" fill="#231f20" >5</text>
<line x1="464.30" y1="448.60" x2="464.30" y2="453.80" stroke="#444" stroke-width="1.0" />
<text x="463.70" y="467.40" font-size="11.4" text-anchor="middle" font-weight="normal" fill="#231f20" >5</text>
<line x1="427.20" y1="403.10" x2="432.60" y2="403.10" stroke="#444" stroke-width="1.0" />
<text x="418.70" y="407.20" font-size="11.4" text-anchor="middle" font-weight="normal" fill="#231f20" >10</text>
<line x1="487.30" y1="448.60" x2="487.30" y2="453.80" stroke="#444" stroke-width="1.0" />
<text x="487.30" y="467.40" font-size="11.4" text-anchor="middle" font-weight="normal" fill="#231f20" >10</text>
<line x1="427.20" y1="384.20" x2="432.60" y2="384.20" stroke="#444" stroke-width="1.0" />
<text x="418.70" y="388.30" font-size="11.4" text-anchor="middle" font-weight="normal" fill="#231f20" >15</text>
<line x1="509.70" y1="448.60" x2="509.70" y2="453.80" stroke="#444" stroke-width="1.0" />
<text x="509.70" y="467.40" font-size="11.4" text-anchor="middle" font-weight="normal" fill="#231f20" >15</text>
<line x1="427.20" y1="365.10" x2="432.60" y2="365.10" stroke="#444" stroke-width="1.0" />
<text x="418.70" y="369.20" font-size="11.4" text-anchor="middle" font-weight="normal" fill="#231f20" >20</text>
<line x1="532.70" y1="448.60" x2="532.70" y2="453.80" stroke="#444" stroke-width="1.0" />
<text x="532.10" y="467.40" font-size="11.4" text-anchor="middle" font-weight="normal" fill="#231f20" >20</text>
<line x1="427.20" y1="345.80" x2="432.60" y2="345.80" stroke="#444" stroke-width="1.0" />
<text x="418.70" y="349.40" font-size="11.4" text-anchor="middle" font-weight="normal" fill="#231f20" >25</text>
<line x1="555.70" y1="448.60" x2="555.70" y2="453.80" stroke="#444" stroke-width="1.0" />
<text x="555.10" y="467.40" font-size="11.4" text-anchor="middle" font-weight="normal" fill="#231f20" >25</text>
<line x1="427.20" y1="326.40" x2="432.60" y2="326.40" stroke="#444" stroke-width="1.0" />
<text x="418.70" y="330.20" font-size="11.4" text-anchor="middle" font-weight="normal" fill="#231f20" >30</text>
<line x1="578.10" y1="448.60" x2="578.10" y2="453.80" stroke="#444" stroke-width="1.0" />
<text x="578.10" y="467.40" font-size="11.4" text-anchor="middle" font-weight="normal" fill="#231f20" >30</text>
<line x1="427.20" y1="307.10" x2="432.60" y2="307.10" stroke="#444" stroke-width="1.0" />
<text x="418.70" y="310.90" font-size="11.4" text-anchor="middle" font-weight="normal" fill="#231f20" >35</text>
<line x1="600.80" y1="448.60" x2="600.80" y2="453.80" stroke="#444" stroke-width="1.0" />
<text x="600.80" y="467.40" font-size="11.4" text-anchor="middle" font-weight="normal" fill="#231f20" >35</text>
<line x1="427.20" y1="288.00" x2="432.60" y2="288.00" stroke="#444" stroke-width="1.0" />
<text x="418.70" y="291.60" font-size="11.4" text-anchor="middle" font-weight="normal" fill="#231f20" >40</text>
<line x1="623.10" y1="448.60" x2="623.10" y2="453.80" stroke="#444" stroke-width="1.0" />
<text x="623.10" y="467.40" font-size="11.4" text-anchor="middle" font-weight="normal" fill="#231f20" >40</text>
<text x="0" y="0" font-size="12.6" text-anchor="middle" fill="#231f20" transform="translate(402.20,377.80) rotate(-90)">Predicted off-target catalytic activity (%)</text>
<text x="422.10" y="483.00" font-size="12.7" text-anchor="start" font-weight="normal" fill="#231f20" >Observed off-target catalytic activity (%)</text>
<circle cx="441.60" cy="440.83" r="1.45" fill="#9883c8" stroke="none" stroke-width="0" fill-opacity="0.8"/>
<circle cx="441.60" cy="439.30" r="1.45" fill="#9883c8" stroke="none" stroke-width="0" fill-opacity="0.8"/>
<circle cx="441.60" cy="437.76" r="1.45" fill="#9883c8" stroke="none" stroke-width="0" fill-opacity="0.8"/>
<circle cx="441.60" cy="436.22" r="1.45" fill="#9883c8" stroke="none" stroke-width="0" fill-opacity="0.8"/>
<circle cx="441.60" cy="434.69" r="1.45" fill="#9883c8" stroke="none" stroke-width="0" fill-opacity="0.8"/>
<circle cx="441.60" cy="433.15" r="1.45" fill="#9883c8" stroke="none" stroke-width="0" fill-opacity="0.8"/>
<circle cx="441.60" cy="431.62" r="1.45" fill="#9883c8" stroke="none" stroke-width="0" fill-opacity="0.8"/>
<circle cx="441.60" cy="430.08" r="1.45" fill="#9883c8" stroke="none" stroke-width="0" fill-opacity="0.8"/>
<circle cx="441.60" cy="428.54" r="1.45" fill="#9883c8" stroke="none" stroke-width="0" fill-opacity="0.8"/>
<circle cx="441.60" cy="427.01" r="1.45" fill="#9883c8" stroke="none" stroke-width="0" fill-opacity="0.8"/>
<circle cx="441.60" cy="425.47" r="1.45" fill="#9883c8" stroke="none" stroke-width="0" fill-opacity="0.8"/>
<circle cx="441.60" cy="423.94" r="1.45" fill="#9883c8" stroke="none" stroke-width="0" fill-opacity="0.8"/>
<circle cx="441.60" cy="422.40" r="1.45" fill="#9883c8" stroke="none" stroke-width="0" fill-opacity="0.8"/>
<circle cx="441.60" cy="420.86" r="1.45" fill="#9883c8" stroke="none" stroke-width="0" fill-opacity="0.8"/>
<circle cx="441.60" cy="419.33" r="1.45" fill="#9883c8" stroke="none" stroke-width="0" fill-opacity="0.8"/>
<circle cx="441.60" cy="417.79" r="1.45" fill="#9883c8" stroke="none" stroke-width="0" fill-opacity="0.8"/>
<circle cx="441.60" cy="416.26" r="1.45" fill="#9883c8" stroke="none" stroke-width="0" fill-opacity="0.8"/>
<circle cx="441.60" cy="414.72" r="1.45" fill="#9883c8" stroke="none" stroke-width="0" fill-opacity="0.8"/>
<circle cx="441.60" cy="413.18" r="1.45" fill="#9883c8" stroke="none" stroke-width="0" fill-opacity="0.8"/>
<circle cx="441.60" cy="411.65" r="1.45" fill="#9883c8" stroke="none" stroke-width="0" fill-opacity="0.8"/>
<circle cx="441.60" cy="410.11" r="1.45" fill="#9883c8" stroke="none" stroke-width="0" fill-opacity="0.8"/>
<circle cx="441.60" cy="408.58" r="1.45" fill="#9883c8" stroke="none" stroke-width="0" fill-opacity="0.8"/>
<circle cx="441.60" cy="406.66" r="1.45" fill="#9883c8" stroke="none" stroke-width="0" fill-opacity="0.8"/>
<circle cx="441.60" cy="393.60" r="1.45" fill="#9883c8" stroke="none" stroke-width="0" fill-opacity="0.8"/>
<circle cx="441.60" cy="377.09" r="1.45" fill="#9883c8" stroke="none" stroke-width="0" fill-opacity="0.8"/>
<circle cx="441.60" cy="374.78" r="1.45" fill="#9883c8" stroke="none" stroke-width="0" fill-opacity="0.8"/>
<circle cx="441.60" cy="328.32" r="1.45" fill="#9883c8" stroke="none" stroke-width="0" fill-opacity="0.8"/>
<circle cx="443.87" cy="439.49" r="1.53" fill="#9883c8" stroke="none" stroke-width="0" fill-opacity="0.75"/>
<circle cx="447.43" cy="436.22" r="1.58" fill="#9883c8" stroke="none" stroke-width="0" fill-opacity="0.75"/>
<circle cx="451.39" cy="432.95" r="1.63" fill="#9883c8" stroke="none" stroke-width="0" fill-opacity="0.75"/>
<circle cx="455.32" cy="430.72" r="1.68" fill="#9883c8" stroke="none" stroke-width="0" fill-opacity="0.75"/>
<circle cx="458.31" cy="426.78" r="1.72" fill="#9883c8" stroke="none" stroke-width="0" fill-opacity="0.75"/>
<circle cx="461.68" cy="423.99" r="1.77" fill="#9883c8" stroke="none" stroke-width="0" fill-opacity="0.75"/>
<circle cx="463.95" cy="422.73" r="1.80" fill="#9883c8" stroke="none" stroke-width="0" fill-opacity="0.75"/>
<circle cx="466.50" cy="420.46" r="1.83" fill="#9883c8" stroke="none" stroke-width="0" fill-opacity="0.75"/>
<circle cx="469.71" cy="418.56" r="1.87" fill="#9883c8" stroke="none" stroke-width="0" fill-opacity="0.75"/>
<circle cx="472.20" cy="416.05" r="1.90" fill="#9883c8" stroke="none" stroke-width="0" fill-opacity="0.75"/>
<circle cx="476.11" cy="411.99" r="1.96" fill="#9883c8" stroke="none" stroke-width="0" fill-opacity="0.75"/>
<circle cx="478.48" cy="409.94" r="1.99" fill="#9883c8" stroke="none" stroke-width="0" fill-opacity="0.75"/>
<circle cx="480.80" cy="408.25" r="2.02" fill="#9883c8" stroke="none" stroke-width="0" fill-opacity="0.75"/>
<circle cx="483.10" cy="407.25" r="2.05" fill="#9883c8" stroke="none" stroke-width="0" fill-opacity="0.75"/>
<circle cx="486.93" cy="403.69" r="2.10" fill="#9883c8" stroke="none" stroke-width="0" fill-opacity="0.75"/>
<circle cx="489.41" cy="400.40" r="2.13" fill="#9883c8" stroke="none" stroke-width="0" fill-opacity="0.75"/>
<circle cx="493.23" cy="398.23" r="2.18" fill="#9883c8" stroke="none" stroke-width="0" fill-opacity="0.75"/>
<circle cx="497.24" cy="394.46" r="2.24" fill="#9883c8" stroke="none" stroke-width="0" fill-opacity="0.75"/>
<circle cx="500.66" cy="392.07" r="2.28" fill="#9883c8" stroke="none" stroke-width="0" fill-opacity="0.75"/>
<circle cx="504.63" cy="387.97" r="2.33" fill="#9883c8" stroke="none" stroke-width="0" fill-opacity="0.75"/>
<circle cx="508.64" cy="384.26" r="2.39" fill="#9883c8" stroke="none" stroke-width="0" fill-opacity="0.75"/>
<circle cx="511.29" cy="382.84" r="2.42" fill="#9883c8" stroke="none" stroke-width="0" fill-opacity="0.75"/>
<circle cx="513.68" cy="381.15" r="2.45" fill="#9883c8" stroke="none" stroke-width="0" fill-opacity="0.75"/>
<circle cx="515.85" cy="379.07" r="2.48" fill="#9883c8" stroke="none" stroke-width="0" fill-opacity="0.75"/>
<circle cx="519.12" cy="376.76" r="2.53" fill="#9883c8" stroke="none" stroke-width="0" fill-opacity="0.75"/>
<circle cx="522.55" cy="373.35" r="2.57" fill="#9883c8" stroke="none" stroke-width="0" fill-opacity="0.75"/>
<circle cx="527.82" cy="369.41" r="2.64" fill="#9883c8" stroke="none" stroke-width="0" fill-opacity="0.75"/>
<circle cx="537.81" cy="360.96" r="2.77" fill="#9883c8" stroke="none" stroke-width="0" fill-opacity="0.75"/>
<circle cx="546.43" cy="353.66" r="2.89" fill="#9883c8" stroke="none" stroke-width="0" fill-opacity="0.75"/>
<circle cx="554.14" cy="347.14" r="2.99" fill="#9883c8" stroke="none" stroke-width="0" fill-opacity="0.75"/>
<circle cx="565.94" cy="337.15" r="3.14" fill="#9883c8" stroke="none" stroke-width="0" fill-opacity="0.75"/>
<circle cx="575.92" cy="328.70" r="3.28" fill="#9883c8" stroke="none" stroke-width="0" fill-opacity="0.75"/>
<circle cx="580.46" cy="324.86" r="3.34" fill="#9883c8" stroke="none" stroke-width="0" fill-opacity="0.75"/>
<circle cx="587.72" cy="318.72" r="3.43" fill="#9883c8" stroke="none" stroke-width="0" fill-opacity="0.75"/>
<circle cx="598.16" cy="309.89" r="3.57" fill="#9883c8" stroke="none" stroke-width="0" fill-opacity="0.75"/>
<circle cx="599.52" cy="308.74" r="3.59" fill="#9883c8" stroke="none" stroke-width="0" fill-opacity="0.75"/>
<circle cx="611.32" cy="298.75" r="3.74" fill="#9883c8" stroke="none" stroke-width="0" fill-opacity="0.75"/>
<circle cx="621.30" cy="290.30" r="3.88" fill="#9883c8" stroke="none" stroke-width="0" fill-opacity="0.75"/>
<circle cx="500.59" cy="392.45" r="2.28" fill="#9883c8" stroke="none" stroke-width="0" fill-opacity="0.75"/>
<circle cx="503.32" cy="390.14" r="2.32" fill="#9883c8" stroke="none" stroke-width="0" fill-opacity="0.75"/>
<circle cx="506.04" cy="387.84" r="2.35" fill="#9883c8" stroke="none" stroke-width="0" fill-opacity="0.75"/>
<circle cx="511.03" cy="383.62" r="2.42" fill="#9883c8" stroke="none" stroke-width="0" fill-opacity="0.75"/>
<circle cx="522.38" cy="366.72" r="2.40" fill="#9883c8" stroke="none" stroke-width="0" fill-opacity="0.8"/>
<circle cx="544.16" cy="367.10" r="2.60" fill="#9883c8" stroke="none" stroke-width="0" fill-opacity="0.8"/>
<circle cx="519.65" cy="407.04" r="2.30" fill="#9883c8" stroke="none" stroke-width="0" fill-opacity="0.8"/>
<circle cx="537.81" cy="407.04" r="2.40" fill="#9883c8" stroke="none" stroke-width="0" fill-opacity="0.8"/>
<circle cx="580.01" cy="407.04" r="2.90" fill="#9883c8" stroke="none" stroke-width="0" fill-opacity="0.8"/>
<circle cx="506.49" cy="416.26" r="2.40" fill="#9883c8" stroke="none" stroke-width="0" fill-opacity="0.8"/>
<circle cx="454.76" cy="410.88" r="1.60" fill="#9883c8" stroke="none" stroke-width="0" fill-opacity="0.8"/>
<circle cx="474.27" cy="428.54" r="2.00" fill="#9883c8" stroke="none" stroke-width="0" fill-opacity="0.8"/>
<circle cx="476.09" cy="430.08" r="2.00" fill="#9883c8" stroke="none" stroke-width="0" fill-opacity="0.8"/>
<circle cx="491.06" cy="428.16" r="2.10" fill="#9883c8" stroke="none" stroke-width="0" fill-opacity="0.8"/>
<circle cx="491.97" cy="430.46" r="2.20" fill="#9883c8" stroke="none" stroke-width="0" fill-opacity="0.8"/>
<circle cx="512.39" cy="435.46" r="2.30" fill="#9883c8" stroke="none" stroke-width="0" fill-opacity="0.8"/>
<circle cx="513.30" cy="437.38" r="2.30" fill="#9883c8" stroke="none" stroke-width="0" fill-opacity="0.8"/>
<circle cx="467.01" cy="434.30" r="1.80" fill="#9883c8" stroke="none" stroke-width="0" fill-opacity="0.8"/>
<circle cx="467.92" cy="434.69" r="1.80" fill="#9883c8" stroke="none" stroke-width="0" fill-opacity="0.8"/>
<circle cx="472.00" cy="441.22" r="1.90" fill="#9883c8" stroke="none" stroke-width="0" fill-opacity="0.8"/>
<circle cx="452.95" cy="438.53" r="1.50" fill="#9883c8" stroke="none" stroke-width="0" fill-opacity="0.8"/>
<circle cx="462.93" cy="420.48" r="1.70" fill="#9883c8" stroke="none" stroke-width="0" fill-opacity="0.8"/>
<circle cx="461.11" cy="430.08" r="1.50" fill="#9883c8" stroke="none" stroke-width="0" fill-opacity="0.8"/>
<circle cx="448.41" cy="437.76" r="1.30" fill="#9883c8" stroke="none" stroke-width="0" fill-opacity="0.8"/>
<line x1="441.60" y1="441.60" x2="621.30" y2="289.54" stroke="#222" stroke-width="0.85" stroke-dasharray="7 3.3"/>
<rect x="432.6" y="283.4" width="197.80" height="165.20" fill="none" stroke="#444" stroke-width="1.1"/>
<text x="529.30" y="421.10" font-size="11.55" fill="#231f20">Accuracy (<tspan font-style="italic">R</tspan><tspan font-size="7.16" dy="-4.2">2</tspan><tspan dy="4.2">): 0.84</tspan></text>
<text x="529.30" y="433.50" font-size="11.55" text-anchor="start" font-weight="normal" fill="#231f20" >RMSE: 0.04</text>
<text x="529.30" y="445.90" font-size="11.55" text-anchor="start" font-weight="normal" fill="#231f20" >MAE: 0.01</text>
<text x="0" y="0" font-size="11.5" text-anchor="middle" fill="#231f20" transform="translate(645.40,385.00) rotate(-90)">Off-target catalytic activity</text>
<circle cx="656.70" cy="401.30" r="1.20" fill="#9883c8" stroke="none" stroke-width="0"/>
<text x="662.60" y="404.70" font-size="11.7" text-anchor="start" font-weight="normal" fill="#231f20" >0.00</text>
<circle cx="656.70" cy="411.80" r="1.70" fill="#9883c8" stroke="none" stroke-width="0"/>
<text x="662.60" y="415.20" font-size="11.7" text-anchor="start" font-weight="normal" fill="#231f20" >0.08</text>
<circle cx="656.70" cy="422.70" r="2.10" fill="#9883c8" stroke="none" stroke-width="0"/>
<text x="662.60" y="426.10" font-size="11.7" text-anchor="start" font-weight="normal" fill="#231f20" >0.16</text>
<circle cx="656.70" cy="433.50" r="2.70" fill="#9883c8" stroke="none" stroke-width="0"/>
<text x="662.60" y="436.90" font-size="11.7" text-anchor="start" font-weight="normal" fill="#231f20" >0.24</text>
<circle cx="656.70" cy="445.90" r="3.40" fill="#9883c8" stroke="none" stroke-width="0"/>
<text x="662.60" y="449.30" font-size="11.7" text-anchor="start" font-weight="normal" fill="#231f20" >0.32</text>
<text x="108.30" y="521.60" font-size="12.6" text-anchor="start" font-weight="normal" fill="#231f20" >Windows ROC Curve</text>
<line x1="44.20" y1="686.00" x2="50.40" y2="686.00" stroke="#444" stroke-width="1.0" />
<text x="41.40" y="689.40" font-size="11.4" text-anchor="end" font-weight="normal" fill="#231f20" >0.0</text>
<line x1="50.40" y1="686.00" x2="50.40" y2="692.00" stroke="#444" stroke-width="1.0" />
<text x="53.00" y="704.40" font-size="11.4" text-anchor="middle" font-weight="normal" fill="#231f20" >0.0</text>
<line x1="44.20" y1="656.10" x2="50.40" y2="656.10" stroke="#444" stroke-width="1.0" />
<text x="41.40" y="659.50" font-size="11.4" text-anchor="end" font-weight="normal" fill="#231f20" >0.2</text>
<line x1="100.00" y1="686.00" x2="100.00" y2="692.00" stroke="#444" stroke-width="1.0" />
<text x="98.30" y="704.40" font-size="11.4" text-anchor="middle" font-weight="normal" fill="#231f20" >0.2</text>
<line x1="44.20" y1="626.20" x2="50.40" y2="626.20" stroke="#444" stroke-width="1.0" />
<text x="41.40" y="629.60" font-size="11.4" text-anchor="end" font-weight="normal" fill="#231f20" >0.4</text>
<line x1="149.60" y1="686.00" x2="149.60" y2="692.00" stroke="#444" stroke-width="1.0" />
<text x="148.80" y="704.40" font-size="11.4" text-anchor="middle" font-weight="normal" fill="#231f20" >0.4</text>
<line x1="44.20" y1="596.30" x2="50.40" y2="596.30" stroke="#444" stroke-width="1.0" />
<text x="41.40" y="599.70" font-size="11.4" text-anchor="end" font-weight="normal" fill="#231f20" >0.6</text>
<line x1="199.20" y1="686.00" x2="199.20" y2="692.00" stroke="#444" stroke-width="1.0" />
<text x="199.60" y="704.40" font-size="11.4" text-anchor="middle" font-weight="normal" fill="#231f20" >0.6</text>
<line x1="44.20" y1="566.40" x2="50.40" y2="566.40" stroke="#444" stroke-width="1.0" />
<text x="41.40" y="569.80" font-size="11.4" text-anchor="end" font-weight="normal" fill="#231f20" >0.8</text>
<line x1="248.80" y1="686.00" x2="248.80" y2="692.00" stroke="#444" stroke-width="1.0" />
<text x="248.90" y="704.40" font-size="11.4" text-anchor="middle" font-weight="normal" fill="#231f20" >0.8</text>
<line x1="44.20" y1="536.50" x2="50.40" y2="536.50" stroke="#444" stroke-width="1.0" />
<text x="41.40" y="539.90" font-size="11.4" text-anchor="end" font-weight="normal" fill="#231f20" >1.0</text>
<line x1="298.40" y1="686.00" x2="298.40" y2="692.00" stroke="#444" stroke-width="1.0" />
<text x="297.00" y="704.40" font-size="11.4" text-anchor="middle" font-weight="normal" fill="#231f20" >1.0</text>
<text x="0" y="0" font-size="12.8" text-anchor="middle" fill="#231f20" transform="translate(14.90,610.60) rotate(-90)">True positive rate</text>
<text x="124.80" y="722.20" font-size="12.7" text-anchor="start" font-weight="normal" fill="#231f20" >False positive rate</text>
<defs><clipPath id="clipE"><rect x="50.4" y="529.4" width="248.00" height="156.60"/></clipPath></defs>
<g clip-path="url(#clipE)">
<g fill="none" stroke="#9a9a9a" stroke-opacity="0.40" stroke-width="1.1" stroke-linejoin="miter">
<path d="M50.40,686.00 L50.40,615.65 L52.47,615.65 L52.47,606.85 L54.53,606.85 L54.53,589.26 L58.67,589.26 L58.67,580.47 L60.73,580.47 L60.73,562.88 L62.80,562.88 L62.80,554.09 L64.87,554.09 L64.87,545.29 L89.67,545.29 L89.67,536.50 L298.40,536.50"/>
<path d="M50.40,686.00 L50.40,600.57 L52.47,600.57 L52.47,579.21 L56.60,579.21 L56.60,568.54 L83.47,568.54 L83.47,557.86 L89.67,557.86 L89.67,536.50 L298.40,536.50"/>
<path d="M50.40,686.00 L50.40,616.23 L52.47,616.23 L52.47,596.30 L54.53,596.30 L54.53,586.33 L75.20,586.33 L75.20,576.37 L100.00,576.37 L100.00,566.40 L112.40,566.40 L112.40,556.43 L143.40,556.43 L143.40,546.47 L153.73,546.47 L153.73,536.50 L298.40,536.50"/>
<path d="M50.40,686.00 L50.40,640.00 L60.73,640.00 L60.73,617.00 L64.87,617.00 L64.87,594.00 L69.00,594.00 L69.00,582.50 L77.27,582.50 L77.27,571.00 L85.53,571.00 L85.53,559.50 L93.80,559.50 L93.80,548.00 L126.87,548.00 L126.87,536.50 L298.40,536.50"/>
<path d="M50.40,686.00 L50.40,598.79 L52.47,598.79 L52.47,580.10 L54.53,580.10 L54.53,567.65 L58.67,567.65 L58.67,561.42 L60.73,561.42 L60.73,555.19 L64.87,555.19 L64.87,548.96 L75.20,548.96 L75.20,542.73 L102.07,542.73 L102.07,536.50 L298.40,536.50"/>
<path d="M50.40,686.00 L50.40,583.71 L52.47,583.71 L52.47,575.84 L54.53,575.84 L54.53,567.97 L66.93,567.97 L66.93,560.11 L69.00,560.11 L69.00,552.24 L114.47,552.24 L114.47,544.37 L159.93,544.37 L159.93,536.50 L298.40,536.50"/>
<path d="M50.40,686.00 L50.40,591.58 L52.47,591.58 L52.47,583.71 L56.60,583.71 L56.60,575.84 L58.67,575.84 L58.67,560.11 L81.40,560.11 L81.40,544.37 L91.73,544.37 L91.73,536.50 L298.40,536.50"/>
<path d="M50.40,686.00 L50.40,573.88 L52.47,573.88 L52.47,561.42 L58.67,561.42 L58.67,548.96 L102.07,548.96 L102.07,536.50 L298.40,536.50"/>
<path d="M50.40,686.00 L50.40,605.50 L54.53,605.50 L54.53,582.50 L75.20,582.50 L75.20,571.00 L147.53,571.00 L147.53,559.50 L159.93,559.50 L159.93,548.00 L217.80,548.00 L217.80,536.50 L298.40,536.50"/>
<path d="M50.40,686.00 L50.40,645.23 L52.47,645.23 L52.47,631.64 L58.67,631.64 L58.67,604.45 L69.00,604.45 L69.00,590.86 L79.33,590.86 L79.33,563.68 L159.93,563.68 L159.93,550.09 L224.00,550.09 L224.00,536.50 L298.40,536.50"/>
<path d="M50.40,686.00 L50.40,563.68 L69.00,563.68 L69.00,556.89 L73.13,556.89 L73.13,550.09 L89.67,550.09 L89.67,543.30 L112.40,543.30 L112.40,536.50 L298.40,536.50"/>
<path d="M50.40,686.00 L50.40,621.00 L52.47,621.00 L52.47,569.00 L54.53,569.00 L54.53,562.50 L66.93,562.50 L66.93,549.50 L75.20,549.50 L75.20,543.00 L108.27,543.00 L108.27,536.50 L298.40,536.50"/>
<path d="M50.40,686.00 L50.40,600.57 L52.47,600.57 L52.47,589.89 L69.00,589.89 L69.00,568.54 L71.07,568.54 L71.07,557.86 L137.20,557.86 L137.20,547.18 L149.60,547.18 L149.60,536.50 L298.40,536.50"/>
<path d="M50.40,686.00 L50.40,678.88 L54.53,678.88 L54.53,636.17 L56.60,636.17 L56.60,629.05 L58.67,629.05 L58.67,621.93 L69.00,621.93 L69.00,614.81 L73.13,614.81 L73.13,607.69 L75.20,607.69 L75.20,586.33 L77.27,586.33 L77.27,579.21 L83.47,579.21 L83.47,572.10 L87.60,572.10 L87.60,564.98 L95.87,564.98 L95.87,557.86 L108.27,557.86 L108.27,550.74 L139.27,550.74 L139.27,543.62 L240.53,543.62 L240.53,536.50 L298.40,536.50"/>
<path d="M50.40,686.00 L50.40,636.17 L52.47,636.17 L52.47,619.56 L56.60,619.56 L56.60,602.94 L75.20,602.94 L75.20,594.64 L85.53,594.64 L85.53,578.03 L95.87,578.03 L95.87,561.42 L97.93,561.42 L97.93,553.11 L143.40,553.11 L143.40,544.81 L155.80,544.81 L155.80,536.50 L298.40,536.50"/>
<path d="M50.40,686.00 L50.40,611.25 L52.47,611.25 L52.47,596.30 L54.53,596.30 L54.53,581.35 L56.60,581.35 L56.60,558.92 L62.80,558.92 L62.80,551.45 L71.07,551.45 L71.07,543.98 L174.40,543.98 L174.40,536.50 L298.40,536.50"/>
<path d="M50.40,686.00 L50.40,600.57 L56.60,600.57 L56.60,589.89 L66.93,589.89 L66.93,579.21 L71.07,579.21 L71.07,568.54 L85.53,568.54 L85.53,557.86 L91.73,557.86 L91.73,547.18 L133.07,547.18 L133.07,536.50 L298.40,536.50"/>
<path d="M50.40,686.00 L50.40,611.25 L52.47,611.25 L52.47,573.88 L79.33,573.88 L79.33,561.42 L120.67,561.42 L120.67,548.96 L137.20,548.96 L137.20,536.50 L298.40,536.50"/>
<path d="M50.40,686.00 L50.40,615.18 L54.53,615.18 L54.53,583.71 L60.73,583.71 L60.73,575.84 L62.80,575.84 L62.80,567.97 L73.13,567.97 L73.13,560.11 L87.60,560.11 L87.60,552.24 L108.27,552.24 L108.27,544.37 L110.33,544.37 L110.33,536.50 L298.40,536.50"/>
</g>
<line x1="50.40" y1="686.00" x2="298.40" y2="536.50" stroke="#3a3a3a" stroke-width="1.05" stroke-dasharray="9.5 4.2"/>
<path d="M50.40,640.25 C50.61,637.41 51.19,630.54 51.64,623.21 C52.09,615.88 52.34,602.85 53.13,596.30 C53.91,589.75 54.66,587.48 56.35,583.89 C58.05,580.30 60.77,577.44 63.30,574.77 C65.82,572.11 69.08,570.66 71.48,567.89 C73.88,565.13 74.99,560.67 77.68,558.18 C80.37,555.69 83.92,554.49 87.60,552.94 C91.28,551.40 95.78,550.13 99.75,548.91 C103.72,547.69 107.56,546.64 111.41,545.62 C115.25,544.60 118.81,543.60 122.82,542.78 C126.83,541.96 131.37,541.26 135.46,540.69 C139.56,540.11 143.03,539.76 147.37,539.34 C151.71,538.92 157.00,538.52 161.50,538.14 C166.01,537.77 168.12,537.37 174.40,537.10 C180.68,536.82 178.53,536.60 199.20,536.50 C219.87,536.40 281.87,536.50 298.40,536.50" fill="none" stroke="#74c087" stroke-width="5.6" stroke-dasharray="5.6 7.8"/>
</g>
<rect x="50.4" y="529.4" width="248.00" height="156.60" fill="none" stroke="#444" stroke-width="1.1"/>
<text x="124.60" y="648.40" font-size="11.45" text-anchor="start" font-weight="normal" fill="#231f20" >Accuracy: 0.63&#160; Precision: 0.73</text>
<text x="124.60" y="659.65" font-size="11.45" text-anchor="start" font-weight="normal" fill="#231f20" >Recall: 0.64&#160; F1 Score: 0.61</text>
<text x="124.60" y="670.90" font-size="11.45" text-anchor="start" font-weight="normal" fill="#231f20" >Average ROC curve (area = 0.95)</text>
<text x="124.60" y="682.15" font-size="11.45" text-anchor="start" font-weight="normal" fill="#231f20" >ROC curves for different classes</text>
<rect x="112.3" y="664.5" width="5" height="5" fill="#7cc58e"/>
<line x1="111.50" y1="677.40" x2="119.70" y2="677.40" stroke="#c8c8c8" stroke-width="1.0" />
<text x="478.50" y="517.70" font-size="12.6" text-anchor="start" font-weight="normal" fill="#231f20" >Motif ROC Curve</text>
<line x1="397.90" y1="686.20" x2="403.90" y2="686.20" stroke="#444" stroke-width="1.0" />
<text x="395.60" y="689.10" font-size="11.4" text-anchor="end" font-weight="normal" fill="#231f20" >0.0</text>
<line x1="403.90" y1="686.20" x2="403.90" y2="692.20" stroke="#444" stroke-width="1.0" />
<text x="407.20" y="704.40" font-size="11.4" text-anchor="middle" font-weight="normal" fill="#231f20" >0.0</text>
<line x1="397.90" y1="655.60" x2="403.90" y2="655.60" stroke="#444" stroke-width="1.0" />
<text x="395.60" y="659.12" font-size="11.4" text-anchor="end" font-weight="normal" fill="#231f20" >0.2</text>
<line x1="454.42" y1="686.20" x2="454.42" y2="692.20" stroke="#444" stroke-width="1.0" />
<text x="454.60" y="704.40" font-size="11.4" text-anchor="middle" font-weight="normal" fill="#231f20" >0.2</text>
<line x1="397.90" y1="625.00" x2="403.90" y2="625.00" stroke="#444" stroke-width="1.0" />
<text x="395.60" y="629.14" font-size="11.4" text-anchor="end" font-weight="normal" fill="#231f20" >0.4</text>
<line x1="504.94" y1="686.20" x2="504.94" y2="692.20" stroke="#444" stroke-width="1.0" />
<text x="504.50" y="704.40" font-size="11.4" text-anchor="middle" font-weight="normal" fill="#231f20" >0.4</text>
<line x1="397.90" y1="594.40" x2="403.90" y2="594.40" stroke="#444" stroke-width="1.0" />
<text x="395.60" y="599.16" font-size="11.4" text-anchor="end" font-weight="normal" fill="#231f20" >0.6</text>
<line x1="555.46" y1="686.20" x2="555.46" y2="692.20" stroke="#444" stroke-width="1.0" />
<text x="555.60" y="704.40" font-size="11.4" text-anchor="middle" font-weight="normal" fill="#231f20" >0.6</text>
<line x1="397.90" y1="563.80" x2="403.90" y2="563.80" stroke="#444" stroke-width="1.0" />
<text x="395.60" y="569.18" font-size="11.4" text-anchor="end" font-weight="normal" fill="#231f20" >0.8</text>
<line x1="605.98" y1="686.20" x2="605.98" y2="692.20" stroke="#444" stroke-width="1.0" />
<text x="606.70" y="704.40" font-size="11.4" text-anchor="middle" font-weight="normal" fill="#231f20" >0.8</text>
<line x1="397.90" y1="533.20" x2="403.90" y2="533.20" stroke="#444" stroke-width="1.0" />
<text x="395.60" y="539.20" font-size="11.4" text-anchor="end" font-weight="normal" fill="#231f20" >1.0</text>
<line x1="656.50" y1="686.20" x2="656.50" y2="692.20" stroke="#444" stroke-width="1.0" />
<text x="657.80" y="704.40" font-size="11.4" text-anchor="middle" font-weight="normal" fill="#231f20" >1.0</text>
<text x="0" y="0" font-size="12.8" text-anchor="middle" fill="#231f20" transform="translate(370.40,610.80) rotate(-90)">True positive rate</text>
<text x="482.50" y="722.20" font-size="12.7" text-anchor="start" font-weight="normal" fill="#231f20" >False positive rate</text>
<defs><clipPath id="clipF"><rect x="403.9" y="525.6" width="252.60" height="160.60"/></clipPath></defs>
<g clip-path="url(#clipF)">
<g fill="none" stroke="#9a9a9a" stroke-opacity="0.45" stroke-width="1.1">
<path d="M403.68,684.61 L403.88,606.90 L404.29,566.00 L404.90,547.59 L406.13,542.48 L408.17,539.41 L412.26,537.77 L420.43,537.37 L481.72,537.37 L502.15,536.96 L522.58,535.73 L539.94,534.91 L555.46,534.73 L605.98,533.97 L656.50,533.20"/>
<path d="M403.68,684.61 L404.09,684.61 L404.09,647.80 L408.17,647.80 L408.17,647.80 L408.58,647.80 L408.58,627.35 L411.24,627.35 L411.24,610.99 L412.26,610.99 L412.26,602.81 L415.32,602.81 L415.32,596.67 L416.34,596.67 L416.34,590.54 L419.41,590.54 L419.41,586.45 L420.43,586.45 L420.43,582.36 L424.52,582.36 L424.52,580.31 L425.54,580.31 L425.54,577.24 L430.65,577.24 L430.65,574.18 L431.67,574.18 L431.67,569.06 L434.73,569.06 L434.73,564.97 L440.86,564.97 L440.86,562.93 L444.95,562.93 L444.95,560.88 L449.03,560.88 L449.03,559.45 L453.12,559.45 L453.12,557.82 L457.20,557.82 L457.20,556.79 L461.29,556.79 L461.29,555.77 L462.31,555.77 L462.31,553.73 L467.42,553.73 L467.42,551.27 L473.55,551.27 L473.55,549.64 L477.63,549.64 L477.63,546.57 L481.72,546.57 L481.72,544.52 L491.93,544.52 L491.93,543.09 L506.23,543.09 L506.23,541.46 L522.58,541.46 L522.58,539.41 L539.94,539.41 L539.94,536.34 L555.46,534.73 L605.98,533.97 L656.50,533.20"/>
<path d="M403.68,684.61 L404.50,684.61 L404.50,655.98 L406.13,655.98 L406.13,631.44 L409.19,631.44 L409.19,619.17 L411.24,619.17 L411.24,610.99 L413.28,610.99 L413.28,600.76 L415.32,600.76 L415.32,594.63 L420.43,594.63 L420.43,586.45 L422.47,586.45 L422.47,582.36 L426.56,582.36 L426.56,576.22 L430.65,576.22 L430.65,570.09 L433.71,570.09 L433.71,564.97 L436.77,564.97 L436.77,559.86 L440.86,559.86 L440.86,555.77 L442.90,555.77 L442.90,553.73 L453.12,553.73 L453.12,551.27 L461.29,551.27 L461.29,550.66 L467.42,550.66 L467.42,549.23 L471.50,549.23 L471.50,547.59 L477.63,547.59 L477.63,544.52 L485.80,544.52 L485.80,542.48 L502.15,542.48 L502.15,541.05 L522.58,541.05 L522.58,538.39 L539.94,538.39 L539.94,536.34 L555.46,534.73 L605.98,533.97 L656.50,533.20"/>
<path d="M403.68,684.61 L404.29,684.61 L404.29,639.62 L405.72,639.62 L405.72,623.26 L408.17,623.26 L408.17,613.03 L410.62,613.03 L410.62,606.90 L412.67,606.90 L412.67,598.72 L416.34,598.72 L416.34,592.58 L418.80,592.58 L418.80,587.47 L423.50,587.47 L423.50,581.33 L428.60,581.33 L428.60,574.18 L432.28,574.18 L432.28,567.02 L435.75,567.02 L435.75,561.91 L439.84,561.91 L439.84,557.82 L446.99,557.82 L446.99,554.13 L455.16,554.13 L455.16,552.70 L463.33,552.70 L463.33,551.27 L470.48,551.27 L470.48,548.61 L478.65,548.61 L478.65,545.55 L487.85,545.55 L487.85,543.50 L504.19,543.50 L504.19,541.86 L522.58,541.86 L522.58,539.00 L539.94,539.00 L539.94,536.34 L555.46,534.73 L605.98,533.97 L656.50,533.20"/>
</g>
<line x1="403.90" y1="686.20" x2="656.50" y2="533.20" stroke="#3a3a3a" stroke-width="1.05" stroke-dasharray="9.5 4.2"/>
<path d="M403.90,628.83 C404.07,627.68 404.49,624.52 404.91,621.94 C405.33,619.36 405.75,616.94 406.43,613.37 C407.10,609.80 408.11,604.70 408.95,600.52 C409.79,596.34 410.21,592.46 411.48,588.28 C412.74,584.10 414.13,579.07 416.53,575.43 C418.93,571.78 422.97,569.46 425.88,566.40 C428.78,563.34 430.72,559.64 433.96,557.07 C437.20,554.49 441.24,552.45 445.33,550.95 C449.41,549.44 454.25,549.09 458.46,548.04 C462.67,547.00 466.50,545.70 470.59,544.68 C474.67,543.66 478.67,542.74 482.96,541.92 C487.26,541.11 491.93,540.34 496.35,539.78 C500.77,539.22 504.94,538.89 509.49,538.56 C514.03,538.22 519.25,538.12 523.63,537.79 C528.01,537.46 531.46,536.97 535.76,536.57 C540.05,536.16 541.90,535.65 549.40,535.34 C556.89,535.04 569.18,534.96 580.72,534.73 C592.26,534.50 605.98,534.17 618.61,533.97 C631.24,533.76 650.18,533.58 656.50,533.51" fill="none" stroke="#dc8ec6" stroke-width="5.6" stroke-dasharray="5.6 7.8"/>
</g>
<rect x="403.9" y="525.6" width="252.60" height="160.60" fill="none" stroke="#444" stroke-width="1.1"/>
<text x="482.90" y="647.60" font-size="11.45" text-anchor="start" font-weight="normal" fill="#231f20" >Accuracy: 0.78&#160; Precision: 0.78</text>
<text x="482.90" y="658.80" font-size="11.45" text-anchor="start" font-weight="normal" fill="#231f20" >Recall: 0.78&#160; F1 Score: 0.78</text>
<text x="482.90" y="670.00" font-size="11.45" text-anchor="start" font-weight="normal" fill="#231f20" >Average ROC curve (area = 0.93)</text>
<text x="482.90" y="681.20" font-size="11.45" text-anchor="start" font-weight="normal" fill="#231f20" >ROC curves for different classes</text>
<rect x="467.3" y="664.7" width="5" height="5" fill="#dc8fc6"/>
<line x1="466.50" y1="677.40" x2="474.70" y2="677.40" stroke="#c8c8c8" stroke-width="1.0" />
<line x1="67.72" y1="928.62" x2="147.23" y2="855.42" stroke="#000" stroke-width="1.1" />
<line x1="64.06" y1="910.63" x2="146.69" y2="838.49" stroke="#000" stroke-width="1.1" />
<line x1="60.10" y1="891.22" x2="146.11" y2="820.49" stroke="#000" stroke-width="1.1" />
<line x1="55.83" y1="870.24" x2="145.50" y2="801.30" stroke="#000" stroke-width="1.1" />
<line x1="51.18" y1="847.46" x2="144.84" y2="780.81" stroke="#000" stroke-width="1.1" />
<line x1="46.13" y1="822.66" x2="144.14" y2="758.88" stroke="#000" stroke-width="1.1" />
<line x1="40.61" y1="795.56" x2="143.38" y2="735.36" stroke="#000" stroke-width="1.1" />
<line x1="67.72" y1="928.62" x2="40.61" y2="795.56" stroke="#000" stroke-width="1.1" />
<line x1="97.81" y1="900.92" x2="80.69" y2="772.08" stroke="#000" stroke-width="1.1" />
<line x1="124.09" y1="876.73" x2="114.49" y2="752.28" stroke="#000" stroke-width="1.1" />
<line x1="147.23" y1="855.42" x2="143.38" y2="735.36" stroke="#000" stroke-width="1.1" />
<line x1="147.23" y1="855.42" x2="261.88" y2="896.84" stroke="#000" stroke-width="1.1" />
<line x1="146.69" y1="838.49" x2="265.28" y2="879.03" stroke="#000" stroke-width="1.1" />
<line x1="146.11" y1="820.49" x2="268.93" y2="859.92" stroke="#000" stroke-width="1.1" />
<line x1="145.50" y1="801.30" x2="272.85" y2="839.38" stroke="#000" stroke-width="1.1" />
<line x1="144.84" y1="780.81" x2="277.08" y2="817.22" stroke="#000" stroke-width="1.1" />
<line x1="144.14" y1="758.88" x2="281.65" y2="793.26" stroke="#000" stroke-width="1.1" />
<line x1="143.38" y1="735.36" x2="286.61" y2="767.26" stroke="#000" stroke-width="1.1" />
<line x1="150.64" y1="856.65" x2="147.52" y2="736.28" stroke="#000" stroke-width="1.1" />
<line x1="156.32" y1="858.70" x2="154.43" y2="737.82" stroke="#000" stroke-width="1.1" />
<line x1="162.08" y1="860.78" x2="161.46" y2="739.38" stroke="#000" stroke-width="1.1" />
<line x1="167.91" y1="862.89" x2="168.60" y2="740.97" stroke="#000" stroke-width="1.1" />
<line x1="173.82" y1="865.03" x2="175.85" y2="742.59" stroke="#000" stroke-width="1.1" />
<line x1="179.81" y1="867.19" x2="183.23" y2="744.23" stroke="#000" stroke-width="1.1" />
<line x1="185.89" y1="869.39" x2="190.73" y2="745.90" stroke="#000" stroke-width="1.1" />
<line x1="192.04" y1="871.61" x2="198.36" y2="747.60" stroke="#000" stroke-width="1.1" />
<line x1="198.28" y1="873.86" x2="206.12" y2="749.33" stroke="#000" stroke-width="1.1" />
<line x1="204.61" y1="876.15" x2="214.01" y2="751.09" stroke="#000" stroke-width="1.1" />
<line x1="211.03" y1="878.47" x2="222.04" y2="752.88" stroke="#000" stroke-width="1.1" />
<line x1="217.53" y1="880.82" x2="230.20" y2="754.70" stroke="#000" stroke-width="1.1" />
<line x1="224.13" y1="883.20" x2="238.51" y2="756.55" stroke="#000" stroke-width="1.1" />
<line x1="230.83" y1="885.62" x2="246.97" y2="758.43" stroke="#000" stroke-width="1.1" />
<line x1="237.62" y1="888.08" x2="255.59" y2="760.35" stroke="#000" stroke-width="1.1" />
<line x1="244.50" y1="890.56" x2="264.35" y2="762.30" stroke="#000" stroke-width="1.1" />
<line x1="251.49" y1="893.09" x2="273.28" y2="764.29" stroke="#000" stroke-width="1.1" />
<line x1="258.58" y1="895.65" x2="282.37" y2="766.31" stroke="#000" stroke-width="1.1" />
<line x1="71.49" y1="930.47" x2="150.64" y2="856.65" stroke="#000" stroke-width="1.1" />
<line x1="77.79" y1="933.57" x2="156.32" y2="858.70" stroke="#000" stroke-width="1.1" />
<line x1="84.19" y1="936.72" x2="162.08" y2="860.78" stroke="#000" stroke-width="1.1" />
<line x1="90.69" y1="939.92" x2="167.91" y2="862.89" stroke="#000" stroke-width="1.1" />
<line x1="97.31" y1="943.17" x2="173.82" y2="865.03" stroke="#000" stroke-width="1.1" />
<line x1="104.03" y1="946.47" x2="179.81" y2="867.19" stroke="#000" stroke-width="1.1" />
<line x1="110.86" y1="949.84" x2="185.89" y2="869.39" stroke="#000" stroke-width="1.1" />
<line x1="117.81" y1="953.25" x2="192.04" y2="871.61" stroke="#000" stroke-width="1.1" />
<line x1="124.88" y1="956.73" x2="198.28" y2="873.86" stroke="#000" stroke-width="1.1" />
<line x1="132.07" y1="960.27" x2="204.61" y2="876.15" stroke="#000" stroke-width="1.1" />
<line x1="139.38" y1="963.86" x2="211.03" y2="878.47" stroke="#000" stroke-width="1.1" />
<line x1="146.82" y1="967.52" x2="217.53" y2="880.82" stroke="#000" stroke-width="1.1" />
<line x1="154.40" y1="971.25" x2="224.13" y2="883.20" stroke="#000" stroke-width="1.1" />
<line x1="162.10" y1="975.04" x2="230.83" y2="885.62" stroke="#000" stroke-width="1.1" />
<line x1="169.95" y1="978.90" x2="237.62" y2="888.08" stroke="#000" stroke-width="1.1" />
<line x1="177.93" y1="982.83" x2="244.50" y2="890.56" stroke="#000" stroke-width="1.1" />
<line x1="186.07" y1="986.83" x2="251.49" y2="893.09" stroke="#000" stroke-width="1.1" />
<line x1="194.35" y1="990.90" x2="258.58" y2="895.65" stroke="#000" stroke-width="1.1" />
<line x1="198.21" y1="992.80" x2="261.88" y2="896.84" stroke="#000" stroke-width="1.1" />
<line x1="67.72" y1="928.62" x2="198.21" y2="992.80" stroke="#000" stroke-width="1.1" />
<line x1="97.81" y1="900.92" x2="222.75" y2="955.82" stroke="#000" stroke-width="1.1" />
<line x1="124.09" y1="876.73" x2="243.73" y2="924.20" stroke="#000" stroke-width="1.1" />
<line x1="147.23" y1="855.42" x2="261.88" y2="896.84" stroke="#000" stroke-width="1.1" />
<circle cx="90.79" cy="822.00" r="2.80" fill="#6b3c9e" stroke="none" stroke-width="0" fill-opacity="0.87"/>
<circle cx="91.13" cy="823.94" r="2.80" fill="#6b3c9e" stroke="none" stroke-width="0" fill-opacity="0.87"/>
<circle cx="91.16" cy="825.87" r="2.80" fill="#6b3c9e" stroke="none" stroke-width="0" fill-opacity="0.87"/>
<circle cx="91.29" cy="827.81" r="2.80" fill="#6b3c9e" stroke="none" stroke-width="0" fill-opacity="0.87"/>
<circle cx="91.81" cy="829.74" r="2.80" fill="#6b3c9e" stroke="none" stroke-width="0" fill-opacity="0.87"/>
<circle cx="91.51" cy="831.68" r="2.80" fill="#6b3c9e" stroke="none" stroke-width="0" fill-opacity="0.87"/>
<circle cx="92.32" cy="833.61" r="2.80" fill="#673d9f" stroke="none" stroke-width="0" fill-opacity="0.87"/>
<circle cx="92.16" cy="835.55" r="2.80" fill="#633fa0" stroke="none" stroke-width="0" fill-opacity="0.87"/>
<circle cx="92.82" cy="837.48" r="2.80" fill="#5e41a2" stroke="none" stroke-width="0" fill-opacity="0.87"/>
<circle cx="92.95" cy="839.42" r="2.80" fill="#4f49a9" stroke="none" stroke-width="0" fill-opacity="0.87"/>
<circle cx="92.93" cy="841.35" r="2.80" fill="#474dac" stroke="none" stroke-width="0" fill-opacity="0.87"/>
<circle cx="93.17" cy="843.29" r="2.80" fill="#3f51af" stroke="none" stroke-width="0" fill-opacity="0.87"/>
<circle cx="93.67" cy="845.23" r="2.80" fill="#494cab" stroke="none" stroke-width="0" fill-opacity="0.87"/>
<circle cx="93.43" cy="847.16" r="2.80" fill="#3457b4" stroke="none" stroke-width="0" fill-opacity="0.87"/>
<circle cx="94.04" cy="849.10" r="2.80" fill="#3457b4" stroke="none" stroke-width="0" fill-opacity="0.87"/>
<circle cx="94.25" cy="851.03" r="2.80" fill="#3457b4" stroke="none" stroke-width="0" fill-opacity="0.87"/>
<circle cx="94.54" cy="852.97" r="2.80" fill="#3457b4" stroke="none" stroke-width="0" fill-opacity="0.87"/>
<circle cx="94.81" cy="854.90" r="2.80" fill="#3457b4" stroke="none" stroke-width="0" fill-opacity="0.87"/>
<circle cx="94.73" cy="856.84" r="2.80" fill="#3457b4" stroke="none" stroke-width="0" fill-opacity="0.87"/>
<circle cx="94.91" cy="858.77" r="2.80" fill="#3457b4" stroke="none" stroke-width="0" fill-opacity="0.87"/>
<circle cx="95.79" cy="862.65" r="2.80" fill="#3457b4" stroke="none" stroke-width="0" fill-opacity="0.87"/>
<circle cx="95.70" cy="864.58" r="2.80" fill="#3457b4" stroke="none" stroke-width="0" fill-opacity="0.87"/>
<circle cx="95.97" cy="866.52" r="2.80" fill="#3457b4" stroke="none" stroke-width="0" fill-opacity="0.87"/>
<circle cx="95.90" cy="868.45" r="2.80" fill="#3457b4" stroke="none" stroke-width="0" fill-opacity="0.87"/>
<circle cx="96.64" cy="870.39" r="2.80" fill="#3457b4" stroke="none" stroke-width="0" fill-opacity="0.87"/>
<circle cx="96.44" cy="872.32" r="2.80" fill="#3457b4" stroke="none" stroke-width="0" fill-opacity="0.87"/>
<circle cx="97.02" cy="874.26" r="2.80" fill="#474dac" stroke="none" stroke-width="0" fill-opacity="0.87"/>
<circle cx="97.15" cy="876.19" r="2.80" fill="#3457b4" stroke="none" stroke-width="0" fill-opacity="0.87"/>
<circle cx="97.57" cy="878.13" r="2.80" fill="#3457b4" stroke="none" stroke-width="0" fill-opacity="0.87"/>
<circle cx="97.80" cy="880.06" r="2.80" fill="#3457b4" stroke="none" stroke-width="0" fill-opacity="0.87"/>
<circle cx="97.69" cy="882.00" r="2.80" fill="#3457b4" stroke="none" stroke-width="0" fill-opacity="0.87"/>
<circle cx="93.76" cy="832.00" r="2.80" fill="#3457b4" stroke="none" stroke-width="0" fill-opacity="0.87"/>
<circle cx="93.93" cy="833.92" r="2.80" fill="#474dac" stroke="none" stroke-width="0" fill-opacity="0.87"/>
<circle cx="94.18" cy="835.84" r="2.80" fill="#3457b4" stroke="none" stroke-width="0" fill-opacity="0.87"/>
<circle cx="94.32" cy="839.68" r="2.80" fill="#3457b4" stroke="none" stroke-width="0" fill-opacity="0.87"/>
<circle cx="94.49" cy="841.60" r="2.80" fill="#474dac" stroke="none" stroke-width="0" fill-opacity="0.87"/>
<circle cx="94.99" cy="843.52" r="2.80" fill="#3457b4" stroke="none" stroke-width="0" fill-opacity="0.87"/>
<circle cx="95.36" cy="845.44" r="2.80" fill="#3457b4" stroke="none" stroke-width="0" fill-opacity="0.87"/>
<circle cx="94.93" cy="847.36" r="2.80" fill="#3457b4" stroke="none" stroke-width="0" fill-opacity="0.87"/>
<circle cx="95.69" cy="849.28" r="2.80" fill="#3457b4" stroke="none" stroke-width="0" fill-opacity="0.87"/>
<circle cx="95.65" cy="851.20" r="2.80" fill="#3457b4" stroke="none" stroke-width="0" fill-opacity="0.87"/>
<circle cx="95.79" cy="853.12" r="2.80" fill="#3457b4" stroke="none" stroke-width="0" fill-opacity="0.87"/>
<circle cx="96.33" cy="855.04" r="2.80" fill="#3457b4" stroke="none" stroke-width="0" fill-opacity="0.87"/>
<circle cx="96.25" cy="858.88" r="2.80" fill="#3457b4" stroke="none" stroke-width="0" fill-opacity="0.87"/>
<circle cx="97.05" cy="860.80" r="2.80" fill="#3457b4" stroke="none" stroke-width="0" fill-opacity="0.87"/>
<circle cx="96.95" cy="862.72" r="2.80" fill="#3457b4" stroke="none" stroke-width="0" fill-opacity="0.87"/>
<circle cx="96.98" cy="864.64" r="2.80" fill="#3457b4" stroke="none" stroke-width="0" fill-opacity="0.87"/>
<circle cx="97.13" cy="866.56" r="2.80" fill="#474dac" stroke="none" stroke-width="0" fill-opacity="0.87"/>
<circle cx="97.94" cy="868.48" r="2.80" fill="#474dac" stroke="none" stroke-width="0" fill-opacity="0.87"/>
<circle cx="97.93" cy="870.40" r="2.80" fill="#474dac" stroke="none" stroke-width="0" fill-opacity="0.87"/>
<circle cx="97.92" cy="872.32" r="2.80" fill="#3457b4" stroke="none" stroke-width="0" fill-opacity="0.87"/>
<circle cx="98.25" cy="874.24" r="2.80" fill="#3457b4" stroke="none" stroke-width="0" fill-opacity="0.87"/>
<circle cx="98.24" cy="876.16" r="2.80" fill="#3457b4" stroke="none" stroke-width="0" fill-opacity="0.87"/>
<circle cx="98.97" cy="878.08" r="2.80" fill="#3457b4" stroke="none" stroke-width="0" fill-opacity="0.87"/>
<circle cx="98.97" cy="880.00" r="2.80" fill="#474dac" stroke="none" stroke-width="0" fill-opacity="0.87"/>
<circle cx="100.97" cy="851.40" r="2.80" fill="#3457b4" stroke="none" stroke-width="0" fill-opacity="0.87"/>
<circle cx="101.56" cy="853.31" r="2.80" fill="#3457b4" stroke="none" stroke-width="0" fill-opacity="0.87"/>
<circle cx="101.56" cy="855.23" r="2.80" fill="#474dac" stroke="none" stroke-width="0" fill-opacity="0.87"/>
<circle cx="101.71" cy="857.14" r="2.80" fill="#3457b4" stroke="none" stroke-width="0" fill-opacity="0.87"/>
<circle cx="102.39" cy="859.05" r="2.80" fill="#3457b4" stroke="none" stroke-width="0" fill-opacity="0.87"/>
<circle cx="102.30" cy="860.96" r="2.80" fill="#3457b4" stroke="none" stroke-width="0" fill-opacity="0.87"/>
<circle cx="102.38" cy="862.88" r="2.80" fill="#3457b4" stroke="none" stroke-width="0" fill-opacity="0.87"/>
<circle cx="102.77" cy="864.79" r="2.80" fill="#3457b4" stroke="none" stroke-width="0" fill-opacity="0.87"/>
<circle cx="103.28" cy="866.70" r="2.80" fill="#3457b4" stroke="none" stroke-width="0" fill-opacity="0.87"/>
<circle cx="103.51" cy="868.61" r="2.80" fill="#3457b4" stroke="none" stroke-width="0" fill-opacity="0.87"/>
<circle cx="103.09" cy="870.52" r="2.80" fill="#474dac" stroke="none" stroke-width="0" fill-opacity="0.87"/>
<circle cx="103.57" cy="872.44" r="2.80" fill="#3457b4" stroke="none" stroke-width="0" fill-opacity="0.87"/>
<circle cx="103.93" cy="874.35" r="2.80" fill="#474dac" stroke="none" stroke-width="0" fill-opacity="0.87"/>
<circle cx="103.97" cy="876.26" r="2.80" fill="#3457b4" stroke="none" stroke-width="0" fill-opacity="0.87"/>
<circle cx="103.95" cy="878.17" r="2.80" fill="#3457b4" stroke="none" stroke-width="0" fill-opacity="0.87"/>
<circle cx="104.62" cy="880.09" r="2.80" fill="#3457b4" stroke="none" stroke-width="0" fill-opacity="0.87"/>
<circle cx="104.67" cy="882.00" r="2.80" fill="#3457b4" stroke="none" stroke-width="0" fill-opacity="0.87"/>
<circle cx="121.29" cy="808.80" r="2.80" fill="#6b3c9e" stroke="none" stroke-width="0" fill-opacity="0.87"/>
<circle cx="121.16" cy="810.77" r="2.80" fill="#6b3c9e" stroke="none" stroke-width="0" fill-opacity="0.87"/>
<circle cx="121.76" cy="812.73" r="2.80" fill="#6b3c9e" stroke="none" stroke-width="0" fill-opacity="0.87"/>
<circle cx="121.85" cy="814.70" r="2.80" fill="#6b3c9e" stroke="none" stroke-width="0" fill-opacity="0.87"/>
<circle cx="122.16" cy="816.66" r="2.80" fill="#6b3c9e" stroke="none" stroke-width="0" fill-opacity="0.87"/>
<circle cx="121.88" cy="818.63" r="2.80" fill="#6140a1" stroke="none" stroke-width="0" fill-opacity="0.87"/>
<circle cx="122.29" cy="820.59" r="2.80" fill="#5645a6" stroke="none" stroke-width="0" fill-opacity="0.87"/>
<circle cx="122.71" cy="822.56" r="2.80" fill="#4b4baa" stroke="none" stroke-width="0" fill-opacity="0.87"/>
<circle cx="122.59" cy="826.49" r="2.80" fill="#3655b3" stroke="none" stroke-width="0" fill-opacity="0.87"/>
<circle cx="122.53" cy="828.45" r="2.80" fill="#3457b4" stroke="none" stroke-width="0" fill-opacity="0.87"/>
<circle cx="123.14" cy="830.42" r="2.80" fill="#3457b4" stroke="none" stroke-width="0" fill-opacity="0.87"/>
<circle cx="123.45" cy="832.38" r="2.80" fill="#474dac" stroke="none" stroke-width="0" fill-opacity="0.87"/>
<circle cx="123.16" cy="834.35" r="2.80" fill="#3457b4" stroke="none" stroke-width="0" fill-opacity="0.87"/>
<circle cx="123.26" cy="836.31" r="2.80" fill="#3457b4" stroke="none" stroke-width="0" fill-opacity="0.87"/>
<circle cx="123.41" cy="838.28" r="2.80" fill="#3457b4" stroke="none" stroke-width="0" fill-opacity="0.87"/>
<circle cx="123.86" cy="840.24" r="2.80" fill="#3457b4" stroke="none" stroke-width="0" fill-opacity="0.87"/>
<circle cx="123.73" cy="842.21" r="2.80" fill="#3457b4" stroke="none" stroke-width="0" fill-opacity="0.87"/>
<circle cx="124.02" cy="844.17" r="2.80" fill="#3457b4" stroke="none" stroke-width="0" fill-opacity="0.87"/>
<circle cx="124.04" cy="846.14" r="2.80" fill="#3457b4" stroke="none" stroke-width="0" fill-opacity="0.87"/>
<circle cx="124.18" cy="848.10" r="2.80" fill="#3457b4" stroke="none" stroke-width="0" fill-opacity="0.87"/>
<circle cx="124.17" cy="850.07" r="2.80" fill="#3457b4" stroke="none" stroke-width="0" fill-opacity="0.87"/>
<circle cx="124.79" cy="852.03" r="2.80" fill="#3457b4" stroke="none" stroke-width="0" fill-opacity="0.87"/>
<circle cx="147.68" cy="794.80" r="2.80" fill="#6b3c9e" stroke="none" stroke-width="0" fill-opacity="0.87"/>
<circle cx="147.29" cy="796.73" r="2.80" fill="#6b3c9e" stroke="none" stroke-width="0" fill-opacity="0.87"/>
<circle cx="147.54" cy="798.67" r="2.80" fill="#6b3c9e" stroke="none" stroke-width="0" fill-opacity="0.87"/>
<circle cx="147.62" cy="800.60" r="2.80" fill="#6b3c9e" stroke="none" stroke-width="0" fill-opacity="0.87"/>
<circle cx="147.97" cy="802.54" r="2.80" fill="#6b3c9e" stroke="none" stroke-width="0" fill-opacity="0.87"/>
<circle cx="147.57" cy="804.47" r="2.80" fill="#6b3c9e" stroke="none" stroke-width="0" fill-opacity="0.87"/>
<circle cx="147.63" cy="806.41" r="2.80" fill="#6b3c9e" stroke="none" stroke-width="0" fill-opacity="0.87"/>
<circle cx="148.16" cy="808.34" r="2.80" fill="#6b3c9e" stroke="none" stroke-width="0" fill-opacity="0.87"/>
<circle cx="147.95" cy="810.28" r="2.80" fill="#6b3c9e" stroke="none" stroke-width="0" fill-opacity="0.87"/>
<circle cx="148.11" cy="812.21" r="2.80" fill="#673d9f" stroke="none" stroke-width="0" fill-opacity="0.87"/>
<circle cx="147.66" cy="814.15" r="2.80" fill="#6140a1" stroke="none" stroke-width="0" fill-opacity="0.87"/>
<circle cx="148.09" cy="816.08" r="2.80" fill="#5c43a3" stroke="none" stroke-width="0" fill-opacity="0.87"/>
<circle cx="147.93" cy="818.02" r="2.80" fill="#5645a6" stroke="none" stroke-width="0" fill-opacity="0.87"/>
<circle cx="147.94" cy="819.95" r="2.80" fill="#5148a8" stroke="none" stroke-width="0" fill-opacity="0.87"/>
<circle cx="147.82" cy="821.89" r="2.80" fill="#4b4baa" stroke="none" stroke-width="0" fill-opacity="0.87"/>
<circle cx="148.28" cy="823.82" r="2.80" fill="#464dac" stroke="none" stroke-width="0" fill-opacity="0.87"/>
<circle cx="147.88" cy="825.76" r="2.80" fill="#4150ae" stroke="none" stroke-width="0" fill-opacity="0.87"/>
<circle cx="148.37" cy="829.63" r="2.80" fill="#3655b3" stroke="none" stroke-width="0" fill-opacity="0.87"/>
<circle cx="148.60" cy="831.56" r="2.80" fill="#474dac" stroke="none" stroke-width="0" fill-opacity="0.87"/>
<circle cx="148.47" cy="833.50" r="2.80" fill="#3457b4" stroke="none" stroke-width="0" fill-opacity="0.87"/>
<circle cx="148.08" cy="835.43" r="2.80" fill="#3457b4" stroke="none" stroke-width="0" fill-opacity="0.87"/>
<circle cx="148.09" cy="837.37" r="2.80" fill="#3457b4" stroke="none" stroke-width="0" fill-opacity="0.87"/>
<circle cx="148.54" cy="839.30" r="2.80" fill="#3457b4" stroke="none" stroke-width="0" fill-opacity="0.87"/>
<circle cx="148.48" cy="841.23" r="2.80" fill="#3457b4" stroke="none" stroke-width="0" fill-opacity="0.87"/>
<circle cx="148.74" cy="843.17" r="2.80" fill="#3457b4" stroke="none" stroke-width="0" fill-opacity="0.87"/>
<circle cx="148.36" cy="845.10" r="2.80" fill="#3457b4" stroke="none" stroke-width="0" fill-opacity="0.87"/>
<circle cx="148.62" cy="847.04" r="2.80" fill="#3457b4" stroke="none" stroke-width="0" fill-opacity="0.87"/>
<circle cx="148.56" cy="848.97" r="2.80" fill="#3457b4" stroke="none" stroke-width="0" fill-opacity="0.87"/>
<circle cx="148.88" cy="850.91" r="2.80" fill="#3457b4" stroke="none" stroke-width="0" fill-opacity="0.87"/>
<circle cx="148.82" cy="854.78" r="2.80" fill="#3457b4" stroke="none" stroke-width="0" fill-opacity="0.87"/>
<circle cx="148.55" cy="856.71" r="2.80" fill="#3457b4" stroke="none" stroke-width="0" fill-opacity="0.87"/>
<circle cx="149.09" cy="858.65" r="2.80" fill="#3457b4" stroke="none" stroke-width="0" fill-opacity="0.87"/>
<circle cx="148.89" cy="860.58" r="2.80" fill="#3457b4" stroke="none" stroke-width="0" fill-opacity="0.87"/>
<circle cx="149.16" cy="862.52" r="2.80" fill="#3457b4" stroke="none" stroke-width="0" fill-opacity="0.87"/>
<circle cx="148.86" cy="864.45" r="2.80" fill="#474dac" stroke="none" stroke-width="0" fill-opacity="0.87"/>
<circle cx="149.19" cy="866.39" r="2.80" fill="#3457b4" stroke="none" stroke-width="0" fill-opacity="0.87"/>
<circle cx="148.67" cy="868.32" r="2.80" fill="#474dac" stroke="none" stroke-width="0" fill-opacity="0.87"/>
<circle cx="148.71" cy="870.26" r="2.80" fill="#3457b4" stroke="none" stroke-width="0" fill-opacity="0.87"/>
<circle cx="148.80" cy="872.19" r="2.80" fill="#3457b4" stroke="none" stroke-width="0" fill-opacity="0.87"/>
<circle cx="149.39" cy="874.13" r="2.80" fill="#3457b4" stroke="none" stroke-width="0" fill-opacity="0.87"/>
<circle cx="148.97" cy="876.06" r="2.80" fill="#474dac" stroke="none" stroke-width="0" fill-opacity="0.87"/>
<circle cx="149.38" cy="878.00" r="2.80" fill="#3457b4" stroke="none" stroke-width="0" fill-opacity="0.87"/>
<circle cx="149.05" cy="879.93" r="2.80" fill="#3457b4" stroke="none" stroke-width="0" fill-opacity="0.87"/>
<circle cx="149.26" cy="881.87" r="2.80" fill="#3457b4" stroke="none" stroke-width="0" fill-opacity="0.87"/>
<circle cx="149.27" cy="883.80" r="2.80" fill="#3457b4" stroke="none" stroke-width="0" fill-opacity="0.87"/>
<circle cx="159.26" cy="755.62" r="2.80" fill="#6b3c9e" stroke="none" stroke-width="0" fill-opacity="0.87"/>
<circle cx="159.44" cy="757.53" r="2.80" fill="#5548aa" stroke="none" stroke-width="0" fill-opacity="0.87"/>
<circle cx="158.79" cy="759.45" r="2.80" fill="#98307a" stroke="none" stroke-width="0" fill-opacity="0.87"/>
<circle cx="159.24" cy="761.36" r="2.80" fill="#6b3c9e" stroke="none" stroke-width="0" fill-opacity="0.87"/>
<circle cx="159.04" cy="763.28" r="2.80" fill="#98307a" stroke="none" stroke-width="0" fill-opacity="0.87"/>
<circle cx="159.26" cy="765.20" r="2.80" fill="#5548aa" stroke="none" stroke-width="0" fill-opacity="0.87"/>
<circle cx="159.37" cy="769.03" r="2.80" fill="#5548aa" stroke="none" stroke-width="0" fill-opacity="0.87"/>
<circle cx="159.50" cy="770.95" r="2.80" fill="#98307a" stroke="none" stroke-width="0" fill-opacity="0.87"/>
<circle cx="159.72" cy="772.86" r="2.80" fill="#6b3c9e" stroke="none" stroke-width="0" fill-opacity="0.87"/>
<circle cx="159.33" cy="774.78" r="2.80" fill="#98307a" stroke="none" stroke-width="0" fill-opacity="0.87"/>
<circle cx="159.85" cy="776.69" r="2.80" fill="#5548aa" stroke="none" stroke-width="0" fill-opacity="0.87"/>
<circle cx="159.87" cy="778.61" r="2.80" fill="#3457b4" stroke="none" stroke-width="0" fill-opacity="0.87"/>
<circle cx="159.74" cy="780.53" r="2.80" fill="#5548aa" stroke="none" stroke-width="0" fill-opacity="0.87"/>
<circle cx="159.52" cy="782.44" r="2.80" fill="#3457b4" stroke="none" stroke-width="0" fill-opacity="0.87"/>
<circle cx="159.54" cy="784.36" r="2.80" fill="#6b3c9e" stroke="none" stroke-width="0" fill-opacity="0.87"/>
<circle cx="159.93" cy="786.28" r="2.80" fill="#5548aa" stroke="none" stroke-width="0" fill-opacity="0.87"/>
<circle cx="159.71" cy="788.19" r="2.80" fill="#5548aa" stroke="none" stroke-width="0" fill-opacity="0.87"/>
<circle cx="159.66" cy="790.11" r="2.80" fill="#5548aa" stroke="none" stroke-width="0" fill-opacity="0.87"/>
<circle cx="160.06" cy="792.02" r="2.80" fill="#6b3c9e" stroke="none" stroke-width="0" fill-opacity="0.87"/>
<circle cx="160.23" cy="793.94" r="2.80" fill="#6b3c9e" stroke="none" stroke-width="0" fill-opacity="0.87"/>
<circle cx="160.17" cy="795.86" r="2.80" fill="#6b3c9e" stroke="none" stroke-width="0" fill-opacity="0.87"/>
<circle cx="160.06" cy="797.77" r="2.80" fill="#5548aa" stroke="none" stroke-width="0" fill-opacity="0.87"/>
<circle cx="160.20" cy="799.69" r="2.80" fill="#5548aa" stroke="none" stroke-width="0" fill-opacity="0.87"/>
<circle cx="160.04" cy="801.61" r="2.80" fill="#3457b4" stroke="none" stroke-width="0" fill-opacity="0.87"/>
<circle cx="160.16" cy="803.52" r="2.80" fill="#3457b4" stroke="none" stroke-width="0" fill-opacity="0.87"/>
<circle cx="160.44" cy="805.44" r="2.80" fill="#3457b4" stroke="none" stroke-width="0" fill-opacity="0.87"/>
<circle cx="160.14" cy="809.27" r="2.80" fill="#3457b4" stroke="none" stroke-width="0" fill-opacity="0.87"/>
<circle cx="160.09" cy="811.19" r="2.80" fill="#3457b4" stroke="none" stroke-width="0" fill-opacity="0.87"/>
<circle cx="160.63" cy="813.10" r="2.80" fill="#3457b4" stroke="none" stroke-width="0" fill-opacity="0.87"/>
<circle cx="160.27" cy="815.02" r="2.80" fill="#3457b4" stroke="none" stroke-width="0" fill-opacity="0.87"/>
<circle cx="160.65" cy="818.85" r="2.80" fill="#3457b4" stroke="none" stroke-width="0" fill-opacity="0.87"/>
<circle cx="160.34" cy="820.77" r="2.80" fill="#3457b4" stroke="none" stroke-width="0" fill-opacity="0.87"/>
<circle cx="160.59" cy="822.68" r="2.80" fill="#3457b4" stroke="none" stroke-width="0" fill-opacity="0.87"/>
<circle cx="160.84" cy="824.60" r="2.80" fill="#3457b4" stroke="none" stroke-width="0" fill-opacity="0.87"/>
<circle cx="165.82" cy="766.80" r="2.80" fill="#6b3c9e" stroke="none" stroke-width="0" fill-opacity="0.87"/>
<circle cx="165.82" cy="768.73" r="2.80" fill="#6b3c9e" stroke="none" stroke-width="0" fill-opacity="0.87"/>
<circle cx="166.07" cy="770.65" r="2.80" fill="#6b3c9e" stroke="none" stroke-width="0" fill-opacity="0.87"/>
<circle cx="165.95" cy="772.58" r="2.80" fill="#6b3c9e" stroke="none" stroke-width="0" fill-opacity="0.87"/>
<circle cx="166.02" cy="774.51" r="2.80" fill="#6b3c9e" stroke="none" stroke-width="0" fill-opacity="0.87"/>
<circle cx="166.15" cy="776.43" r="2.80" fill="#6b3c9e" stroke="none" stroke-width="0" fill-opacity="0.87"/>
<circle cx="166.24" cy="778.36" r="2.80" fill="#6b3c9e" stroke="none" stroke-width="0" fill-opacity="0.87"/>
<circle cx="165.92" cy="780.29" r="2.80" fill="#6b3c9e" stroke="none" stroke-width="0" fill-opacity="0.87"/>
<circle cx="166.39" cy="782.21" r="2.80" fill="#6b3c9e" stroke="none" stroke-width="0" fill-opacity="0.87"/>
<circle cx="166.16" cy="784.14" r="2.80" fill="#6b3c9e" stroke="none" stroke-width="0" fill-opacity="0.87"/>
<circle cx="166.22" cy="786.07" r="2.80" fill="#6b3c9e" stroke="none" stroke-width="0" fill-opacity="0.87"/>
<circle cx="166.18" cy="787.99" r="2.80" fill="#6b3c9e" stroke="none" stroke-width="0" fill-opacity="0.87"/>
<circle cx="166.57" cy="789.92" r="2.80" fill="#6b3c9e" stroke="none" stroke-width="0" fill-opacity="0.87"/>
<circle cx="166.26" cy="791.85" r="2.80" fill="#6b3c9e" stroke="none" stroke-width="0" fill-opacity="0.87"/>
<circle cx="166.38" cy="793.77" r="2.80" fill="#6b3c9e" stroke="none" stroke-width="0" fill-opacity="0.87"/>
<circle cx="166.71" cy="795.70" r="2.80" fill="#6b3c9e" stroke="none" stroke-width="0" fill-opacity="0.87"/>
<circle cx="166.57" cy="797.63" r="2.80" fill="#633fa0" stroke="none" stroke-width="0" fill-opacity="0.87"/>
<circle cx="166.41" cy="799.55" r="2.80" fill="#5c43a3" stroke="none" stroke-width="0" fill-opacity="0.87"/>
<circle cx="166.40" cy="801.48" r="2.80" fill="#5546a6" stroke="none" stroke-width="0" fill-opacity="0.87"/>
<circle cx="166.86" cy="803.41" r="2.80" fill="#4d4aa9" stroke="none" stroke-width="0" fill-opacity="0.87"/>
<circle cx="166.27" cy="805.33" r="2.80" fill="#464eac" stroke="none" stroke-width="0" fill-opacity="0.87"/>
<circle cx="166.52" cy="807.26" r="2.80" fill="#3f51af" stroke="none" stroke-width="0" fill-opacity="0.87"/>
<circle cx="166.77" cy="809.19" r="2.80" fill="#3755b2" stroke="none" stroke-width="0" fill-opacity="0.87"/>
<circle cx="166.71" cy="811.11" r="2.80" fill="#3457b4" stroke="none" stroke-width="0" fill-opacity="0.87"/>
<circle cx="166.79" cy="813.04" r="2.80" fill="#3457b4" stroke="none" stroke-width="0" fill-opacity="0.87"/>
<circle cx="166.74" cy="814.97" r="2.80" fill="#3457b4" stroke="none" stroke-width="0" fill-opacity="0.87"/>
<circle cx="167.02" cy="816.89" r="2.80" fill="#3457b4" stroke="none" stroke-width="0" fill-opacity="0.87"/>
<circle cx="167.00" cy="818.82" r="2.80" fill="#3457b4" stroke="none" stroke-width="0" fill-opacity="0.87"/>
<circle cx="167.11" cy="820.75" r="2.80" fill="#3457b4" stroke="none" stroke-width="0" fill-opacity="0.87"/>
<circle cx="166.75" cy="822.67" r="2.80" fill="#3457b4" stroke="none" stroke-width="0" fill-opacity="0.87"/>
<circle cx="166.67" cy="824.60" r="2.80" fill="#3457b4" stroke="none" stroke-width="0" fill-opacity="0.87"/>
<circle cx="172.54" cy="804.30" r="2.80" fill="#6b3c9e" stroke="none" stroke-width="0" fill-opacity="0.87"/>
<circle cx="172.90" cy="806.24" r="2.80" fill="#6b3c9e" stroke="none" stroke-width="0" fill-opacity="0.87"/>
<circle cx="173.20" cy="808.18" r="2.80" fill="#663ea0" stroke="none" stroke-width="0" fill-opacity="0.87"/>
<circle cx="173.39" cy="810.12" r="2.80" fill="#4d4aaa" stroke="none" stroke-width="0" fill-opacity="0.87"/>
<circle cx="173.19" cy="812.06" r="2.80" fill="#3457b4" stroke="none" stroke-width="0" fill-opacity="0.87"/>
<circle cx="173.25" cy="814.00" r="2.80" fill="#3457b4" stroke="none" stroke-width="0" fill-opacity="0.87"/>
<circle cx="173.16" cy="815.94" r="2.80" fill="#3457b4" stroke="none" stroke-width="0" fill-opacity="0.87"/>
<circle cx="173.19" cy="817.88" r="2.80" fill="#474dac" stroke="none" stroke-width="0" fill-opacity="0.87"/>
<circle cx="173.84" cy="819.82" r="2.80" fill="#3457b4" stroke="none" stroke-width="0" fill-opacity="0.87"/>
<circle cx="173.91" cy="823.70" r="2.80" fill="#474dac" stroke="none" stroke-width="0" fill-opacity="0.87"/>
<circle cx="179.75" cy="801.80" r="2.80" fill="#3457b4" stroke="none" stroke-width="0" fill-opacity="0.87"/>
<circle cx="179.76" cy="803.74" r="2.80" fill="#3457b4" stroke="none" stroke-width="0" fill-opacity="0.87"/>
<circle cx="179.74" cy="805.68" r="2.80" fill="#3457b4" stroke="none" stroke-width="0" fill-opacity="0.87"/>
<circle cx="179.43" cy="807.62" r="2.80" fill="#3457b4" stroke="none" stroke-width="0" fill-opacity="0.87"/>
<circle cx="179.74" cy="809.56" r="2.80" fill="#3457b4" stroke="none" stroke-width="0" fill-opacity="0.87"/>
<circle cx="179.49" cy="811.50" r="2.80" fill="#474dac" stroke="none" stroke-width="0" fill-opacity="0.87"/>
<circle cx="179.69" cy="813.44" r="2.80" fill="#3457b4" stroke="none" stroke-width="0" fill-opacity="0.87"/>
<circle cx="179.80" cy="815.38" r="2.80" fill="#3457b4" stroke="none" stroke-width="0" fill-opacity="0.87"/>
<circle cx="179.49" cy="819.26" r="2.80" fill="#3457b4" stroke="none" stroke-width="0" fill-opacity="0.87"/>
<circle cx="179.81" cy="821.20" r="2.80" fill="#474dac" stroke="none" stroke-width="0" fill-opacity="0.87"/>
<circle cx="179.64" cy="823.14" r="2.80" fill="#3457b4" stroke="none" stroke-width="0" fill-opacity="0.87"/>
<circle cx="179.69" cy="825.08" r="2.80" fill="#3457b4" stroke="none" stroke-width="0" fill-opacity="0.87"/>
<circle cx="179.32" cy="827.02" r="2.80" fill="#3457b4" stroke="none" stroke-width="0" fill-opacity="0.87"/>
<circle cx="179.43" cy="828.96" r="2.80" fill="#3457b4" stroke="none" stroke-width="0" fill-opacity="0.87"/>
<circle cx="179.80" cy="830.90" r="2.80" fill="#3457b4" stroke="none" stroke-width="0" fill-opacity="0.87"/>
<circle cx="179.76" cy="832.84" r="2.80" fill="#3457b4" stroke="none" stroke-width="0" fill-opacity="0.87"/>
<circle cx="179.46" cy="834.78" r="2.80" fill="#3457b4" stroke="none" stroke-width="0" fill-opacity="0.87"/>
<circle cx="179.95" cy="836.72" r="2.80" fill="#3457b4" stroke="none" stroke-width="0" fill-opacity="0.87"/>
<circle cx="179.89" cy="838.66" r="2.80" fill="#3457b4" stroke="none" stroke-width="0" fill-opacity="0.87"/>
<circle cx="179.80" cy="840.60" r="2.80" fill="#3457b4" stroke="none" stroke-width="0" fill-opacity="0.87"/>
<circle cx="179.94" cy="842.54" r="2.80" fill="#3457b4" stroke="none" stroke-width="0" fill-opacity="0.87"/>
<circle cx="179.31" cy="844.48" r="2.80" fill="#3457b4" stroke="none" stroke-width="0" fill-opacity="0.87"/>
<circle cx="179.89" cy="846.42" r="2.80" fill="#3457b4" stroke="none" stroke-width="0" fill-opacity="0.87"/>
<circle cx="179.33" cy="848.36" r="2.80" fill="#3457b4" stroke="none" stroke-width="0" fill-opacity="0.87"/>
<circle cx="179.27" cy="850.30" r="2.80" fill="#3457b4" stroke="none" stroke-width="0" fill-opacity="0.87"/>
<circle cx="179.69" cy="852.24" r="2.80" fill="#474dac" stroke="none" stroke-width="0" fill-opacity="0.87"/>
<circle cx="179.92" cy="854.18" r="2.80" fill="#474dac" stroke="none" stroke-width="0" fill-opacity="0.87"/>
<circle cx="179.65" cy="856.12" r="2.80" fill="#3457b4" stroke="none" stroke-width="0" fill-opacity="0.87"/>
<circle cx="179.53" cy="858.06" r="2.80" fill="#3457b4" stroke="none" stroke-width="0" fill-opacity="0.87"/>
<circle cx="179.38" cy="860.00" r="2.80" fill="#3457b4" stroke="none" stroke-width="0" fill-opacity="0.87"/>
<circle cx="177.41" cy="806.00" r="2.80" fill="#3457b4" stroke="none" stroke-width="0" fill-opacity="0.87"/>
<circle cx="177.37" cy="807.90" r="2.80" fill="#3457b4" stroke="none" stroke-width="0" fill-opacity="0.87"/>
<circle cx="177.45" cy="809.81" r="2.80" fill="#3457b4" stroke="none" stroke-width="0" fill-opacity="0.87"/>
<circle cx="177.36" cy="811.71" r="2.80" fill="#3457b4" stroke="none" stroke-width="0" fill-opacity="0.87"/>
<circle cx="177.35" cy="813.61" r="2.80" fill="#474dac" stroke="none" stroke-width="0" fill-opacity="0.87"/>
<circle cx="177.54" cy="815.52" r="2.80" fill="#3457b4" stroke="none" stroke-width="0" fill-opacity="0.87"/>
<circle cx="177.77" cy="817.42" r="2.80" fill="#3457b4" stroke="none" stroke-width="0" fill-opacity="0.87"/>
<circle cx="177.81" cy="819.33" r="2.80" fill="#3457b4" stroke="none" stroke-width="0" fill-opacity="0.87"/>
<circle cx="177.86" cy="821.23" r="2.80" fill="#3457b4" stroke="none" stroke-width="0" fill-opacity="0.87"/>
<circle cx="177.79" cy="823.13" r="2.80" fill="#3457b4" stroke="none" stroke-width="0" fill-opacity="0.87"/>
<circle cx="177.83" cy="825.04" r="2.80" fill="#3457b4" stroke="none" stroke-width="0" fill-opacity="0.87"/>
<circle cx="178.00" cy="826.94" r="2.80" fill="#3457b4" stroke="none" stroke-width="0" fill-opacity="0.87"/>
<circle cx="177.56" cy="828.84" r="2.80" fill="#3457b4" stroke="none" stroke-width="0" fill-opacity="0.87"/>
<circle cx="177.76" cy="830.75" r="2.80" fill="#3457b4" stroke="none" stroke-width="0" fill-opacity="0.87"/>
<circle cx="178.01" cy="832.65" r="2.80" fill="#3457b4" stroke="none" stroke-width="0" fill-opacity="0.87"/>
<circle cx="177.49" cy="834.55" r="2.80" fill="#3457b4" stroke="none" stroke-width="0" fill-opacity="0.87"/>
<circle cx="177.56" cy="836.46" r="2.80" fill="#3457b4" stroke="none" stroke-width="0" fill-opacity="0.87"/>
<circle cx="177.79" cy="838.36" r="2.80" fill="#3457b4" stroke="none" stroke-width="0" fill-opacity="0.87"/>
<circle cx="177.99" cy="840.26" r="2.80" fill="#3457b4" stroke="none" stroke-width="0" fill-opacity="0.87"/>
<circle cx="177.75" cy="842.17" r="2.80" fill="#3457b4" stroke="none" stroke-width="0" fill-opacity="0.87"/>
<circle cx="177.65" cy="844.07" r="2.80" fill="#3457b4" stroke="none" stroke-width="0" fill-opacity="0.87"/>
<circle cx="177.49" cy="845.97" r="2.80" fill="#3457b4" stroke="none" stroke-width="0" fill-opacity="0.87"/>
<circle cx="177.62" cy="847.88" r="2.80" fill="#3457b4" stroke="none" stroke-width="0" fill-opacity="0.87"/>
<circle cx="178.15" cy="849.78" r="2.80" fill="#3457b4" stroke="none" stroke-width="0" fill-opacity="0.87"/>
<circle cx="177.85" cy="851.69" r="2.80" fill="#3457b4" stroke="none" stroke-width="0" fill-opacity="0.87"/>
<circle cx="177.56" cy="853.59" r="2.80" fill="#3457b4" stroke="none" stroke-width="0" fill-opacity="0.87"/>
<circle cx="177.77" cy="855.49" r="2.80" fill="#3457b4" stroke="none" stroke-width="0" fill-opacity="0.87"/>
<circle cx="178.01" cy="857.40" r="2.80" fill="#474dac" stroke="none" stroke-width="0" fill-opacity="0.87"/>
<circle cx="177.68" cy="859.30" r="2.80" fill="#3457b4" stroke="none" stroke-width="0" fill-opacity="0.87"/>
<circle cx="192.61" cy="802.70" r="2.80" fill="#3457b4" stroke="none" stroke-width="0" fill-opacity="0.87"/>
<circle cx="192.94" cy="804.65" r="2.80" fill="#3457b4" stroke="none" stroke-width="0" fill-opacity="0.87"/>
<circle cx="192.65" cy="806.61" r="2.80" fill="#3457b4" stroke="none" stroke-width="0" fill-opacity="0.87"/>
<circle cx="192.99" cy="808.56" r="2.80" fill="#3457b4" stroke="none" stroke-width="0" fill-opacity="0.87"/>
<circle cx="192.84" cy="810.52" r="2.80" fill="#3457b4" stroke="none" stroke-width="0" fill-opacity="0.87"/>
<circle cx="193.12" cy="812.47" r="2.80" fill="#3457b4" stroke="none" stroke-width="0" fill-opacity="0.87"/>
<circle cx="193.34" cy="816.38" r="2.80" fill="#3457b4" stroke="none" stroke-width="0" fill-opacity="0.87"/>
<circle cx="193.29" cy="818.33" r="2.80" fill="#3457b4" stroke="none" stroke-width="0" fill-opacity="0.87"/>
<circle cx="193.54" cy="820.28" r="2.80" fill="#3457b4" stroke="none" stroke-width="0" fill-opacity="0.87"/>
<circle cx="193.27" cy="822.24" r="2.80" fill="#3457b4" stroke="none" stroke-width="0" fill-opacity="0.87"/>
<circle cx="193.29" cy="824.19" r="2.80" fill="#3457b4" stroke="none" stroke-width="0" fill-opacity="0.87"/>
<circle cx="193.67" cy="826.15" r="2.80" fill="#3457b4" stroke="none" stroke-width="0" fill-opacity="0.87"/>
<circle cx="193.41" cy="828.10" r="2.80" fill="#3457b4" stroke="none" stroke-width="0" fill-opacity="0.87"/>
<circle cx="192.78" cy="834.00" r="2.80" fill="#3457b4" stroke="none" stroke-width="0" fill-opacity="0.87"/>
<circle cx="192.43" cy="835.96" r="2.80" fill="#3457b4" stroke="none" stroke-width="0" fill-opacity="0.87"/>
<circle cx="192.47" cy="837.92" r="2.80" fill="#3457b4" stroke="none" stroke-width="0" fill-opacity="0.87"/>
<circle cx="192.71" cy="839.88" r="2.80" fill="#3457b4" stroke="none" stroke-width="0" fill-opacity="0.87"/>
<circle cx="192.87" cy="841.83" r="2.80" fill="#3457b4" stroke="none" stroke-width="0" fill-opacity="0.87"/>
<circle cx="192.70" cy="843.79" r="2.80" fill="#3457b4" stroke="none" stroke-width="0" fill-opacity="0.87"/>
<circle cx="192.44" cy="847.71" r="2.80" fill="#3457b4" stroke="none" stroke-width="0" fill-opacity="0.87"/>
<circle cx="192.81" cy="849.67" r="2.80" fill="#3457b4" stroke="none" stroke-width="0" fill-opacity="0.87"/>
<circle cx="192.90" cy="851.62" r="2.80" fill="#3457b4" stroke="none" stroke-width="0" fill-opacity="0.87"/>
<circle cx="192.49" cy="853.58" r="2.80" fill="#3457b4" stroke="none" stroke-width="0" fill-opacity="0.87"/>
<circle cx="192.38" cy="855.54" r="2.80" fill="#3457b4" stroke="none" stroke-width="0" fill-opacity="0.87"/>
<circle cx="192.78" cy="857.50" r="2.80" fill="#3457b4" stroke="none" stroke-width="0" fill-opacity="0.87"/>
<circle cx="202.72" cy="773.80" r="2.80" fill="#6b3c9e" stroke="none" stroke-width="0" fill-opacity="0.87"/>
<circle cx="202.44" cy="775.72" r="2.80" fill="#98307a" stroke="none" stroke-width="0" fill-opacity="0.87"/>
<circle cx="202.22" cy="777.63" r="2.80" fill="#5548aa" stroke="none" stroke-width="0" fill-opacity="0.87"/>
<circle cx="202.04" cy="779.55" r="2.80" fill="#5548aa" stroke="none" stroke-width="0" fill-opacity="0.87"/>
<circle cx="202.28" cy="781.46" r="2.80" fill="#98307a" stroke="none" stroke-width="0" fill-opacity="0.87"/>
<circle cx="202.31" cy="783.38" r="2.80" fill="#6b3c9e" stroke="none" stroke-width="0" fill-opacity="0.87"/>
<circle cx="201.95" cy="785.29" r="2.80" fill="#6b3c9e" stroke="none" stroke-width="0" fill-opacity="0.87"/>
<circle cx="201.84" cy="787.21" r="2.80" fill="#6b3c9e" stroke="none" stroke-width="0" fill-opacity="0.87"/>
<circle cx="201.52" cy="789.12" r="2.80" fill="#5548aa" stroke="none" stroke-width="0" fill-opacity="0.87"/>
<circle cx="202.02" cy="791.04" r="2.80" fill="#98307a" stroke="none" stroke-width="0" fill-opacity="0.87"/>
<circle cx="201.55" cy="792.95" r="2.80" fill="#6b3c9e" stroke="none" stroke-width="0" fill-opacity="0.87"/>
<circle cx="201.33" cy="794.87" r="2.80" fill="#98307a" stroke="none" stroke-width="0" fill-opacity="0.87"/>
<circle cx="201.14" cy="796.78" r="2.80" fill="#5548aa" stroke="none" stroke-width="0" fill-opacity="0.87"/>
<circle cx="201.54" cy="798.70" r="2.80" fill="#5548aa" stroke="none" stroke-width="0" fill-opacity="0.87"/>
<circle cx="201.14" cy="800.61" r="2.80" fill="#3457b4" stroke="none" stroke-width="0" fill-opacity="0.87"/>
<circle cx="201.06" cy="802.53" r="2.80" fill="#5548aa" stroke="none" stroke-width="0" fill-opacity="0.87"/>
<circle cx="201.27" cy="804.44" r="2.80" fill="#3457b4" stroke="none" stroke-width="0" fill-opacity="0.87"/>
<circle cx="201.05" cy="806.36" r="2.80" fill="#6b3c9e" stroke="none" stroke-width="0" fill-opacity="0.87"/>
<circle cx="200.89" cy="808.27" r="2.80" fill="#5548aa" stroke="none" stroke-width="0" fill-opacity="0.87"/>
<circle cx="200.57" cy="810.19" r="2.80" fill="#5548aa" stroke="none" stroke-width="0" fill-opacity="0.87"/>
<circle cx="201.15" cy="812.10" r="2.80" fill="#6b3c9e" stroke="none" stroke-width="0" fill-opacity="0.87"/>
<circle cx="200.62" cy="814.02" r="2.80" fill="#5548aa" stroke="none" stroke-width="0" fill-opacity="0.87"/>
<circle cx="200.95" cy="815.93" r="2.80" fill="#3457b4" stroke="none" stroke-width="0" fill-opacity="0.87"/>
<circle cx="200.68" cy="817.85" r="2.80" fill="#3457b4" stroke="none" stroke-width="0" fill-opacity="0.87"/>
<circle cx="200.58" cy="821.68" r="2.80" fill="#3457b4" stroke="none" stroke-width="0" fill-opacity="0.87"/>
<circle cx="200.12" cy="823.59" r="2.80" fill="#3457b4" stroke="none" stroke-width="0" fill-opacity="0.87"/>
<circle cx="200.12" cy="827.42" r="2.80" fill="#5548aa" stroke="none" stroke-width="0" fill-opacity="0.87"/>
<circle cx="200.45" cy="829.34" r="2.80" fill="#3457b4" stroke="none" stroke-width="0" fill-opacity="0.87"/>
<circle cx="200.23" cy="831.25" r="2.80" fill="#3457b4" stroke="none" stroke-width="0" fill-opacity="0.87"/>
<circle cx="199.94" cy="833.17" r="2.80" fill="#3457b4" stroke="none" stroke-width="0" fill-opacity="0.87"/>
<circle cx="199.87" cy="835.08" r="2.80" fill="#3457b4" stroke="none" stroke-width="0" fill-opacity="0.87"/>
<circle cx="199.62" cy="837.00" r="2.80" fill="#5548aa" stroke="none" stroke-width="0" fill-opacity="0.87"/>
<circle cx="214.46" cy="814.10" r="2.80" fill="#6b3c9e" stroke="none" stroke-width="0" fill-opacity="0.87"/>
<circle cx="214.74" cy="816.11" r="2.80" fill="#6b3c9e" stroke="none" stroke-width="0" fill-opacity="0.87"/>
<circle cx="214.61" cy="818.13" r="2.80" fill="#6b3c9e" stroke="none" stroke-width="0" fill-opacity="0.87"/>
<circle cx="214.82" cy="820.14" r="2.80" fill="#6240a1" stroke="none" stroke-width="0" fill-opacity="0.87"/>
<circle cx="214.15" cy="822.16" r="2.80" fill="#5048a8" stroke="none" stroke-width="0" fill-opacity="0.87"/>
<circle cx="214.22" cy="824.17" r="2.80" fill="#3e51af" stroke="none" stroke-width="0" fill-opacity="0.87"/>
<circle cx="214.15" cy="826.19" r="2.80" fill="#3457b4" stroke="none" stroke-width="0" fill-opacity="0.87"/>
<circle cx="214.17" cy="828.20" r="2.80" fill="#3457b4" stroke="none" stroke-width="0" fill-opacity="0.87"/>
<circle cx="214.14" cy="830.21" r="2.80" fill="#474dac" stroke="none" stroke-width="0" fill-opacity="0.87"/>
<circle cx="214.04" cy="832.23" r="2.80" fill="#3457b4" stroke="none" stroke-width="0" fill-opacity="0.87"/>
<circle cx="214.35" cy="834.24" r="2.80" fill="#3457b4" stroke="none" stroke-width="0" fill-opacity="0.87"/>
<circle cx="213.96" cy="836.26" r="2.80" fill="#3457b4" stroke="none" stroke-width="0" fill-opacity="0.87"/>
<circle cx="213.85" cy="838.27" r="2.80" fill="#3457b4" stroke="none" stroke-width="0" fill-opacity="0.87"/>
<circle cx="214.01" cy="840.29" r="2.80" fill="#3457b4" stroke="none" stroke-width="0" fill-opacity="0.87"/>
<circle cx="213.77" cy="842.30" r="2.80" fill="#3457b4" stroke="none" stroke-width="0" fill-opacity="0.87"/>
<circle cx="228.57" cy="830.70" r="2.80" fill="#474dac" stroke="none" stroke-width="0" fill-opacity="0.87"/>
<circle cx="228.11" cy="832.67" r="2.80" fill="#3457b4" stroke="none" stroke-width="0" fill-opacity="0.87"/>
<circle cx="228.22" cy="834.64" r="2.80" fill="#3457b4" stroke="none" stroke-width="0" fill-opacity="0.87"/>
<circle cx="228.00" cy="836.61" r="2.80" fill="#3457b4" stroke="none" stroke-width="0" fill-opacity="0.87"/>
<circle cx="228.16" cy="838.58" r="2.80" fill="#474dac" stroke="none" stroke-width="0" fill-opacity="0.87"/>
<circle cx="227.74" cy="840.55" r="2.80" fill="#474dac" stroke="none" stroke-width="0" fill-opacity="0.87"/>
<circle cx="227.55" cy="842.52" r="2.80" fill="#3457b4" stroke="none" stroke-width="0" fill-opacity="0.87"/>
<circle cx="227.30" cy="844.49" r="2.80" fill="#3457b4" stroke="none" stroke-width="0" fill-opacity="0.87"/>
<circle cx="227.27" cy="848.43" r="2.80" fill="#3457b4" stroke="none" stroke-width="0" fill-opacity="0.87"/>
<circle cx="227.16" cy="850.40" r="2.80" fill="#3457b4" stroke="none" stroke-width="0" fill-opacity="0.87"/>
<circle cx="236.65" cy="829.20" r="2.80" fill="#3457b4" stroke="none" stroke-width="0" fill-opacity="0.87"/>
<circle cx="236.27" cy="831.22" r="2.80" fill="#3457b4" stroke="none" stroke-width="0" fill-opacity="0.87"/>
<circle cx="236.39" cy="833.25" r="2.80" fill="#3457b4" stroke="none" stroke-width="0" fill-opacity="0.87"/>
<circle cx="235.82" cy="835.27" r="2.80" fill="#3457b4" stroke="none" stroke-width="0" fill-opacity="0.87"/>
<circle cx="235.31" cy="837.29" r="2.80" fill="#3457b4" stroke="none" stroke-width="0" fill-opacity="0.87"/>
<circle cx="235.57" cy="839.32" r="2.80" fill="#3457b4" stroke="none" stroke-width="0" fill-opacity="0.87"/>
<circle cx="235.51" cy="841.34" r="2.80" fill="#3457b4" stroke="none" stroke-width="0" fill-opacity="0.87"/>
<circle cx="234.64" cy="843.36" r="2.80" fill="#3457b4" stroke="none" stroke-width="0" fill-opacity="0.87"/>
<circle cx="234.94" cy="845.38" r="2.80" fill="#3457b4" stroke="none" stroke-width="0" fill-opacity="0.87"/>
<circle cx="234.40" cy="847.41" r="2.80" fill="#3457b4" stroke="none" stroke-width="0" fill-opacity="0.87"/>
<circle cx="234.34" cy="849.43" r="2.80" fill="#3457b4" stroke="none" stroke-width="0" fill-opacity="0.87"/>
<circle cx="233.69" cy="853.48" r="2.80" fill="#474dac" stroke="none" stroke-width="0" fill-opacity="0.87"/>
<circle cx="233.37" cy="855.50" r="2.80" fill="#3457b4" stroke="none" stroke-width="0" fill-opacity="0.87"/>
<circle cx="244.29" cy="829.20" r="2.80" fill="#6b3c9e" stroke="none" stroke-width="0" fill-opacity="0.87"/>
<circle cx="244.03" cy="831.22" r="2.80" fill="#6b3c9e" stroke="none" stroke-width="0" fill-opacity="0.87"/>
<circle cx="244.25" cy="833.25" r="2.80" fill="#6b3c9e" stroke="none" stroke-width="0" fill-opacity="0.87"/>
<circle cx="243.70" cy="835.27" r="2.80" fill="#623fa1" stroke="none" stroke-width="0" fill-opacity="0.87"/>
<circle cx="243.90" cy="837.29" r="2.80" fill="#4b4baa" stroke="none" stroke-width="0" fill-opacity="0.87"/>
<circle cx="243.93" cy="839.32" r="2.80" fill="#3755b2" stroke="none" stroke-width="0" fill-opacity="0.87"/>
<circle cx="243.73" cy="841.34" r="2.80" fill="#3457b4" stroke="none" stroke-width="0" fill-opacity="0.87"/>
<circle cx="243.42" cy="843.36" r="2.80" fill="#3457b4" stroke="none" stroke-width="0" fill-opacity="0.87"/>
<circle cx="243.01" cy="845.38" r="2.80" fill="#3457b4" stroke="none" stroke-width="0" fill-opacity="0.87"/>
<circle cx="243.32" cy="847.41" r="2.80" fill="#3457b4" stroke="none" stroke-width="0" fill-opacity="0.87"/>
<circle cx="242.58" cy="849.43" r="2.80" fill="#474dac" stroke="none" stroke-width="0" fill-opacity="0.87"/>
<circle cx="242.79" cy="851.45" r="2.80" fill="#3457b4" stroke="none" stroke-width="0" fill-opacity="0.87"/>
<circle cx="242.44" cy="853.48" r="2.80" fill="#3457b4" stroke="none" stroke-width="0" fill-opacity="0.87"/>
<circle cx="242.25" cy="855.50" r="2.80" fill="#3457b4" stroke="none" stroke-width="0" fill-opacity="0.87"/>
<circle cx="252.08" cy="834.30" r="2.80" fill="#474dac" stroke="none" stroke-width="0" fill-opacity="0.87"/>
<circle cx="251.33" cy="836.26" r="2.80" fill="#3457b4" stroke="none" stroke-width="0" fill-opacity="0.87"/>
<circle cx="251.34" cy="838.21" r="2.80" fill="#3457b4" stroke="none" stroke-width="0" fill-opacity="0.87"/>
<circle cx="250.99" cy="840.17" r="2.80" fill="#3457b4" stroke="none" stroke-width="0" fill-opacity="0.87"/>
<circle cx="251.08" cy="842.12" r="2.80" fill="#3457b4" stroke="none" stroke-width="0" fill-opacity="0.87"/>
<circle cx="251.17" cy="844.08" r="2.80" fill="#3457b4" stroke="none" stroke-width="0" fill-opacity="0.87"/>
<circle cx="250.50" cy="846.04" r="2.80" fill="#3457b4" stroke="none" stroke-width="0" fill-opacity="0.87"/>
<circle cx="250.82" cy="847.99" r="2.80" fill="#3457b4" stroke="none" stroke-width="0" fill-opacity="0.87"/>
<circle cx="250.61" cy="849.95" r="2.80" fill="#3457b4" stroke="none" stroke-width="0" fill-opacity="0.87"/>
<circle cx="249.94" cy="851.90" r="2.80" fill="#3457b4" stroke="none" stroke-width="0" fill-opacity="0.87"/>
<circle cx="250.20" cy="853.86" r="2.80" fill="#3457b4" stroke="none" stroke-width="0" fill-opacity="0.87"/>
<circle cx="249.93" cy="855.82" r="2.80" fill="#3457b4" stroke="none" stroke-width="0" fill-opacity="0.87"/>
<circle cx="249.65" cy="857.77" r="2.80" fill="#474dac" stroke="none" stroke-width="0" fill-opacity="0.87"/>
<circle cx="249.85" cy="859.73" r="2.80" fill="#474dac" stroke="none" stroke-width="0" fill-opacity="0.87"/>
<circle cx="249.19" cy="861.68" r="2.80" fill="#3457b4" stroke="none" stroke-width="0" fill-opacity="0.87"/>
<circle cx="249.41" cy="863.64" r="2.80" fill="#3457b4" stroke="none" stroke-width="0" fill-opacity="0.87"/>
<circle cx="249.05" cy="865.60" r="2.80" fill="#3457b4" stroke="none" stroke-width="0" fill-opacity="0.87"/>
<circle cx="248.80" cy="867.55" r="2.80" fill="#3457b4" stroke="none" stroke-width="0" fill-opacity="0.87"/>
<circle cx="248.59" cy="869.51" r="2.80" fill="#3457b4" stroke="none" stroke-width="0" fill-opacity="0.87"/>
<circle cx="248.40" cy="871.46" r="2.80" fill="#3457b4" stroke="none" stroke-width="0" fill-opacity="0.87"/>
<circle cx="248.32" cy="873.42" r="2.80" fill="#3457b4" stroke="none" stroke-width="0" fill-opacity="0.87"/>
<circle cx="248.13" cy="875.38" r="2.80" fill="#3457b4" stroke="none" stroke-width="0" fill-opacity="0.87"/>
<circle cx="248.13" cy="877.33" r="2.80" fill="#3457b4" stroke="none" stroke-width="0" fill-opacity="0.87"/>
<circle cx="248.07" cy="879.29" r="2.80" fill="#3457b4" stroke="none" stroke-width="0" fill-opacity="0.87"/>
<circle cx="247.54" cy="881.24" r="2.80" fill="#3457b4" stroke="none" stroke-width="0" fill-opacity="0.87"/>
<circle cx="247.61" cy="883.20" r="2.80" fill="#3457b4" stroke="none" stroke-width="0" fill-opacity="0.87"/>
<circle cx="260.39" cy="830.70" r="2.80" fill="#6b3c9e" stroke="none" stroke-width="0" fill-opacity="0.87"/>
<circle cx="260.05" cy="832.65" r="2.80" fill="#6b3c9e" stroke="none" stroke-width="0" fill-opacity="0.87"/>
<circle cx="259.54" cy="836.54" r="2.80" fill="#663ea0" stroke="none" stroke-width="0" fill-opacity="0.87"/>
<circle cx="259.83" cy="838.49" r="2.80" fill="#5c42a3" stroke="none" stroke-width="0" fill-opacity="0.87"/>
<circle cx="259.67" cy="840.43" r="2.80" fill="#444ead" stroke="none" stroke-width="0" fill-opacity="0.87"/>
<circle cx="259.32" cy="842.38" r="2.80" fill="#3457b4" stroke="none" stroke-width="0" fill-opacity="0.87"/>
<circle cx="258.77" cy="844.33" r="2.80" fill="#3457b4" stroke="none" stroke-width="0" fill-opacity="0.87"/>
<circle cx="258.94" cy="846.27" r="2.80" fill="#3457b4" stroke="none" stroke-width="0" fill-opacity="0.87"/>
<circle cx="258.12" cy="848.22" r="2.80" fill="#3457b4" stroke="none" stroke-width="0" fill-opacity="0.87"/>
<circle cx="257.90" cy="852.11" r="2.80" fill="#3457b4" stroke="none" stroke-width="0" fill-opacity="0.87"/>
<circle cx="257.60" cy="854.06" r="2.80" fill="#3457b4" stroke="none" stroke-width="0" fill-opacity="0.87"/>
<circle cx="257.68" cy="856.01" r="2.80" fill="#3457b4" stroke="none" stroke-width="0" fill-opacity="0.87"/>
<circle cx="257.47" cy="857.95" r="2.80" fill="#474dac" stroke="none" stroke-width="0" fill-opacity="0.87"/>
<circle cx="256.95" cy="859.90" r="2.80" fill="#3457b4" stroke="none" stroke-width="0" fill-opacity="0.87"/>
<circle cx="267.57" cy="842.30" r="2.80" fill="#3457b4" stroke="none" stroke-width="0" fill-opacity="0.87"/>
<circle cx="267.52" cy="844.21" r="2.80" fill="#3457b4" stroke="none" stroke-width="0" fill-opacity="0.87"/>
<circle cx="267.17" cy="846.13" r="2.80" fill="#3457b4" stroke="none" stroke-width="0" fill-opacity="0.87"/>
<circle cx="266.96" cy="848.04" r="2.80" fill="#3457b4" stroke="none" stroke-width="0" fill-opacity="0.87"/>
<circle cx="266.83" cy="849.96" r="2.80" fill="#3457b4" stroke="none" stroke-width="0" fill-opacity="0.87"/>
<circle cx="266.38" cy="851.87" r="2.80" fill="#3457b4" stroke="none" stroke-width="0" fill-opacity="0.87"/>
<circle cx="266.27" cy="853.79" r="2.80" fill="#474dac" stroke="none" stroke-width="0" fill-opacity="0.87"/>
<circle cx="266.04" cy="855.70" r="2.80" fill="#3457b4" stroke="none" stroke-width="0" fill-opacity="0.87"/>
<circle cx="265.27" cy="857.61" r="2.80" fill="#3457b4" stroke="none" stroke-width="0" fill-opacity="0.87"/>
<circle cx="264.82" cy="859.53" r="2.80" fill="#3457b4" stroke="none" stroke-width="0" fill-opacity="0.87"/>
<circle cx="264.60" cy="861.44" r="2.80" fill="#3457b4" stroke="none" stroke-width="0" fill-opacity="0.87"/>
<circle cx="264.09" cy="863.36" r="2.80" fill="#3457b4" stroke="none" stroke-width="0" fill-opacity="0.87"/>
<circle cx="263.95" cy="867.19" r="2.80" fill="#3457b4" stroke="none" stroke-width="0" fill-opacity="0.87"/>
<circle cx="263.52" cy="869.10" r="2.80" fill="#474dac" stroke="none" stroke-width="0" fill-opacity="0.87"/>
<circle cx="262.86" cy="871.01" r="2.80" fill="#3457b4" stroke="none" stroke-width="0" fill-opacity="0.87"/>
<circle cx="262.72" cy="872.93" r="2.80" fill="#3457b4" stroke="none" stroke-width="0" fill-opacity="0.87"/>
<circle cx="262.23" cy="874.84" r="2.80" fill="#474dac" stroke="none" stroke-width="0" fill-opacity="0.87"/>
<circle cx="261.92" cy="876.76" r="2.80" fill="#3457b4" stroke="none" stroke-width="0" fill-opacity="0.87"/>
<circle cx="261.99" cy="878.67" r="2.80" fill="#3457b4" stroke="none" stroke-width="0" fill-opacity="0.87"/>
<circle cx="261.83" cy="880.59" r="2.80" fill="#3457b4" stroke="none" stroke-width="0" fill-opacity="0.87"/>
<circle cx="261.59" cy="882.50" r="2.80" fill="#3457b4" stroke="none" stroke-width="0" fill-opacity="0.87"/>
<circle cx="219.08" cy="843.80" r="2.80" fill="#3457b4" stroke="none" stroke-width="0" fill-opacity="0.87"/>
<circle cx="218.97" cy="845.81" r="2.80" fill="#3457b4" stroke="none" stroke-width="0" fill-opacity="0.87"/>
<circle cx="218.71" cy="847.81" r="2.80" fill="#3457b4" stroke="none" stroke-width="0" fill-opacity="0.87"/>
<circle cx="218.87" cy="849.82" r="2.80" fill="#474dac" stroke="none" stroke-width="0" fill-opacity="0.87"/>
<circle cx="218.55" cy="851.82" r="2.80" fill="#3457b4" stroke="none" stroke-width="0" fill-opacity="0.87"/>
<circle cx="218.54" cy="853.83" r="2.80" fill="#3457b4" stroke="none" stroke-width="0" fill-opacity="0.87"/>
<circle cx="218.18" cy="855.84" r="2.80" fill="#3457b4" stroke="none" stroke-width="0" fill-opacity="0.87"/>
<circle cx="218.43" cy="857.84" r="2.80" fill="#3457b4" stroke="none" stroke-width="0" fill-opacity="0.87"/>
<circle cx="218.59" cy="859.85" r="2.80" fill="#3457b4" stroke="none" stroke-width="0" fill-opacity="0.87"/>
<circle cx="218.48" cy="861.86" r="2.80" fill="#3457b4" stroke="none" stroke-width="0" fill-opacity="0.87"/>
<circle cx="218.06" cy="863.86" r="2.80" fill="#474dac" stroke="none" stroke-width="0" fill-opacity="0.87"/>
<circle cx="218.15" cy="865.87" r="2.80" fill="#474dac" stroke="none" stroke-width="0" fill-opacity="0.87"/>
<circle cx="217.95" cy="867.88" r="2.80" fill="#474dac" stroke="none" stroke-width="0" fill-opacity="0.87"/>
<circle cx="217.80" cy="869.88" r="2.80" fill="#474dac" stroke="none" stroke-width="0" fill-opacity="0.87"/>
<circle cx="217.71" cy="871.89" r="2.80" fill="#3457b4" stroke="none" stroke-width="0" fill-opacity="0.87"/>
<circle cx="217.25" cy="873.89" r="2.80" fill="#3457b4" stroke="none" stroke-width="0" fill-opacity="0.87"/>
<circle cx="217.78" cy="875.90" r="2.80" fill="#3457b4" stroke="none" stroke-width="0" fill-opacity="0.87"/>
<circle cx="212.20" cy="851.10" r="2.80" fill="#3457b4" stroke="none" stroke-width="0" fill-opacity="0.87"/>
<circle cx="212.92" cy="853.07" r="2.80" fill="#3457b4" stroke="none" stroke-width="0" fill-opacity="0.87"/>
<circle cx="213.08" cy="855.03" r="2.80" fill="#3457b4" stroke="none" stroke-width="0" fill-opacity="0.87"/>
<circle cx="213.07" cy="857.00" r="2.80" fill="#3457b4" stroke="none" stroke-width="0" fill-opacity="0.87"/>
<circle cx="205.14" cy="856.90" r="2.80" fill="#3457b4" stroke="none" stroke-width="0" fill-opacity="0.87"/>
<circle cx="205.55" cy="858.91" r="2.80" fill="#3457b4" stroke="none" stroke-width="0" fill-opacity="0.87"/>
<circle cx="205.36" cy="860.92" r="2.80" fill="#3457b4" stroke="none" stroke-width="0" fill-opacity="0.87"/>
<circle cx="205.78" cy="862.94" r="2.80" fill="#3457b4" stroke="none" stroke-width="0" fill-opacity="0.87"/>
<circle cx="206.49" cy="864.95" r="2.80" fill="#474dac" stroke="none" stroke-width="0" fill-opacity="0.87"/>
<circle cx="206.29" cy="866.96" r="2.80" fill="#3457b4" stroke="none" stroke-width="0" fill-opacity="0.87"/>
<circle cx="206.83" cy="868.98" r="2.80" fill="#3457b4" stroke="none" stroke-width="0" fill-opacity="0.87"/>
<circle cx="206.74" cy="870.99" r="2.80" fill="#474dac" stroke="none" stroke-width="0" fill-opacity="0.87"/>
<circle cx="207.58" cy="873.00" r="2.80" fill="#474dac" stroke="none" stroke-width="0" fill-opacity="0.87"/>
<circle cx="232.78" cy="864.20" r="2.80" fill="#3457b4" stroke="none" stroke-width="0" fill-opacity="0.87"/>
<circle cx="232.76" cy="866.12" r="2.80" fill="#3457b4" stroke="none" stroke-width="0" fill-opacity="0.87"/>
<circle cx="232.48" cy="868.05" r="2.80" fill="#3457b4" stroke="none" stroke-width="0" fill-opacity="0.87"/>
<circle cx="232.27" cy="869.98" r="2.80" fill="#3457b4" stroke="none" stroke-width="0" fill-opacity="0.87"/>
<circle cx="231.64" cy="871.90" r="2.80" fill="#3457b4" stroke="none" stroke-width="0" fill-opacity="0.87"/>
<circle cx="231.72" cy="873.83" r="2.80" fill="#474dac" stroke="none" stroke-width="0" fill-opacity="0.87"/>
<circle cx="230.93" cy="877.68" r="2.80" fill="#474dac" stroke="none" stroke-width="0" fill-opacity="0.87"/>
<circle cx="230.53" cy="879.60" r="2.80" fill="#474dac" stroke="none" stroke-width="0" fill-opacity="0.87"/>
<circle cx="240.80" cy="858.40" r="2.80" fill="#3457b4" stroke="none" stroke-width="0" fill-opacity="0.87"/>
<circle cx="241.03" cy="860.30" r="2.80" fill="#3457b4" stroke="none" stroke-width="0" fill-opacity="0.87"/>
<circle cx="240.54" cy="862.20" r="2.80" fill="#474dac" stroke="none" stroke-width="0" fill-opacity="0.87"/>
<circle cx="240.20" cy="864.10" r="2.80" fill="#474dac" stroke="none" stroke-width="0" fill-opacity="0.87"/>
<circle cx="240.27" cy="866.00" r="2.80" fill="#3457b4" stroke="none" stroke-width="0" fill-opacity="0.87"/>
<circle cx="239.70" cy="869.80" r="2.80" fill="#474dac" stroke="none" stroke-width="0" fill-opacity="0.87"/>
<circle cx="239.68" cy="873.60" r="2.80" fill="#474dac" stroke="none" stroke-width="0" fill-opacity="0.87"/>
<circle cx="239.47" cy="875.50" r="2.80" fill="#3457b4" stroke="none" stroke-width="0" fill-opacity="0.87"/>
<circle cx="239.19" cy="877.40" r="2.80" fill="#3457b4" stroke="none" stroke-width="0" fill-opacity="0.87"/>
<circle cx="129.42" cy="856.60" r="2.80" fill="#6b3c9e" stroke="none" stroke-width="0" fill-opacity="0.87"/>
<circle cx="128.99" cy="858.55" r="2.80" fill="#6b3c9e" stroke="none" stroke-width="0" fill-opacity="0.87"/>
<circle cx="129.72" cy="860.51" r="2.80" fill="#6b3c9e" stroke="none" stroke-width="0" fill-opacity="0.87"/>
<circle cx="129.76" cy="862.46" r="2.80" fill="#6b3c9e" stroke="none" stroke-width="0" fill-opacity="0.87"/>
<circle cx="129.36" cy="864.42" r="2.80" fill="#6b3c9e" stroke="none" stroke-width="0" fill-opacity="0.87"/>
<circle cx="129.68" cy="866.37" r="2.80" fill="#673d9f" stroke="none" stroke-width="0" fill-opacity="0.87"/>
<circle cx="129.70" cy="868.32" r="2.80" fill="#5e42a3" stroke="none" stroke-width="0" fill-opacity="0.87"/>
<circle cx="130.13" cy="870.28" r="2.80" fill="#5446a6" stroke="none" stroke-width="0" fill-opacity="0.87"/>
<circle cx="130.32" cy="872.23" r="2.80" fill="#4b4baa" stroke="none" stroke-width="0" fill-opacity="0.87"/>
<circle cx="130.44" cy="874.18" r="2.80" fill="#4150ae" stroke="none" stroke-width="0" fill-opacity="0.87"/>
<circle cx="130.01" cy="876.14" r="2.80" fill="#3755b2" stroke="none" stroke-width="0" fill-opacity="0.87"/>
<circle cx="130.04" cy="878.09" r="2.80" fill="#3457b4" stroke="none" stroke-width="0" fill-opacity="0.87"/>
<circle cx="130.71" cy="880.05" r="2.80" fill="#3457b4" stroke="none" stroke-width="0" fill-opacity="0.87"/>
<circle cx="130.82" cy="882.00" r="2.80" fill="#3457b4" stroke="none" stroke-width="0" fill-opacity="0.87"/>
<circle cx="130.34" cy="883.95" r="2.80" fill="#474dac" stroke="none" stroke-width="0" fill-opacity="0.87"/>
<circle cx="130.47" cy="885.91" r="2.80" fill="#3457b4" stroke="none" stroke-width="0" fill-opacity="0.87"/>
<circle cx="130.52" cy="887.86" r="2.80" fill="#3457b4" stroke="none" stroke-width="0" fill-opacity="0.87"/>
<circle cx="130.95" cy="889.82" r="2.80" fill="#3457b4" stroke="none" stroke-width="0" fill-opacity="0.87"/>
<circle cx="130.76" cy="891.77" r="2.80" fill="#3457b4" stroke="none" stroke-width="0" fill-opacity="0.87"/>
<circle cx="131.01" cy="893.72" r="2.80" fill="#3457b4" stroke="none" stroke-width="0" fill-opacity="0.87"/>
<circle cx="130.94" cy="895.68" r="2.80" fill="#3457b4" stroke="none" stroke-width="0" fill-opacity="0.87"/>
<circle cx="131.31" cy="897.63" r="2.80" fill="#3457b4" stroke="none" stroke-width="0" fill-opacity="0.87"/>
<circle cx="131.24" cy="899.58" r="2.80" fill="#474dac" stroke="none" stroke-width="0" fill-opacity="0.87"/>
<circle cx="131.75" cy="903.49" r="2.80" fill="#3457b4" stroke="none" stroke-width="0" fill-opacity="0.87"/>
<circle cx="131.48" cy="905.45" r="2.80" fill="#3457b4" stroke="none" stroke-width="0" fill-opacity="0.87"/>
<circle cx="131.76" cy="907.40" r="2.80" fill="#3457b4" stroke="none" stroke-width="0" fill-opacity="0.87"/>
<circle cx="137.31" cy="863.70" r="2.80" fill="#3457b4" stroke="none" stroke-width="0" fill-opacity="0.87"/>
<circle cx="136.96" cy="865.60" r="2.80" fill="#3457b4" stroke="none" stroke-width="0" fill-opacity="0.87"/>
<circle cx="137.22" cy="867.50" r="2.80" fill="#3457b4" stroke="none" stroke-width="0" fill-opacity="0.87"/>
<circle cx="137.42" cy="869.40" r="2.80" fill="#3457b4" stroke="none" stroke-width="0" fill-opacity="0.87"/>
<circle cx="137.79" cy="871.30" r="2.80" fill="#3457b4" stroke="none" stroke-width="0" fill-opacity="0.87"/>
<circle cx="137.41" cy="873.20" r="2.80" fill="#3457b4" stroke="none" stroke-width="0" fill-opacity="0.87"/>
<circle cx="137.56" cy="875.10" r="2.80" fill="#3457b4" stroke="none" stroke-width="0" fill-opacity="0.87"/>
<circle cx="137.86" cy="877.00" r="2.80" fill="#474dac" stroke="none" stroke-width="0" fill-opacity="0.87"/>
<circle cx="138.12" cy="878.90" r="2.80" fill="#3457b4" stroke="none" stroke-width="0" fill-opacity="0.87"/>
<circle cx="138.07" cy="880.80" r="2.80" fill="#3457b4" stroke="none" stroke-width="0" fill-opacity="0.87"/>
<circle cx="138.28" cy="882.70" r="2.80" fill="#474dac" stroke="none" stroke-width="0" fill-opacity="0.87"/>
<circle cx="138.14" cy="884.60" r="2.80" fill="#474dac" stroke="none" stroke-width="0" fill-opacity="0.87"/>
<circle cx="138.55" cy="886.50" r="2.80" fill="#3457b4" stroke="none" stroke-width="0" fill-opacity="0.87"/>
<circle cx="138.83" cy="888.40" r="2.80" fill="#3457b4" stroke="none" stroke-width="0" fill-opacity="0.87"/>
<circle cx="138.91" cy="890.30" r="2.80" fill="#3457b4" stroke="none" stroke-width="0" fill-opacity="0.87"/>
<circle cx="138.68" cy="892.20" r="2.80" fill="#474dac" stroke="none" stroke-width="0" fill-opacity="0.87"/>
<circle cx="138.97" cy="894.10" r="2.80" fill="#3457b4" stroke="none" stroke-width="0" fill-opacity="0.87"/>
<circle cx="139.15" cy="896.00" r="2.80" fill="#3457b4" stroke="none" stroke-width="0" fill-opacity="0.87"/>
<circle cx="138.86" cy="897.90" r="2.80" fill="#3457b4" stroke="none" stroke-width="0" fill-opacity="0.87"/>
<circle cx="139.56" cy="899.80" r="2.80" fill="#3457b4" stroke="none" stroke-width="0" fill-opacity="0.87"/>
<circle cx="139.32" cy="901.70" r="2.80" fill="#3457b4" stroke="none" stroke-width="0" fill-opacity="0.87"/>
<circle cx="139.57" cy="903.60" r="2.80" fill="#3457b4" stroke="none" stroke-width="0" fill-opacity="0.87"/>
<circle cx="139.38" cy="905.50" r="2.80" fill="#3457b4" stroke="none" stroke-width="0" fill-opacity="0.87"/>
<circle cx="139.46" cy="907.40" r="2.80" fill="#3457b4" stroke="none" stroke-width="0" fill-opacity="0.87"/>
<circle cx="145.85" cy="888.00" r="2.80" fill="#3457b4" stroke="none" stroke-width="0" fill-opacity="0.87"/>
<circle cx="146.04" cy="889.93" r="2.80" fill="#3457b4" stroke="none" stroke-width="0" fill-opacity="0.87"/>
<circle cx="146.22" cy="891.85" r="2.80" fill="#3457b4" stroke="none" stroke-width="0" fill-opacity="0.87"/>
<circle cx="146.07" cy="893.78" r="2.80" fill="#3457b4" stroke="none" stroke-width="0" fill-opacity="0.87"/>
<circle cx="146.50" cy="897.64" r="2.80" fill="#3457b4" stroke="none" stroke-width="0" fill-opacity="0.87"/>
<circle cx="146.50" cy="899.56" r="2.80" fill="#3457b4" stroke="none" stroke-width="0" fill-opacity="0.87"/>
<circle cx="146.14" cy="901.49" r="2.80" fill="#474dac" stroke="none" stroke-width="0" fill-opacity="0.87"/>
<circle cx="146.82" cy="905.35" r="2.80" fill="#3457b4" stroke="none" stroke-width="0" fill-opacity="0.87"/>
<circle cx="146.66" cy="907.27" r="2.80" fill="#3457b4" stroke="none" stroke-width="0" fill-opacity="0.87"/>
<circle cx="150.79" cy="850.50" r="2.80" fill="#3457b4" stroke="none" stroke-width="0" fill-opacity="0.87"/>
<circle cx="150.96" cy="852.44" r="2.80" fill="#3457b4" stroke="none" stroke-width="0" fill-opacity="0.87"/>
<circle cx="151.27" cy="854.39" r="2.80" fill="#474dac" stroke="none" stroke-width="0" fill-opacity="0.87"/>
<circle cx="151.54" cy="856.33" r="2.80" fill="#3457b4" stroke="none" stroke-width="0" fill-opacity="0.87"/>
<circle cx="151.71" cy="858.28" r="2.80" fill="#3457b4" stroke="none" stroke-width="0" fill-opacity="0.87"/>
<circle cx="151.37" cy="860.22" r="2.80" fill="#474dac" stroke="none" stroke-width="0" fill-opacity="0.87"/>
<circle cx="151.77" cy="862.17" r="2.80" fill="#3457b4" stroke="none" stroke-width="0" fill-opacity="0.87"/>
<circle cx="151.57" cy="864.11" r="2.80" fill="#3457b4" stroke="none" stroke-width="0" fill-opacity="0.87"/>
<circle cx="152.04" cy="866.06" r="2.80" fill="#3457b4" stroke="none" stroke-width="0" fill-opacity="0.87"/>
<circle cx="152.21" cy="868.00" r="2.80" fill="#3457b4" stroke="none" stroke-width="0" fill-opacity="0.87"/>
<circle cx="152.35" cy="869.94" r="2.80" fill="#3457b4" stroke="none" stroke-width="0" fill-opacity="0.87"/>
<circle cx="151.97" cy="871.89" r="2.80" fill="#3457b4" stroke="none" stroke-width="0" fill-opacity="0.87"/>
<circle cx="152.08" cy="873.83" r="2.80" fill="#3457b4" stroke="none" stroke-width="0" fill-opacity="0.87"/>
<circle cx="152.36" cy="875.78" r="2.80" fill="#3457b4" stroke="none" stroke-width="0" fill-opacity="0.87"/>
<circle cx="152.85" cy="877.72" r="2.80" fill="#3457b4" stroke="none" stroke-width="0" fill-opacity="0.87"/>
<circle cx="152.59" cy="879.67" r="2.80" fill="#3457b4" stroke="none" stroke-width="0" fill-opacity="0.87"/>
<circle cx="152.73" cy="881.61" r="2.80" fill="#474dac" stroke="none" stroke-width="0" fill-opacity="0.87"/>
<circle cx="153.03" cy="883.56" r="2.80" fill="#3457b4" stroke="none" stroke-width="0" fill-opacity="0.87"/>
<circle cx="152.69" cy="885.50" r="2.80" fill="#3457b4" stroke="none" stroke-width="0" fill-opacity="0.87"/>
<circle cx="156.54" cy="845.30" r="2.80" fill="#474dac" stroke="none" stroke-width="0" fill-opacity="0.87"/>
<circle cx="156.57" cy="847.21" r="2.80" fill="#3457b4" stroke="none" stroke-width="0" fill-opacity="0.87"/>
<circle cx="156.87" cy="849.12" r="2.80" fill="#3457b4" stroke="none" stroke-width="0" fill-opacity="0.87"/>
<circle cx="156.44" cy="851.03" r="2.80" fill="#3457b4" stroke="none" stroke-width="0" fill-opacity="0.87"/>
<circle cx="156.41" cy="852.94" r="2.80" fill="#3457b4" stroke="none" stroke-width="0" fill-opacity="0.87"/>
<circle cx="156.88" cy="854.85" r="2.80" fill="#3457b4" stroke="none" stroke-width="0" fill-opacity="0.87"/>
<circle cx="156.63" cy="856.75" r="2.80" fill="#474dac" stroke="none" stroke-width="0" fill-opacity="0.87"/>
<circle cx="156.97" cy="858.66" r="2.80" fill="#3457b4" stroke="none" stroke-width="0" fill-opacity="0.87"/>
<circle cx="157.28" cy="860.57" r="2.80" fill="#3457b4" stroke="none" stroke-width="0" fill-opacity="0.87"/>
<circle cx="157.00" cy="862.48" r="2.80" fill="#3457b4" stroke="none" stroke-width="0" fill-opacity="0.87"/>
<circle cx="156.95" cy="864.39" r="2.80" fill="#3457b4" stroke="none" stroke-width="0" fill-opacity="0.87"/>
<circle cx="156.92" cy="866.30" r="2.80" fill="#3457b4" stroke="none" stroke-width="0" fill-opacity="0.87"/>
<circle cx="157.02" cy="868.21" r="2.80" fill="#3457b4" stroke="none" stroke-width="0" fill-opacity="0.87"/>
<circle cx="157.72" cy="872.03" r="2.80" fill="#3457b4" stroke="none" stroke-width="0" fill-opacity="0.87"/>
<circle cx="157.66" cy="873.94" r="2.80" fill="#3457b4" stroke="none" stroke-width="0" fill-opacity="0.87"/>
<circle cx="157.52" cy="875.85" r="2.80" fill="#3457b4" stroke="none" stroke-width="0" fill-opacity="0.87"/>
<circle cx="158.05" cy="877.75" r="2.80" fill="#474dac" stroke="none" stroke-width="0" fill-opacity="0.87"/>
<circle cx="157.93" cy="879.66" r="2.80" fill="#3457b4" stroke="none" stroke-width="0" fill-opacity="0.87"/>
<circle cx="157.99" cy="881.57" r="2.80" fill="#474dac" stroke="none" stroke-width="0" fill-opacity="0.87"/>
<circle cx="157.91" cy="883.48" r="2.80" fill="#3457b4" stroke="none" stroke-width="0" fill-opacity="0.87"/>
<circle cx="157.68" cy="885.39" r="2.80" fill="#474dac" stroke="none" stroke-width="0" fill-opacity="0.87"/>
<circle cx="158.20" cy="887.30" r="2.80" fill="#3457b4" stroke="none" stroke-width="0" fill-opacity="0.87"/>
<circle cx="164.35" cy="866.30" r="2.80" fill="#3457b4" stroke="none" stroke-width="0" fill-opacity="0.87"/>
<circle cx="164.06" cy="868.21" r="2.80" fill="#3457b4" stroke="none" stroke-width="0" fill-opacity="0.87"/>
<circle cx="164.50" cy="872.03" r="2.80" fill="#3457b4" stroke="none" stroke-width="0" fill-opacity="0.87"/>
<circle cx="165.03" cy="873.94" r="2.80" fill="#3457b4" stroke="none" stroke-width="0" fill-opacity="0.87"/>
<circle cx="165.43" cy="877.75" r="2.80" fill="#3457b4" stroke="none" stroke-width="0" fill-opacity="0.87"/>
<circle cx="165.52" cy="879.66" r="2.80" fill="#3457b4" stroke="none" stroke-width="0" fill-opacity="0.87"/>
<circle cx="166.03" cy="881.57" r="2.80" fill="#3457b4" stroke="none" stroke-width="0" fill-opacity="0.87"/>
<circle cx="166.28" cy="883.48" r="2.80" fill="#3457b4" stroke="none" stroke-width="0" fill-opacity="0.87"/>
<circle cx="166.11" cy="885.39" r="2.80" fill="#3457b4" stroke="none" stroke-width="0" fill-opacity="0.87"/>
<circle cx="166.31" cy="887.30" r="2.80" fill="#3457b4" stroke="none" stroke-width="0" fill-opacity="0.87"/>
<circle cx="166.83" cy="889.21" r="2.80" fill="#3457b4" stroke="none" stroke-width="0" fill-opacity="0.87"/>
<circle cx="166.93" cy="891.12" r="2.80" fill="#3457b4" stroke="none" stroke-width="0" fill-opacity="0.87"/>
<circle cx="166.97" cy="893.03" r="2.80" fill="#474dac" stroke="none" stroke-width="0" fill-opacity="0.87"/>
<circle cx="167.04" cy="894.94" r="2.80" fill="#474dac" stroke="none" stroke-width="0" fill-opacity="0.87"/>
<circle cx="167.35" cy="896.85" r="2.80" fill="#3457b4" stroke="none" stroke-width="0" fill-opacity="0.87"/>
<circle cx="167.64" cy="898.75" r="2.80" fill="#3457b4" stroke="none" stroke-width="0" fill-opacity="0.87"/>
<circle cx="168.01" cy="900.66" r="2.80" fill="#3457b4" stroke="none" stroke-width="0" fill-opacity="0.87"/>
<circle cx="167.91" cy="902.57" r="2.80" fill="#3457b4" stroke="none" stroke-width="0" fill-opacity="0.87"/>
<circle cx="168.50" cy="904.48" r="2.80" fill="#3457b4" stroke="none" stroke-width="0" fill-opacity="0.87"/>
<circle cx="168.20" cy="906.39" r="2.80" fill="#3457b4" stroke="none" stroke-width="0" fill-opacity="0.87"/>
<circle cx="168.70" cy="908.30" r="2.80" fill="#3457b4" stroke="none" stroke-width="0" fill-opacity="0.87"/>
<circle cx="160.23" cy="897.80" r="2.80" fill="#3457b4" stroke="none" stroke-width="0" fill-opacity="0.87"/>
<circle cx="159.78" cy="899.80" r="2.80" fill="#3457b4" stroke="none" stroke-width="0" fill-opacity="0.87"/>
<circle cx="160.04" cy="901.80" r="2.80" fill="#3457b4" stroke="none" stroke-width="0" fill-opacity="0.87"/>
<circle cx="160.08" cy="903.80" r="2.80" fill="#3457b4" stroke="none" stroke-width="0" fill-opacity="0.87"/>
<circle cx="160.69" cy="905.80" r="2.80" fill="#3457b4" stroke="none" stroke-width="0" fill-opacity="0.87"/>
<circle cx="160.19" cy="907.80" r="2.80" fill="#474dac" stroke="none" stroke-width="0" fill-opacity="0.87"/>
<circle cx="160.30" cy="909.80" r="2.80" fill="#3457b4" stroke="none" stroke-width="0" fill-opacity="0.87"/>
<circle cx="160.38" cy="911.80" r="2.80" fill="#3457b4" stroke="none" stroke-width="0" fill-opacity="0.87"/>
<circle cx="175.78" cy="902.20" r="2.80" fill="#3457b4" stroke="none" stroke-width="0" fill-opacity="0.87"/>
<circle cx="175.30" cy="904.13" r="2.80" fill="#3457b4" stroke="none" stroke-width="0" fill-opacity="0.87"/>
<circle cx="175.43" cy="906.06" r="2.80" fill="#3457b4" stroke="none" stroke-width="0" fill-opacity="0.87"/>
<circle cx="175.90" cy="907.99" r="2.80" fill="#3457b4" stroke="none" stroke-width="0" fill-opacity="0.87"/>
<circle cx="175.95" cy="909.92" r="2.80" fill="#3457b4" stroke="none" stroke-width="0" fill-opacity="0.87"/>
<circle cx="175.58" cy="911.85" r="2.80" fill="#3457b4" stroke="none" stroke-width="0" fill-opacity="0.87"/>
<circle cx="175.82" cy="913.78" r="2.80" fill="#3457b4" stroke="none" stroke-width="0" fill-opacity="0.87"/>
<circle cx="175.43" cy="915.71" r="2.80" fill="#3457b4" stroke="none" stroke-width="0" fill-opacity="0.87"/>
<circle cx="175.33" cy="917.64" r="2.80" fill="#474dac" stroke="none" stroke-width="0" fill-opacity="0.87"/>
<circle cx="175.74" cy="921.50" r="2.80" fill="#474dac" stroke="none" stroke-width="0" fill-opacity="0.87"/>
<circle cx="101.12" cy="920.60" r="2.80" fill="#3457b4" stroke="none" stroke-width="0" fill-opacity="0.87"/>
<circle cx="101.35" cy="922.60" r="2.80" fill="#3457b4" stroke="none" stroke-width="0" fill-opacity="0.87"/>
<circle cx="101.75" cy="924.60" r="2.80" fill="#3457b4" stroke="none" stroke-width="0" fill-opacity="0.87"/>
<circle cx="101.94" cy="926.60" r="2.80" fill="#3457b4" stroke="none" stroke-width="0" fill-opacity="0.87"/>
<circle cx="102.51" cy="928.60" r="2.80" fill="#3457b4" stroke="none" stroke-width="0" fill-opacity="0.87"/>
<circle cx="102.46" cy="930.60" r="2.80" fill="#3457b4" stroke="none" stroke-width="0" fill-opacity="0.87"/>
<circle cx="102.44" cy="932.60" r="2.80" fill="#3457b4" stroke="none" stroke-width="0" fill-opacity="0.87"/>
<circle cx="103.09" cy="934.60" r="2.80" fill="#3457b4" stroke="none" stroke-width="0" fill-opacity="0.87"/>
<circle cx="185.16" cy="861.00" r="2.80" fill="#474dac" stroke="none" stroke-width="0" fill-opacity="0.87"/>
<circle cx="184.49" cy="863.09" r="2.80" fill="#3457b4" stroke="none" stroke-width="0" fill-opacity="0.87"/>
<circle cx="184.41" cy="865.17" r="2.80" fill="#474dac" stroke="none" stroke-width="0" fill-opacity="0.87"/>
<circle cx="184.63" cy="867.26" r="2.80" fill="#3457b4" stroke="none" stroke-width="0" fill-opacity="0.87"/>
<circle cx="184.54" cy="869.35" r="2.80" fill="#3457b4" stroke="none" stroke-width="0" fill-opacity="0.87"/>
<circle cx="184.63" cy="871.44" r="2.80" fill="#3457b4" stroke="none" stroke-width="0" fill-opacity="0.87"/>
<circle cx="184.36" cy="873.53" r="2.80" fill="#474dac" stroke="none" stroke-width="0" fill-opacity="0.87"/>
<circle cx="184.08" cy="875.61" r="2.80" fill="#3457b4" stroke="none" stroke-width="0" fill-opacity="0.87"/>
<circle cx="184.75" cy="883.80" r="2.80" fill="#474dac" stroke="none" stroke-width="0" fill-opacity="0.87"/>
<circle cx="184.50" cy="885.70" r="2.80" fill="#3457b4" stroke="none" stroke-width="0" fill-opacity="0.87"/>
<circle cx="184.30" cy="889.50" r="2.80" fill="#3457b4" stroke="none" stroke-width="0" fill-opacity="0.87"/>
<circle cx="184.15" cy="891.40" r="2.80" fill="#474dac" stroke="none" stroke-width="0" fill-opacity="0.87"/>
<circle cx="184.47" cy="893.30" r="2.80" fill="#474dac" stroke="none" stroke-width="0" fill-opacity="0.87"/>
<circle cx="184.44" cy="895.20" r="2.80" fill="#3457b4" stroke="none" stroke-width="0" fill-opacity="0.87"/>
<circle cx="184.54" cy="897.10" r="2.80" fill="#3457b4" stroke="none" stroke-width="0" fill-opacity="0.87"/>
<circle cx="184.40" cy="899.00" r="2.80" fill="#3457b4" stroke="none" stroke-width="0" fill-opacity="0.87"/>
<circle cx="184.26" cy="900.90" r="2.80" fill="#474dac" stroke="none" stroke-width="0" fill-opacity="0.87"/>
<circle cx="184.08" cy="902.80" r="2.80" fill="#3457b4" stroke="none" stroke-width="0" fill-opacity="0.87"/>
<circle cx="183.83" cy="904.70" r="2.80" fill="#3457b4" stroke="none" stroke-width="0" fill-opacity="0.87"/>
<circle cx="184.24" cy="906.60" r="2.80" fill="#3457b4" stroke="none" stroke-width="0" fill-opacity="0.87"/>
<circle cx="193.10" cy="878.50" r="2.80" fill="#3457b4" stroke="none" stroke-width="0" fill-opacity="0.87"/>
<circle cx="192.39" cy="880.55" r="2.80" fill="#3457b4" stroke="none" stroke-width="0" fill-opacity="0.87"/>
<circle cx="192.76" cy="882.60" r="2.80" fill="#3457b4" stroke="none" stroke-width="0" fill-opacity="0.87"/>
<circle cx="192.45" cy="884.65" r="2.80" fill="#3457b4" stroke="none" stroke-width="0" fill-opacity="0.87"/>
<circle cx="192.71" cy="886.70" r="2.80" fill="#474dac" stroke="none" stroke-width="0" fill-opacity="0.87"/>
<circle cx="192.69" cy="890.80" r="2.80" fill="#3457b4" stroke="none" stroke-width="0" fill-opacity="0.87"/>
<circle cx="192.20" cy="892.85" r="2.80" fill="#3457b4" stroke="none" stroke-width="0" fill-opacity="0.87"/>
<circle cx="192.17" cy="894.90" r="2.80" fill="#3457b4" stroke="none" stroke-width="0" fill-opacity="0.87"/>
<circle cx="191.97" cy="896.95" r="2.80" fill="#3457b4" stroke="none" stroke-width="0" fill-opacity="0.87"/>
<circle cx="191.94" cy="899.00" r="2.80" fill="#3457b4" stroke="none" stroke-width="0" fill-opacity="0.87"/>
<circle cx="191.83" cy="901.05" r="2.80" fill="#3457b4" stroke="none" stroke-width="0" fill-opacity="0.87"/>
<circle cx="191.86" cy="903.10" r="2.80" fill="#3457b4" stroke="none" stroke-width="0" fill-opacity="0.87"/>
<circle cx="199.20" cy="877.70" r="2.80" fill="#3457b4" stroke="none" stroke-width="0" fill-opacity="0.87"/>
<circle cx="198.98" cy="879.78" r="2.80" fill="#3457b4" stroke="none" stroke-width="0" fill-opacity="0.87"/>
<circle cx="198.67" cy="881.85" r="2.80" fill="#3457b4" stroke="none" stroke-width="0" fill-opacity="0.87"/>
<circle cx="198.87" cy="883.92" r="2.80" fill="#3457b4" stroke="none" stroke-width="0" fill-opacity="0.87"/>
<circle cx="198.19" cy="886.00" r="2.80" fill="#3457b4" stroke="none" stroke-width="0" fill-opacity="0.87"/>
<circle cx="198.21" cy="888.08" r="2.80" fill="#3457b4" stroke="none" stroke-width="0" fill-opacity="0.87"/>
<circle cx="198.09" cy="890.15" r="2.80" fill="#3457b4" stroke="none" stroke-width="0" fill-opacity="0.87"/>
<circle cx="197.78" cy="892.22" r="2.80" fill="#3457b4" stroke="none" stroke-width="0" fill-opacity="0.87"/>
<circle cx="198.11" cy="894.30" r="2.80" fill="#3457b4" stroke="none" stroke-width="0" fill-opacity="0.87"/>
<circle cx="204.95" cy="857.50" r="2.80" fill="#3457b4" stroke="none" stroke-width="0" fill-opacity="0.87"/>
<circle cx="205.34" cy="859.48" r="2.80" fill="#3457b4" stroke="none" stroke-width="0" fill-opacity="0.87"/>
<circle cx="205.52" cy="861.45" r="2.80" fill="#3457b4" stroke="none" stroke-width="0" fill-opacity="0.87"/>
<circle cx="206.02" cy="863.42" r="2.80" fill="#3457b4" stroke="none" stroke-width="0" fill-opacity="0.87"/>
<circle cx="206.94" cy="867.38" r="2.80" fill="#3457b4" stroke="none" stroke-width="0" fill-opacity="0.87"/>
<circle cx="206.94" cy="869.35" r="2.80" fill="#3457b4" stroke="none" stroke-width="0" fill-opacity="0.87"/>
<circle cx="207.39" cy="871.32" r="2.80" fill="#3457b4" stroke="none" stroke-width="0" fill-opacity="0.87"/>
<circle cx="208.03" cy="873.30" r="2.80" fill="#3457b4" stroke="none" stroke-width="0" fill-opacity="0.87"/>
<circle cx="191.16" cy="911.80" r="2.80" fill="#3457b4" stroke="none" stroke-width="0" fill-opacity="0.87"/>
<circle cx="190.68" cy="913.93" r="2.80" fill="#3457b4" stroke="none" stroke-width="0" fill-opacity="0.87"/>
<circle cx="190.87" cy="916.06" r="2.80" fill="#474dac" stroke="none" stroke-width="0" fill-opacity="0.87"/>
<circle cx="191.27" cy="918.19" r="2.80" fill="#3457b4" stroke="none" stroke-width="0" fill-opacity="0.87"/>
<circle cx="191.12" cy="920.31" r="2.80" fill="#3457b4" stroke="none" stroke-width="0" fill-opacity="0.87"/>
<circle cx="190.68" cy="924.57" r="2.80" fill="#3457b4" stroke="none" stroke-width="0" fill-opacity="0.87"/>
<circle cx="190.74" cy="926.70" r="2.80" fill="#3457b4" stroke="none" stroke-width="0" fill-opacity="0.87"/>
<circle cx="206.91" cy="924.10" r="2.80" fill="#3457b4" stroke="none" stroke-width="0" fill-opacity="0.87"/>
<circle cx="207.00" cy="926.20" r="2.80" fill="#3457b4" stroke="none" stroke-width="0" fill-opacity="0.87"/>
<circle cx="206.59" cy="928.30" r="2.80" fill="#474dac" stroke="none" stroke-width="0" fill-opacity="0.87"/>
<circle cx="206.89" cy="930.40" r="2.80" fill="#474dac" stroke="none" stroke-width="0" fill-opacity="0.87"/>
<circle cx="206.99" cy="932.50" r="2.80" fill="#3457b4" stroke="none" stroke-width="0" fill-opacity="0.87"/>
<circle cx="206.96" cy="934.60" r="2.80" fill="#474dac" stroke="none" stroke-width="0" fill-opacity="0.87"/>
<circle cx="213.22" cy="889.90" r="2.80" fill="#3457b4" stroke="none" stroke-width="0" fill-opacity="0.87"/>
<circle cx="213.23" cy="892.17" r="2.80" fill="#3457b4" stroke="none" stroke-width="0" fill-opacity="0.87"/>
<circle cx="212.76" cy="894.45" r="2.80" fill="#3457b4" stroke="none" stroke-width="0" fill-opacity="0.87"/>
<circle cx="212.90" cy="896.73" r="2.80" fill="#3457b4" stroke="none" stroke-width="0" fill-opacity="0.87"/>
<circle cx="213.20" cy="899.00" r="2.80" fill="#3457b4" stroke="none" stroke-width="0" fill-opacity="0.87"/>
<circle cx="218.49" cy="891.70" r="2.80" fill="#3457b4" stroke="none" stroke-width="0" fill-opacity="0.87"/>
<circle cx="218.37" cy="893.60" r="2.80" fill="#3457b4" stroke="none" stroke-width="0" fill-opacity="0.87"/>
<circle cx="217.60" cy="895.51" r="2.80" fill="#3457b4" stroke="none" stroke-width="0" fill-opacity="0.87"/>
<circle cx="217.74" cy="897.41" r="2.80" fill="#3457b4" stroke="none" stroke-width="0" fill-opacity="0.87"/>
<circle cx="217.75" cy="899.32" r="2.80" fill="#3457b4" stroke="none" stroke-width="0" fill-opacity="0.87"/>
<circle cx="217.35" cy="901.22" r="2.80" fill="#3457b4" stroke="none" stroke-width="0" fill-opacity="0.87"/>
<circle cx="217.44" cy="903.13" r="2.80" fill="#3457b4" stroke="none" stroke-width="0" fill-opacity="0.87"/>
<circle cx="217.62" cy="905.03" r="2.80" fill="#3457b4" stroke="none" stroke-width="0" fill-opacity="0.87"/>
<circle cx="217.38" cy="906.93" r="2.80" fill="#474dac" stroke="none" stroke-width="0" fill-opacity="0.87"/>
<circle cx="217.07" cy="908.84" r="2.80" fill="#3457b4" stroke="none" stroke-width="0" fill-opacity="0.87"/>
<circle cx="216.87" cy="910.74" r="2.80" fill="#3457b4" stroke="none" stroke-width="0" fill-opacity="0.87"/>
<circle cx="217.05" cy="912.65" r="2.80" fill="#3457b4" stroke="none" stroke-width="0" fill-opacity="0.87"/>
<circle cx="216.54" cy="914.55" r="2.80" fill="#3457b4" stroke="none" stroke-width="0" fill-opacity="0.87"/>
<circle cx="216.61" cy="916.46" r="2.80" fill="#474dac" stroke="none" stroke-width="0" fill-opacity="0.87"/>
<circle cx="216.46" cy="918.36" r="2.80" fill="#3457b4" stroke="none" stroke-width="0" fill-opacity="0.87"/>
<circle cx="216.49" cy="920.27" r="2.80" fill="#3457b4" stroke="none" stroke-width="0" fill-opacity="0.87"/>
<circle cx="216.01" cy="922.17" r="2.80" fill="#3457b4" stroke="none" stroke-width="0" fill-opacity="0.87"/>
<circle cx="215.83" cy="924.07" r="2.80" fill="#474dac" stroke="none" stroke-width="0" fill-opacity="0.87"/>
<circle cx="216.13" cy="925.98" r="2.80" fill="#474dac" stroke="none" stroke-width="0" fill-opacity="0.87"/>
<circle cx="215.58" cy="927.88" r="2.80" fill="#3457b4" stroke="none" stroke-width="0" fill-opacity="0.87"/>
<circle cx="215.91" cy="929.79" r="2.80" fill="#3457b4" stroke="none" stroke-width="0" fill-opacity="0.87"/>
<circle cx="215.79" cy="931.69" r="2.80" fill="#3457b4" stroke="none" stroke-width="0" fill-opacity="0.87"/>
<circle cx="215.71" cy="933.60" r="2.80" fill="#3457b4" stroke="none" stroke-width="0" fill-opacity="0.87"/>
<circle cx="215.00" cy="935.50" r="2.80" fill="#474dac" stroke="none" stroke-width="0" fill-opacity="0.87"/>
<circle cx="228.66" cy="893.40" r="2.80" fill="#3457b4" stroke="none" stroke-width="0" fill-opacity="0.87"/>
<circle cx="228.57" cy="895.34" r="2.80" fill="#474dac" stroke="none" stroke-width="0" fill-opacity="0.87"/>
<circle cx="228.08" cy="897.29" r="2.80" fill="#3457b4" stroke="none" stroke-width="0" fill-opacity="0.87"/>
<circle cx="228.10" cy="899.23" r="2.80" fill="#3457b4" stroke="none" stroke-width="0" fill-opacity="0.87"/>
<circle cx="228.01" cy="901.18" r="2.80" fill="#3457b4" stroke="none" stroke-width="0" fill-opacity="0.87"/>
<circle cx="227.99" cy="903.12" r="2.80" fill="#474dac" stroke="none" stroke-width="0" fill-opacity="0.87"/>
<circle cx="227.61" cy="905.06" r="2.80" fill="#474dac" stroke="none" stroke-width="0" fill-opacity="0.87"/>
<circle cx="227.31" cy="907.01" r="2.80" fill="#3457b4" stroke="none" stroke-width="0" fill-opacity="0.87"/>
<circle cx="227.04" cy="910.90" r="2.80" fill="#3457b4" stroke="none" stroke-width="0" fill-opacity="0.87"/>
<circle cx="226.56" cy="912.84" r="2.80" fill="#3457b4" stroke="none" stroke-width="0" fill-opacity="0.87"/>
<circle cx="226.01" cy="916.73" r="2.80" fill="#3457b4" stroke="none" stroke-width="0" fill-opacity="0.87"/>
<circle cx="226.10" cy="918.67" r="2.80" fill="#474dac" stroke="none" stroke-width="0" fill-opacity="0.87"/>
<circle cx="225.69" cy="920.62" r="2.80" fill="#3457b4" stroke="none" stroke-width="0" fill-opacity="0.87"/>
<circle cx="225.65" cy="922.56" r="2.80" fill="#3457b4" stroke="none" stroke-width="0" fill-opacity="0.87"/>
<circle cx="225.04" cy="924.50" r="2.80" fill="#3457b4" stroke="none" stroke-width="0" fill-opacity="0.87"/>
<circle cx="225.29" cy="926.45" r="2.80" fill="#474dac" stroke="none" stroke-width="0" fill-opacity="0.87"/>
<circle cx="225.09" cy="928.39" r="2.80" fill="#3457b4" stroke="none" stroke-width="0" fill-opacity="0.87"/>
<circle cx="224.52" cy="930.34" r="2.80" fill="#3457b4" stroke="none" stroke-width="0" fill-opacity="0.87"/>
<circle cx="224.51" cy="932.28" r="2.80" fill="#3457b4" stroke="none" stroke-width="0" fill-opacity="0.87"/>
<circle cx="224.22" cy="934.22" r="2.80" fill="#3457b4" stroke="none" stroke-width="0" fill-opacity="0.87"/>
<circle cx="223.79" cy="936.17" r="2.80" fill="#3457b4" stroke="none" stroke-width="0" fill-opacity="0.87"/>
<circle cx="224.03" cy="938.11" r="2.80" fill="#3457b4" stroke="none" stroke-width="0" fill-opacity="0.87"/>
<circle cx="223.83" cy="940.06" r="2.80" fill="#474dac" stroke="none" stroke-width="0" fill-opacity="0.87"/>
<circle cx="223.81" cy="942.00" r="2.80" fill="#3457b4" stroke="none" stroke-width="0" fill-opacity="0.87"/>
<circle cx="235.90" cy="903.10" r="2.80" fill="#474dac" stroke="none" stroke-width="0" fill-opacity="0.87"/>
<circle cx="235.37" cy="905.55" r="2.80" fill="#3457b4" stroke="none" stroke-width="0" fill-opacity="0.87"/>
<circle cx="245.14" cy="896.10" r="2.80" fill="#3457b4" stroke="none" stroke-width="0" fill-opacity="0.87"/>
<circle cx="245.37" cy="898.04" r="2.80" fill="#474dac" stroke="none" stroke-width="0" fill-opacity="0.87"/>
<circle cx="245.15" cy="899.99" r="2.80" fill="#474dac" stroke="none" stroke-width="0" fill-opacity="0.87"/>
<circle cx="244.69" cy="901.93" r="2.80" fill="#3457b4" stroke="none" stroke-width="0" fill-opacity="0.87"/>
<circle cx="244.72" cy="903.88" r="2.80" fill="#3457b4" stroke="none" stroke-width="0" fill-opacity="0.87"/>
<circle cx="244.13" cy="905.82" r="2.80" fill="#3457b4" stroke="none" stroke-width="0" fill-opacity="0.87"/>
<circle cx="244.26" cy="907.77" r="2.80" fill="#3457b4" stroke="none" stroke-width="0" fill-opacity="0.87"/>
<circle cx="244.32" cy="909.71" r="2.80" fill="#3457b4" stroke="none" stroke-width="0" fill-opacity="0.87"/>
<circle cx="243.90" cy="911.66" r="2.80" fill="#3457b4" stroke="none" stroke-width="0" fill-opacity="0.87"/>
<circle cx="243.69" cy="913.60" r="2.80" fill="#3457b4" stroke="none" stroke-width="0" fill-opacity="0.87"/>
<circle cx="199.76" cy="970.50" r="2.80" fill="#3457b4" stroke="none" stroke-width="0" fill-opacity="0.87"/>
<circle cx="199.65" cy="972.47" r="2.80" fill="#3457b4" stroke="none" stroke-width="0" fill-opacity="0.87"/>
<circle cx="199.20" cy="974.43" r="2.80" fill="#3457b4" stroke="none" stroke-width="0" fill-opacity="0.87"/>
<circle cx="131.78" cy="935.50" r="2.80" fill="#3457b4" stroke="none" stroke-width="0" fill-opacity="0.87"/>
<circle cx="132.14" cy="937.70" r="2.80" fill="#3457b4" stroke="none" stroke-width="0" fill-opacity="0.87"/>
<circle cx="131.55" cy="939.90" r="2.80" fill="#3457b4" stroke="none" stroke-width="0" fill-opacity="0.87"/>
<circle cx="166.06" cy="830.90" r="2.80" fill="#3457b4" stroke="none" stroke-width="0" fill-opacity="0.87"/>
<circle cx="166.10" cy="833.27" r="2.80" fill="#474dac" stroke="none" stroke-width="0" fill-opacity="0.87"/>
<circle cx="166.25" cy="835.63" r="2.80" fill="#3457b4" stroke="none" stroke-width="0" fill-opacity="0.87"/>
<circle cx="165.86" cy="838.00" r="2.80" fill="#474dac" stroke="none" stroke-width="0" fill-opacity="0.87"/>
<circle cx="156.07" cy="847.23" r="2.80" fill="#3457b4" stroke="none" stroke-width="0" fill-opacity="0.87"/>
<circle cx="156.10" cy="849.27" r="2.80" fill="#3457b4" stroke="none" stroke-width="0" fill-opacity="0.87"/>
<circle cx="156.03" cy="851.30" r="2.80" fill="#3457b4" stroke="none" stroke-width="0" fill-opacity="0.87"/>
<circle cx="148.86" cy="843.10" r="2.80" fill="#3457b4" stroke="none" stroke-width="0" fill-opacity="0.87"/>
<circle cx="149.21" cy="845.00" r="2.80" fill="#474dac" stroke="none" stroke-width="0" fill-opacity="0.87"/>
<circle cx="149.28" cy="846.90" r="2.80" fill="#3457b4" stroke="none" stroke-width="0" fill-opacity="0.87"/>
<circle cx="149.34" cy="848.80" r="2.80" fill="#3457b4" stroke="none" stroke-width="0" fill-opacity="0.87"/>
<circle cx="149.94" cy="850.70" r="2.80" fill="#3457b4" stroke="none" stroke-width="0" fill-opacity="0.87"/>
<circle cx="149.83" cy="852.60" r="2.80" fill="#3457b4" stroke="none" stroke-width="0" fill-opacity="0.87"/>
<circle cx="150.09" cy="854.50" r="2.80" fill="#3457b4" stroke="none" stroke-width="0" fill-opacity="0.87"/>
<circle cx="150.15" cy="856.40" r="2.80" fill="#3457b4" stroke="none" stroke-width="0" fill-opacity="0.87"/>
<circle cx="265.35" cy="843.50" r="2.80" fill="#3457b4" stroke="none" stroke-width="0" fill-opacity="0.87"/>
<circle cx="264.96" cy="845.39" r="2.80" fill="#474dac" stroke="none" stroke-width="0" fill-opacity="0.87"/>
<circle cx="265.32" cy="847.29" r="2.80" fill="#3457b4" stroke="none" stroke-width="0" fill-opacity="0.87"/>
<circle cx="265.03" cy="849.18" r="2.80" fill="#3457b4" stroke="none" stroke-width="0" fill-opacity="0.87"/>
<circle cx="264.69" cy="851.07" r="2.80" fill="#3457b4" stroke="none" stroke-width="0" fill-opacity="0.87"/>
<circle cx="263.91" cy="852.96" r="2.80" fill="#3457b4" stroke="none" stroke-width="0" fill-opacity="0.87"/>
<circle cx="264.20" cy="854.86" r="2.80" fill="#3457b4" stroke="none" stroke-width="0" fill-opacity="0.87"/>
<circle cx="263.81" cy="856.75" r="2.80" fill="#3457b4" stroke="none" stroke-width="0" fill-opacity="0.87"/>
<circle cx="263.49" cy="858.64" r="2.80" fill="#3457b4" stroke="none" stroke-width="0" fill-opacity="0.87"/>
<circle cx="263.14" cy="860.54" r="2.80" fill="#474dac" stroke="none" stroke-width="0" fill-opacity="0.87"/>
<circle cx="263.35" cy="862.43" r="2.80" fill="#3457b4" stroke="none" stroke-width="0" fill-opacity="0.87"/>
<circle cx="263.00" cy="864.32" r="2.80" fill="#3457b4" stroke="none" stroke-width="0" fill-opacity="0.87"/>
<circle cx="262.55" cy="866.21" r="2.80" fill="#3457b4" stroke="none" stroke-width="0" fill-opacity="0.87"/>
<circle cx="262.06" cy="870.00" r="2.80" fill="#474dac" stroke="none" stroke-width="0" fill-opacity="0.87"/>
<circle cx="148.10" cy="838.00" r="2.80" fill="#474dac" stroke="none" stroke-width="0" fill-opacity="0.87"/>
<circle cx="148.28" cy="840.00" r="2.80" fill="#3457b4" stroke="none" stroke-width="0" fill-opacity="0.87"/>
<circle cx="148.11" cy="842.00" r="2.80" fill="#3457b4" stroke="none" stroke-width="0" fill-opacity="0.87"/>
<circle cx="148.04" cy="844.00" r="2.80" fill="#3457b4" stroke="none" stroke-width="0" fill-opacity="0.87"/>
<circle cx="148.31" cy="846.00" r="2.80" fill="#3457b4" stroke="none" stroke-width="0" fill-opacity="0.87"/>
<circle cx="148.31" cy="848.00" r="2.80" fill="#474dac" stroke="none" stroke-width="0" fill-opacity="0.87"/>
<circle cx="148.85" cy="850.00" r="2.80" fill="#3457b4" stroke="none" stroke-width="0" fill-opacity="0.87"/>
<circle cx="159.00" cy="745.80" r="2.75" fill="#ef6a45" stroke="none" stroke-width="0" fill-opacity="0.74"/>
<circle cx="166.00" cy="757.20" r="2.75" fill="#6b3c9e" stroke="none" stroke-width="0" fill-opacity="0.74"/>
<circle cx="202.90" cy="765.00" r="2.75" fill="#e04a3c" stroke="none" stroke-width="0" fill-opacity="0.74"/>
<circle cx="167.70" cy="849.60" r="2.75" fill="#e04a3c" stroke="none" stroke-width="0" fill-opacity="0.74"/>
<circle cx="167.70" cy="857.50" r="2.75" fill="#6b3c9e" stroke="none" stroke-width="0" fill-opacity="0.74"/>
<circle cx="105.60" cy="888.20" r="2.75" fill="#3457b4" stroke="none" stroke-width="0" fill-opacity="0.74"/>
<circle cx="160.70" cy="921.50" r="2.75" fill="#3457b4" stroke="none" stroke-width="0" fill-opacity="0.74"/>
<circle cx="201.40" cy="945.40" r="2.75" fill="#3457b4" stroke="none" stroke-width="0" fill-opacity="0.74"/>
<circle cx="219.70" cy="882.90" r="2.75" fill="#6b3c9e" stroke="none" stroke-width="0" fill-opacity="0.74"/>
<circle cx="199.90" cy="963.20" r="2.75" fill="#3457b4" stroke="none" stroke-width="0" fill-opacity="0.74"/>
<circle cx="140.70" cy="936.90" r="2.75" fill="#3457b4" stroke="none" stroke-width="0" fill-opacity="0.74"/>
<circle cx="183.10" cy="919.70" r="2.75" fill="#3457b4" stroke="none" stroke-width="0" fill-opacity="0.74"/>
<circle cx="198.90" cy="920.60" r="2.75" fill="#3457b4" stroke="none" stroke-width="0" fill-opacity="0.74"/>
<circle cx="183.10" cy="919.40" r="2.75" fill="#3457b4" stroke="none" stroke-width="0" fill-opacity="0.74"/>
<circle cx="199.10" cy="920.10" r="2.75" fill="#3457b4" stroke="none" stroke-width="0" fill-opacity="0.74"/>
<circle cx="116.10" cy="928.50" r="2.75" fill="#3457b4" stroke="none" stroke-width="0" fill-opacity="0.74"/>
<circle cx="139.70" cy="936.40" r="2.75" fill="#3457b4" stroke="none" stroke-width="0" fill-opacity="0.74"/>
<circle cx="74.90" cy="880.30" r="2.75" fill="#6b3c9e" stroke="none" stroke-width="0" fill-opacity="0.74"/>
<circle cx="220.40" cy="882.50" r="2.75" fill="#6b3c9e" stroke="none" stroke-width="0" fill-opacity="0.74"/>
<circle cx="229.60" cy="819.30" r="2.75" fill="#6b3c9e" stroke="none" stroke-width="0" fill-opacity="0.74"/>
<circle cx="229.60" cy="824.60" r="2.75" fill="#6b3c9e" stroke="none" stroke-width="0" fill-opacity="0.74"/>
<circle cx="245.30" cy="821.20" r="2.75" fill="#6b3c9e" stroke="none" stroke-width="0" fill-opacity="0.74"/>
<circle cx="206.60" cy="832.10" r="2.75" fill="#6b3c9e" stroke="none" stroke-width="0" fill-opacity="0.74"/>
<circle cx="229.90" cy="819.00" r="2.75" fill="#3457b4" stroke="none" stroke-width="0" fill-opacity="0.74"/>
<circle cx="167.60" cy="850.30" r="2.75" fill="#e04a3c" stroke="none" stroke-width="0" fill-opacity="0.74"/>
<circle cx="167.60" cy="857.40" r="2.75" fill="#6b3c9e" stroke="none" stroke-width="0" fill-opacity="0.74"/>
<circle cx="185.00" cy="847.70" r="2.75" fill="#3457b4" stroke="none" stroke-width="0" fill-opacity="0.74"/>
<circle cx="205.90" cy="831.90" r="2.75" fill="#6b3c9e" stroke="none" stroke-width="0" fill-opacity="0.74"/>
<circle cx="141.00" cy="802.80" r="2.75" fill="#6b3c9e" stroke="none" stroke-width="0" fill-opacity="0.74"/>
<circle cx="143.10" cy="840.10" r="2.75" fill="#3457b4" stroke="none" stroke-width="0" fill-opacity="0.74"/>
<circle cx="90.90" cy="822.20" r="2.75" fill="#6b3c9e" stroke="none" stroke-width="0" fill-opacity="0.74"/>
<circle cx="141.50" cy="801.80" r="2.75" fill="#6b3c9e" stroke="none" stroke-width="0" fill-opacity="0.74"/>
<circle cx="141.50" cy="812.30" r="2.75" fill="#6b3c9e" stroke="none" stroke-width="0" fill-opacity="0.74"/>
<circle cx="142.30" cy="818.50" r="2.75" fill="#6b3c9e" stroke="none" stroke-width="0" fill-opacity="0.74"/>
<circle cx="134.50" cy="813.20" r="2.75" fill="#3457b4" stroke="none" stroke-width="0" fill-opacity="0.74"/>
<circle cx="135.30" cy="829.90" r="2.75" fill="#3457b4" stroke="none" stroke-width="0" fill-opacity="0.74"/>
<circle cx="136.20" cy="836.90" r="2.75" fill="#3457b4" stroke="none" stroke-width="0" fill-opacity="0.74"/>
<circle cx="104.70" cy="829.00" r="2.75" fill="#3457b4" stroke="none" stroke-width="0" fill-opacity="0.74"/>
<circle cx="105.90" cy="836.90" r="2.75" fill="#3457b4" stroke="none" stroke-width="0" fill-opacity="0.74"/>
<circle cx="106.40" cy="844.80" r="2.75" fill="#3457b4" stroke="none" stroke-width="0" fill-opacity="0.74"/>
<circle cx="113.40" cy="843.90" r="2.75" fill="#3457b4" stroke="none" stroke-width="0" fill-opacity="0.74"/>
<circle cx="119.60" cy="833.40" r="2.75" fill="#6b3c9e" stroke="none" stroke-width="0" fill-opacity="0.74"/>
<circle cx="120.40" cy="840.40" r="2.75" fill="#3457b4" stroke="none" stroke-width="0" fill-opacity="0.74"/>
<circle cx="165.10" cy="831.60" r="2.75" fill="#3457b4" stroke="none" stroke-width="0" fill-opacity="0.74"/>
<circle cx="166.00" cy="835.10" r="2.75" fill="#3457b4" stroke="none" stroke-width="0" fill-opacity="0.74"/>
<circle cx="105.30" cy="829.40" r="2.75" fill="#3457b4" stroke="none" stroke-width="0" fill-opacity="0.74"/>
<circle cx="106.00" cy="836.60" r="2.75" fill="#6b3c9e" stroke="none" stroke-width="0" fill-opacity="0.74"/>
<circle cx="113.90" cy="843.90" r="2.75" fill="#6b3c9e" stroke="none" stroke-width="0" fill-opacity="0.74"/>
<circle cx="114.50" cy="852.40" r="2.75" fill="#3457b4" stroke="none" stroke-width="0" fill-opacity="0.74"/>
<circle cx="108.60" cy="858.30" r="2.75" fill="#3457b4" stroke="none" stroke-width="0" fill-opacity="0.74"/>
<circle cx="109.30" cy="862.90" r="2.75" fill="#3457b4" stroke="none" stroke-width="0" fill-opacity="0.74"/>
<circle cx="109.90" cy="870.80" r="2.75" fill="#3457b4" stroke="none" stroke-width="0" fill-opacity="0.74"/>
<circle cx="115.20" cy="861.60" r="2.75" fill="#3457b4" stroke="none" stroke-width="0" fill-opacity="0.74"/>
<circle cx="115.80" cy="868.80" r="2.75" fill="#3457b4" stroke="none" stroke-width="0" fill-opacity="0.74"/>
<circle cx="121.80" cy="858.30" r="2.75" fill="#3457b4" stroke="none" stroke-width="0" fill-opacity="0.74"/>
<circle cx="123.10" cy="869.50" r="2.75" fill="#6b3c9e" stroke="none" stroke-width="0" fill-opacity="0.74"/>
<circle cx="119.80" cy="832.70" r="2.75" fill="#6b3c9e" stroke="none" stroke-width="0" fill-opacity="0.74"/>
<circle cx="119.80" cy="836.60" r="2.75" fill="#98307a" stroke="none" stroke-width="0" fill-opacity="0.74"/>
<circle cx="120.40" cy="847.20" r="2.75" fill="#6b3c9e" stroke="none" stroke-width="0" fill-opacity="0.74"/>
<circle cx="135.50" cy="813.00" r="2.75" fill="#3457b4" stroke="none" stroke-width="0" fill-opacity="0.74"/>
<circle cx="136.20" cy="829.40" r="2.75" fill="#3457b4" stroke="none" stroke-width="0" fill-opacity="0.74"/>
<circle cx="136.90" cy="837.30" r="2.75" fill="#3457b4" stroke="none" stroke-width="0" fill-opacity="0.74"/>
<circle cx="137.50" cy="841.90" r="2.75" fill="#3457b4" stroke="none" stroke-width="0" fill-opacity="0.74"/>
<circle cx="142.80" cy="840.60" r="2.75" fill="#3457b4" stroke="none" stroke-width="0" fill-opacity="0.74"/>
<circle cx="142.10" cy="813.70" r="2.75" fill="#6b3c9e" stroke="none" stroke-width="0" fill-opacity="0.74"/>
<circle cx="142.10" cy="819.00" r="2.75" fill="#6b3c9e" stroke="none" stroke-width="0" fill-opacity="0.74"/>
<circle cx="129.60" cy="850.40" r="2.75" fill="#6b3c9e" stroke="none" stroke-width="0" fill-opacity="0.74"/>
<circle cx="107.30" cy="846.10" r="2.75" fill="#3457b4" stroke="none" stroke-width="0" fill-opacity="0.74"/>
<circle cx="114.30" cy="852.30" r="2.75" fill="#3457b4" stroke="none" stroke-width="0" fill-opacity="0.74"/>
<circle cx="109.00" cy="858.40" r="2.75" fill="#3457b4" stroke="none" stroke-width="0" fill-opacity="0.74"/>
<circle cx="109.00" cy="862.80" r="2.75" fill="#3457b4" stroke="none" stroke-width="0" fill-opacity="0.74"/>
<circle cx="116.10" cy="861.00" r="2.75" fill="#3457b4" stroke="none" stroke-width="0" fill-opacity="0.74"/>
<circle cx="116.10" cy="866.30" r="2.75" fill="#3457b4" stroke="none" stroke-width="0" fill-opacity="0.74"/>
<circle cx="109.90" cy="870.70" r="2.75" fill="#6b3c9e" stroke="none" stroke-width="0" fill-opacity="0.74"/>
<circle cx="122.20" cy="858.40" r="2.75" fill="#3457b4" stroke="none" stroke-width="0" fill-opacity="0.74"/>
<circle cx="122.20" cy="868.90" r="2.75" fill="#6b3c9e" stroke="none" stroke-width="0" fill-opacity="0.74"/>
<circle cx="123.10" cy="877.70" r="2.75" fill="#3457b4" stroke="none" stroke-width="0" fill-opacity="0.74"/>
<circle cx="123.90" cy="882.00" r="2.75" fill="#3457b4" stroke="none" stroke-width="0" fill-opacity="0.74"/>
<circle cx="97.70" cy="863.70" r="2.75" fill="#3457b4" stroke="none" stroke-width="0" fill-opacity="0.74"/>
<circle cx="137.10" cy="841.80" r="2.75" fill="#3457b4" stroke="none" stroke-width="0" fill-opacity="0.74"/>
<circle cx="97.70" cy="892.60" r="2.75" fill="#3457b4" stroke="none" stroke-width="0" fill-opacity="0.74"/>
<circle cx="98.50" cy="898.70" r="2.75" fill="#3457b4" stroke="none" stroke-width="0" fill-opacity="0.74"/>
<circle cx="174.00" cy="808.00" r="2.75" fill="#6b3c9e" stroke="none" stroke-width="0" fill-opacity="0.74"/>
<circle cx="235.70" cy="906.00" r="2.75" fill="#3457b4" stroke="none" stroke-width="0" fill-opacity="0.74"/>
<circle cx="229.90" cy="824.10" r="2.75" fill="#6b3c9e" stroke="none" stroke-width="0" fill-opacity="0.74"/>
<line x1="64.06" y1="910.63" x2="60.46" y2="911.93" stroke="#000" stroke-width="0.9" />
<text x="0" y="0" font-size="9.6" text-anchor="middle" fill="#111" transform="translate(57.32,919.65) rotate(-40)">10</text>
<line x1="60.10" y1="891.22" x2="56.50" y2="892.52" stroke="#000" stroke-width="0.9" />
<text x="0" y="0" font-size="9.6" text-anchor="middle" fill="#111" transform="translate(53.32,900.25) rotate(-40)">20</text>
<line x1="55.83" y1="870.24" x2="52.23" y2="871.54" stroke="#000" stroke-width="0.9" />
<text x="0" y="0" font-size="9.6" text-anchor="middle" fill="#111" transform="translate(48.42,878.85) rotate(-40)">30</text>
<line x1="51.18" y1="847.46" x2="47.58" y2="848.76" stroke="#000" stroke-width="0.9" />
<text x="0" y="0" font-size="9.6" text-anchor="middle" fill="#111" transform="translate(42.82,855.85) rotate(-40)">40</text>
<line x1="46.13" y1="822.66" x2="42.53" y2="823.96" stroke="#000" stroke-width="0.9" />
<text x="0" y="0" font-size="9.6" text-anchor="middle" fill="#111" transform="translate(36.52,831.25) rotate(-40)">50</text>
<line x1="40.61" y1="795.56" x2="37.01" y2="796.86" stroke="#000" stroke-width="0.9" />
<text x="0" y="0" font-size="9.6" text-anchor="middle" fill="#111" transform="translate(30.72,803.85) rotate(-40)">60</text>
<text x="0" y="0" font-size="8.5" text-anchor="middle" fill="#111" transform="translate(31.47,887.57) rotate(73.5)">Catalytic efficiency(%)</text>
<line x1="71.49" y1="930.47" x2="70.29" y2="932.87" stroke="#000" stroke-width="0.9" />
<text x="0" y="0" font-size="9.8" text-anchor="end" fill="#111" transform="translate(73.09,936.27) rotate(-57)">1-7</text>
<line x1="77.79" y1="933.57" x2="76.59" y2="935.97" stroke="#000" stroke-width="0.9" />
<text x="0" y="0" font-size="9.8" text-anchor="end" fill="#111" transform="translate(79.39,939.37) rotate(-57)">1-8</text>
<line x1="84.19" y1="936.72" x2="82.99" y2="939.12" stroke="#000" stroke-width="0.9" />
<text x="0" y="0" font-size="9.8" text-anchor="end" fill="#111" transform="translate(85.79,942.52) rotate(-57)">1-9</text>
<line x1="90.69" y1="939.92" x2="89.49" y2="942.32" stroke="#000" stroke-width="0.9" />
<text x="0" y="0" font-size="9.8" text-anchor="end" fill="#111" transform="translate(92.29,945.72) rotate(-57)">1-10</text>
<line x1="97.31" y1="943.17" x2="96.11" y2="945.57" stroke="#000" stroke-width="0.9" />
<text x="0" y="0" font-size="9.8" text-anchor="end" fill="#111" transform="translate(98.91,948.97) rotate(-57)">2-5</text>
<line x1="104.03" y1="946.47" x2="102.83" y2="948.87" stroke="#000" stroke-width="0.9" />
<text x="0" y="0" font-size="9.8" text-anchor="end" fill="#111" transform="translate(105.63,952.27) rotate(-57)">2-6</text>
<line x1="110.86" y1="949.84" x2="109.66" y2="952.24" stroke="#000" stroke-width="0.9" />
<text x="0" y="0" font-size="9.8" text-anchor="end" fill="#111" transform="translate(112.46,955.64) rotate(-57)">2-7</text>
<line x1="117.81" y1="953.25" x2="116.61" y2="955.65" stroke="#000" stroke-width="0.9" />
<text x="0" y="0" font-size="9.8" text-anchor="end" fill="#111" transform="translate(119.41,959.05) rotate(-57)">2-8</text>
<line x1="124.88" y1="956.73" x2="123.68" y2="959.13" stroke="#000" stroke-width="0.9" />
<text x="0" y="0" font-size="9.8" text-anchor="end" fill="#111" transform="translate(126.48,962.53) rotate(-57)">2-9</text>
<line x1="132.07" y1="960.27" x2="130.87" y2="962.67" stroke="#000" stroke-width="0.9" />
<text x="0" y="0" font-size="9.8" text-anchor="end" fill="#111" transform="translate(133.67,966.07) rotate(-57)">2-11</text>
<line x1="139.38" y1="963.86" x2="138.18" y2="966.26" stroke="#000" stroke-width="0.9" />
<text x="0" y="0" font-size="9.8" text-anchor="end" fill="#111" transform="translate(140.98,969.66) rotate(-57)">3-5</text>
<line x1="146.82" y1="967.52" x2="145.62" y2="969.92" stroke="#000" stroke-width="0.9" />
<text x="0" y="0" font-size="9.8" text-anchor="end" fill="#111" transform="translate(148.42,973.32) rotate(-57)">3-6</text>
<line x1="154.40" y1="971.25" x2="153.20" y2="973.65" stroke="#000" stroke-width="0.9" />
<text x="0" y="0" font-size="9.8" text-anchor="end" fill="#111" transform="translate(156.00,977.05) rotate(-57)">3-7</text>
<line x1="162.10" y1="975.04" x2="160.90" y2="977.44" stroke="#000" stroke-width="0.9" />
<text x="0" y="0" font-size="9.8" text-anchor="end" fill="#111" transform="translate(163.70,980.84) rotate(-57)">4-5</text>
<line x1="169.95" y1="978.90" x2="168.75" y2="981.30" stroke="#000" stroke-width="0.9" />
<text x="0" y="0" font-size="9.8" text-anchor="end" fill="#111" transform="translate(171.55,984.70) rotate(-57)">4-6</text>
<line x1="177.93" y1="982.83" x2="176.73" y2="985.23" stroke="#000" stroke-width="0.9" />
<text x="0" y="0" font-size="9.8" text-anchor="end" fill="#111" transform="translate(179.53,988.63) rotate(-57)">4-7</text>
<line x1="186.07" y1="986.83" x2="184.87" y2="989.23" stroke="#000" stroke-width="0.9" />
<text x="0" y="0" font-size="9.8" text-anchor="end" fill="#111" transform="translate(187.67,992.63) rotate(-57)">4-10</text>
<line x1="194.35" y1="990.90" x2="193.15" y2="993.30" stroke="#000" stroke-width="0.9" />
<text x="0" y="0" font-size="9.8" text-anchor="end" fill="#111" transform="translate(195.95,996.70) rotate(-57)">4-11</text>
<text x="0" y="0" font-size="8.4" text-anchor="middle" fill="#111" transform="translate(111.31,982.63) rotate(29.6)">Catalytic windows</text>
<line x1="198.21" y1="992.80" x2="202.51" y2="994.60" stroke="#000" stroke-width="0.9" />
<text x="209.80" y="1003.70" font-size="10.4" text-anchor="middle" font-weight="normal" fill="#111" >AC</text>
<line x1="222.75" y1="955.82" x2="227.05" y2="957.62" stroke="#000" stroke-width="0.9" />
<text x="235.00" y="964.30" font-size="10.4" text-anchor="middle" font-weight="normal" fill="#111" >GC</text>
<line x1="243.73" y1="924.20" x2="248.03" y2="926.00" stroke="#000" stroke-width="0.9" />
<text x="254.70" y="933.20" font-size="10.4" text-anchor="middle" font-weight="normal" fill="#111" >CC</text>
<line x1="261.88" y1="896.84" x2="266.18" y2="898.64" stroke="#000" stroke-width="0.9" />
<text x="271.80" y="904.10" font-size="10.4" text-anchor="middle" font-weight="normal" fill="#111" >TC</text>
<text x="0" y="0" font-size="8.8" text-anchor="middle" fill="#111" transform="translate(261.96,950.33) rotate(-57)">Catalytic motif</text>
<defs><linearGradient id="gcb" x1="0" y1="1" x2="0" y2="0"><stop offset="0" stop-color="#3a56b0"/><stop offset="0.3" stop-color="#4f3fa3"/><stop offset="0.5" stop-color="#6a2a8c"/><stop offset="0.75" stop-color="#a3306a"/><stop offset="1" stop-color="#e8352c"/></linearGradient></defs>
<rect x="316.3" y="797.6" width="5.1" height="136.9" fill="url(#gcb)"/>
<text x="323.7" y="934.90" font-size="11" fill="#111" textLength="24.5" lengthAdjust="spacingAndGlyphs">0.00</text>
<text x="323.7" y="914.55" font-size="11" fill="#111" textLength="24.5" lengthAdjust="spacingAndGlyphs">0.05</text>
<text x="323.7" y="894.20" font-size="11" fill="#111" textLength="24.5" lengthAdjust="spacingAndGlyphs">0.10</text>
<text x="323.7" y="873.85" font-size="11" fill="#111" textLength="24.5" lengthAdjust="spacingAndGlyphs">0.15</text>
<text x="323.7" y="853.50" font-size="11" fill="#111" textLength="24.5" lengthAdjust="spacingAndGlyphs">0.20</text>
<text x="323.7" y="833.15" font-size="11" fill="#111" textLength="24.5" lengthAdjust="spacingAndGlyphs">0.25</text>
<text x="323.7" y="812.80" font-size="11" fill="#111" textLength="24.5" lengthAdjust="spacingAndGlyphs">0.30</text>
<text x="0" y="0" font-size="11" fill="#111" text-anchor="middle" textLength="143" lengthAdjust="spacingAndGlyphs" transform="translate(305.6,866.0) rotate(-90)">Off-target catalytic activity</text>
<rect x="425.6" y="753.8" width="207.00" height="207.20" fill="#fff"/>
<line x1="432.80" y1="753.80" x2="432.80" y2="961.00" stroke="#e6e6e6" stroke-width="0.9" />
<line x1="460.10" y1="753.80" x2="460.10" y2="961.00" stroke="#e6e6e6" stroke-width="0.6" />
<line x1="487.40" y1="753.80" x2="487.40" y2="961.00" stroke="#e6e6e6" stroke-width="0.9" />
<line x1="514.70" y1="753.80" x2="514.70" y2="961.00" stroke="#e6e6e6" stroke-width="0.6" />
<line x1="542.00" y1="753.80" x2="542.00" y2="961.00" stroke="#e6e6e6" stroke-width="0.9" />
<line x1="569.30" y1="753.80" x2="569.30" y2="961.00" stroke="#e6e6e6" stroke-width="0.6" />
<line x1="596.60" y1="753.80" x2="596.60" y2="961.00" stroke="#e6e6e6" stroke-width="0.9" />
<line x1="623.90" y1="753.80" x2="623.90" y2="961.00" stroke="#e6e6e6" stroke-width="0.6" />
<line x1="425.60" y1="955.35" x2="632.60" y2="955.35" stroke="#e6e6e6" stroke-width="0.6" />
<line x1="425.60" y1="936.40" x2="632.60" y2="936.40" stroke="#e6e6e6" stroke-width="0.9" />
<line x1="425.60" y1="917.45" x2="632.60" y2="917.45" stroke="#e6e6e6" stroke-width="0.6" />
<line x1="425.60" y1="898.50" x2="632.60" y2="898.50" stroke="#e6e6e6" stroke-width="0.9" />
<line x1="425.60" y1="879.55" x2="632.60" y2="879.55" stroke="#e6e6e6" stroke-width="0.6" />
<line x1="425.60" y1="860.60" x2="632.60" y2="860.60" stroke="#e6e6e6" stroke-width="0.9" />
<line x1="425.60" y1="841.65" x2="632.60" y2="841.65" stroke="#e6e6e6" stroke-width="0.6" />
<line x1="425.60" y1="822.70" x2="632.60" y2="822.70" stroke="#e6e6e6" stroke-width="0.9" />
<line x1="425.60" y1="803.75" x2="632.60" y2="803.75" stroke="#e6e6e6" stroke-width="0.6" />
<line x1="425.60" y1="784.80" x2="632.60" y2="784.80" stroke="#e6e6e6" stroke-width="0.9" />
<line x1="425.60" y1="765.85" x2="632.60" y2="765.85" stroke="#e6e6e6" stroke-width="0.6" />
<circle cx="434.98" cy="863.63" r="1.75" fill="#3a6ea5" stroke="none" stroke-width="0"/>
<circle cx="436.62" cy="871.21" r="1.75" fill="#3a6ea5" stroke="none" stroke-width="0"/>
<circle cx="436.90" cy="872.73" r="1.75" fill="#3a6ea5" stroke="none" stroke-width="0"/>
<circle cx="434.44" cy="891.68" r="1.75" fill="#3a6ea5" stroke="none" stroke-width="0"/>
<circle cx="434.44" cy="941.33" r="1.75" fill="#3a6ea5" stroke="none" stroke-width="0"/>
<circle cx="436.62" cy="951.94" r="1.75" fill="#3a6ea5" stroke="none" stroke-width="0"/>
<circle cx="473.20" cy="862.50" r="1.75" fill="#3a6ea5" stroke="none" stroke-width="0"/>
<circle cx="484.94" cy="869.70" r="1.75" fill="#3a6ea5" stroke="none" stroke-width="0"/>
<circle cx="499.96" cy="877.28" r="1.75" fill="#3a6ea5" stroke="none" stroke-width="0"/>
<circle cx="502.96" cy="873.87" r="1.75" fill="#3a6ea5" stroke="none" stroke-width="0"/>
<circle cx="505.14" cy="847.71" r="1.75" fill="#3a6ea5" stroke="none" stroke-width="0"/>
<circle cx="502.14" cy="906.46" r="1.75" fill="#3a6ea5" stroke="none" stroke-width="0"/>
<circle cx="516.07" cy="848.85" r="1.75" fill="#3a6ea5" stroke="none" stroke-width="0"/>
<circle cx="520.16" cy="839.75" r="1.75" fill="#3a6ea5" stroke="none" stroke-width="0"/>
<circle cx="520.16" cy="851.50" r="1.75" fill="#3a6ea5" stroke="none" stroke-width="0"/>
<circle cx="522.34" cy="876.52" r="1.75" fill="#3a6ea5" stroke="none" stroke-width="0"/>
<circle cx="531.35" cy="886.37" r="1.75" fill="#3a6ea5" stroke="none" stroke-width="0"/>
<circle cx="538.72" cy="846.20" r="1.75" fill="#3a6ea5" stroke="none" stroke-width="0"/>
<circle cx="541.45" cy="834.07" r="1.75" fill="#3a6ea5" stroke="none" stroke-width="0"/>
<circle cx="544.18" cy="841.65" r="1.75" fill="#3a6ea5" stroke="none" stroke-width="0"/>
<circle cx="583.50" cy="766.99" r="1.75" fill="#3a6ea5" stroke="none" stroke-width="0"/>
<circle cx="596.05" cy="770.78" r="1.75" fill="#3a6ea5" stroke="none" stroke-width="0"/>
<circle cx="592.23" cy="789.35" r="1.75" fill="#3a6ea5" stroke="none" stroke-width="0"/>
<circle cx="606.43" cy="803.75" r="1.75" fill="#3a6ea5" stroke="none" stroke-width="0"/>
<circle cx="603.97" cy="813.60" r="1.75" fill="#3a6ea5" stroke="none" stroke-width="0"/>
<circle cx="613.53" cy="796.17" r="1.75" fill="#3a6ea5" stroke="none" stroke-width="0"/>
<circle cx="622.53" cy="771.16" r="1.75" fill="#3a6ea5" stroke="none" stroke-width="0"/>
<polygon points="434.98,888.44 438.12,886.90 441.26,885.36 444.40,883.81 447.53,882.25 450.67,880.69 453.81,879.12 456.95,877.54 460.09,875.96 463.22,874.37 466.36,872.77 469.50,871.15 472.64,869.53 475.77,867.89 478.91,866.24 482.05,864.57 485.19,862.89 488.32,861.18 491.46,859.46 494.60,857.71 497.74,855.93 500.88,854.13 504.01,852.30 507.15,850.43 510.29,848.53 513.43,846.60 516.56,844.62 519.70,842.61 522.84,840.56 525.98,838.47 529.11,836.35 532.25,834.19 535.39,831.99 538.53,829.76 541.67,827.50 544.80,825.21 547.94,822.90 551.08,820.56 554.22,818.20 557.35,815.83 560.49,813.43 563.63,811.02 566.77,808.59 569.90,806.15 573.04,803.70 576.18,801.23 579.32,798.76 582.45,796.28 585.59,793.79 588.73,791.29 591.87,788.79 595.01,786.28 598.14,783.77 601.28,781.25 604.42,778.72 607.56,776.20 610.69,773.66 613.83,771.13 616.97,768.59 620.11,766.05 623.24,763.50 623.24,803.92 620.11,805.44 616.97,806.97 613.83,808.49 610.69,810.02 607.56,811.56 604.42,813.10 601.28,814.64 598.14,816.18 595.01,817.74 591.87,819.29 588.73,820.86 585.59,822.43 582.45,824.00 579.32,825.59 576.18,827.18 573.04,828.78 569.90,830.40 566.77,832.02 563.63,833.66 560.49,835.31 557.35,836.98 554.22,838.67 551.08,840.38 547.94,842.10 544.80,843.86 541.67,845.63 538.53,847.44 535.39,849.28 532.25,851.15 529.11,853.05 525.98,854.99 522.84,856.97 519.70,858.99 516.56,861.04 513.43,863.13 510.29,865.26 507.15,867.43 504.01,869.63 500.88,871.86 497.74,874.12 494.60,876.42 491.46,878.73 488.32,881.07 485.19,883.43 482.05,885.81 478.91,888.21 475.77,890.63 472.64,893.06 469.50,895.50 466.36,897.95 463.22,900.42 460.09,902.89 456.95,905.37 453.81,907.86 450.67,910.36 447.53,912.86 444.40,915.37 441.26,917.89 438.12,920.41 434.98,922.93" fill="#e0544c" fill-opacity="0.4"/>
<line x1="434.98" y1="905.69" x2="623.24" y2="783.71" stroke="#e2605a" stroke-width="1.0" />
<rect x="425.6" y="753.8" width="207.00" height="207.20" fill="none" stroke="#4d4d4d" stroke-width="1.0"/>
<line x1="421.30" y1="936.40" x2="425.60" y2="936.40" stroke="#4d4d4d" stroke-width="0.9" />
<text x="418.60" y="940.90" font-size="11.3" text-anchor="end" font-weight="normal" fill="#333" >0.1</text>
<line x1="421.30" y1="898.50" x2="425.60" y2="898.50" stroke="#4d4d4d" stroke-width="0.9" />
<text x="418.60" y="903.00" font-size="11.3" text-anchor="end" font-weight="normal" fill="#333" >0.2</text>
<line x1="421.30" y1="860.60" x2="425.60" y2="860.60" stroke="#4d4d4d" stroke-width="0.9" />
<text x="418.60" y="865.10" font-size="11.3" text-anchor="end" font-weight="normal" fill="#333" >0.3</text>
<line x1="421.30" y1="822.70" x2="425.60" y2="822.70" stroke="#4d4d4d" stroke-width="0.9" />
<text x="418.60" y="827.20" font-size="11.3" text-anchor="end" font-weight="normal" fill="#333" >0.4</text>
<line x1="421.30" y1="784.80" x2="425.60" y2="784.80" stroke="#4d4d4d" stroke-width="0.9" />
<text x="418.60" y="789.30" font-size="11.3" text-anchor="end" font-weight="normal" fill="#333" >0.5</text>
<line x1="432.80" y1="961.00" x2="432.80" y2="965.60" stroke="#4d4d4d" stroke-width="0.9" />
<text x="432.80" y="977.80" font-size="11.3" text-anchor="middle" font-weight="normal" fill="#333" >0.0</text>
<line x1="487.40" y1="961.00" x2="487.40" y2="965.60" stroke="#4d4d4d" stroke-width="0.9" />
<text x="487.40" y="977.80" font-size="11.3" text-anchor="middle" font-weight="normal" fill="#333" >0.2</text>
<line x1="542.00" y1="961.00" x2="542.00" y2="965.60" stroke="#4d4d4d" stroke-width="0.9" />
<text x="542.00" y="977.80" font-size="11.3" text-anchor="middle" font-weight="normal" fill="#333" >0.4</text>
<line x1="596.60" y1="961.00" x2="596.60" y2="965.60" stroke="#4d4d4d" stroke-width="0.9" />
<text x="596.60" y="977.80" font-size="11.3" text-anchor="middle" font-weight="normal" fill="#333" >0.6</text>
<text x="0" y="0" font-size="12.75" text-anchor="middle" fill="#231f20" transform="translate(392.00,857.00) rotate(-90)">Predicted catalytic efficiency (%)</text>
<text x="433.50" y="996.40" font-size="12.75" text-anchor="start" font-weight="normal" fill="#231f20" >Observed catalytic efficiency (%)</text>
<text x="563.9" y="941.5" font-size="11.4" fill="#231f20"><tspan font-style="italic">R</tspan>: 0.84</text>
<text x="563.9" y="953.2" font-size="11.4" fill="#231f20"><tspan font-style="italic">P</tspan>: 1.73e−08</text>
</svg>
</body></html>
